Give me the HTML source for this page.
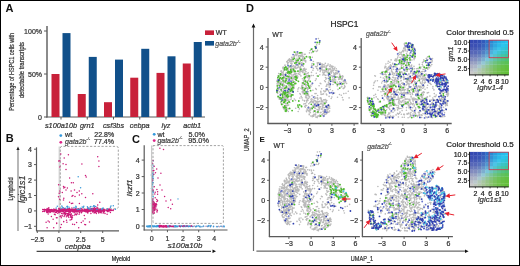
<!DOCTYPE html>
<html><head><meta charset="utf-8"><style>
html,body{margin:0;padding:0;background:#fff;}
#wrap{position:relative;width:520px;height:266px;overflow:hidden;background:#fff;}
svg{position:absolute;left:0;top:0;font-family:"Liberation Sans", sans-serif;will-change:transform;}
#border{position:absolute;left:0;top:0;width:518px;height:264px;border:1px solid #000;}
</style></head><body><div id="wrap">
<svg width="520" height="266" viewBox="0 0 520 266" xmlns="http://www.w3.org/2000/svg">
<text x="5.5" y="12" font-size="11" text-anchor="start" fill="#111" style="font-weight:bold;" >A</text>
<line x1="47" y1="26" x2="47" y2="117.5" stroke="#5a5a5a" stroke-width="1.4" />
<line x1="46.3" y1="117" x2="205" y2="117" stroke="#5a5a5a" stroke-width="1.2" />
<line x1="44" y1="31" x2="47" y2="31" stroke="#5a5a5a" stroke-width="1" />
<text x="42" y="33.5" font-size="7" text-anchor="end" fill="#333" style="stroke:#333;stroke-width:0.22px;" >100%</text>
<line x1="44" y1="74" x2="47" y2="74" stroke="#5a5a5a" stroke-width="1" />
<text x="42" y="76.5" font-size="7" text-anchor="end" fill="#333" style="stroke:#333;stroke-width:0.22px;" >50%</text>
<line x1="44" y1="117" x2="47" y2="117" stroke="#5a5a5a" stroke-width="1" />
<text x="42" y="119.5" font-size="7" text-anchor="end" fill="#333" style="stroke:#333;stroke-width:0.22px;" >0</text>
<rect x="51.5" y="74" width="8" height="43" fill="#c8213a" />
<rect x="62.5" y="33.1" width="8" height="83.9" fill="#11508a" />
<line x1="61.0" y1="117" x2="61.0" y2="119.5" stroke="#5a5a5a" stroke-width="1" />
<text x="61.0" y="128" font-size="7.3" text-anchor="middle" fill="#333" style="stroke:#333;stroke-width:0.22px;font-style:italic;" >s100a10b</text>
<rect x="77.75" y="94" width="8" height="23" fill="#c8213a" />
<rect x="88.75" y="56.9" width="8" height="60.1" fill="#11508a" />
<line x1="87.25" y1="117" x2="87.25" y2="119.5" stroke="#5a5a5a" stroke-width="1" />
<text x="87.25" y="128" font-size="7.3" text-anchor="middle" fill="#333" style="stroke:#333;stroke-width:0.22px;font-style:italic;" >grn1</text>
<rect x="104.0" y="102.2" width="8" height="14.799999999999997" fill="#c8213a" />
<rect x="115.0" y="59.6" width="8" height="57.4" fill="#11508a" />
<line x1="113.5" y1="117" x2="113.5" y2="119.5" stroke="#5a5a5a" stroke-width="1" />
<text x="113.5" y="128" font-size="7.3" text-anchor="middle" fill="#333" style="stroke:#333;stroke-width:0.22px;font-style:italic;" >csf3bs</text>
<rect x="130.25" y="77.7" width="8" height="39.3" fill="#c8213a" />
<rect x="141.25" y="48.8" width="8" height="68.2" fill="#11508a" />
<line x1="139.75" y1="117" x2="139.75" y2="119.5" stroke="#5a5a5a" stroke-width="1" />
<text x="139.75" y="128" font-size="7.3" text-anchor="middle" fill="#333" style="stroke:#333;stroke-width:0.22px;font-style:italic;" >cebpa</text>
<rect x="156.5" y="72.9" width="8" height="44.099999999999994" fill="#c8213a" />
<rect x="167.5" y="56.3" width="8" height="60.7" fill="#11508a" />
<line x1="166.0" y1="117" x2="166.0" y2="119.5" stroke="#5a5a5a" stroke-width="1" />
<text x="166.0" y="128" font-size="7.3" text-anchor="middle" fill="#333" style="stroke:#333;stroke-width:0.22px;font-style:italic;" >lyz</text>
<rect x="182.75" y="63.5" width="8" height="53.5" fill="#c8213a" />
<rect x="193.75" y="42" width="8" height="75" fill="#11508a" />
<line x1="192.25" y1="117" x2="192.25" y2="119.5" stroke="#5a5a5a" stroke-width="1" />
<text x="192.25" y="128" font-size="7.3" text-anchor="middle" fill="#333" style="stroke:#333;stroke-width:0.22px;font-style:italic;" >actb1</text>
<text x="0" y="0" font-size="6.6" text-anchor="middle" fill="#333" style="stroke:#333;stroke-width:0.22px;" transform="translate(13.6,71.8) rotate(-90) scale(0.834,1)" >Percentage of HSPC1 cells with</text>
<text x="0" y="0" font-size="6.6" text-anchor="middle" fill="#333" style="stroke:#333;stroke-width:0.22px;" transform="translate(24.3,70.1) rotate(-90) scale(0.9,1)" >detectable transcripts</text>
<rect x="205" y="30.4" width="9" height="4.6" fill="#c8213a" />
<rect x="205" y="41" width="9" height="4.6" fill="#11508a" />
<text x="215.8" y="35" font-size="7" text-anchor="start" fill="#333" style="stroke:#333;stroke-width:0.22px;" >WT</text>
<text x="215.3" y="46" font-size="7" text-anchor="start" fill="#555" style="stroke:#555;stroke-width:0.22px;font-style:italic;" >gata2b</text>
<text x="236.5" y="42.5" font-size="4" text-anchor="start" fill="#555" style="stroke:#555;stroke-width:0.22px;font-style:italic;" >-/-</text>
<text x="246" y="12" font-size="11" text-anchor="start" fill="#111" style="font-weight:bold;" >D</text>
<text x="330.4" y="27.2" font-size="8.4" text-anchor="start" fill="#222" style="stroke:#222;stroke-width:0.22px;" >HSPC1</text>
<line x1="253.5" y1="26" x2="253.5" y2="251" stroke="#6a6a6a" stroke-width="1.2" />
<path d="M251.6,27.5 L253.5,23.6 L255.4,27.5 Z" fill="#111"/>
<line x1="256.4" y1="251.2" x2="466" y2="251.2" stroke="#6a6a6a" stroke-width="1.2" />
<path d="M465,249.4 L468.6,251.2 L465,253 Z" fill="#111"/>
<text x="0" y="0" font-size="7" text-anchor="middle" fill="#333" style="stroke:#333;stroke-width:0.22px;" transform="translate(249.3,139.7) rotate(-90) scale(0.82,1)" >UMAP_2</text>
<text x="0" y="0" font-size="7" text-anchor="middle" fill="#333" style="stroke:#333;stroke-width:0.22px;" transform="translate(362,260.8) scale(0.8,1)" >UMAP_1</text>
<text x="259.6" y="141.9" font-size="8" text-anchor="start" fill="#111" style="font-weight:bold;" >E</text>
<line x1="268" y1="37.9" x2="268" y2="124.0" stroke="#5a5a5a" stroke-width="1.3" />
<line x1="267.5" y1="123.5" x2="358.5" y2="123.5" stroke="#5a5a5a" stroke-width="1.3" />
<line x1="265.7" y1="47.0" x2="268" y2="47.0" stroke="#5a5a5a" stroke-width="1" />
<text x="263.7" y="49.5" font-size="7" text-anchor="end" fill="#333" style="stroke:#333;stroke-width:0.22px;" >4</text>
<line x1="265.7" y1="67.2" x2="268" y2="67.2" stroke="#5a5a5a" stroke-width="1" />
<text x="263.7" y="69.7" font-size="7" text-anchor="end" fill="#333" style="stroke:#333;stroke-width:0.22px;" >2</text>
<line x1="265.7" y1="87.4" x2="268" y2="87.4" stroke="#5a5a5a" stroke-width="1" />
<text x="263.7" y="89.9" font-size="7" text-anchor="end" fill="#333" style="stroke:#333;stroke-width:0.22px;" >0</text>
<line x1="265.7" y1="107.6" x2="268" y2="107.6" stroke="#5a5a5a" stroke-width="1" />
<text x="263.7" y="110.1" font-size="7" text-anchor="end" fill="#333" style="stroke:#333;stroke-width:0.22px;" >−2</text>
<line x1="287.5" y1="123.5" x2="287.5" y2="125.8" stroke="#5a5a5a" stroke-width="1" />
<text x="287.5" y="133.1" font-size="7" text-anchor="middle" fill="#333" style="stroke:#333;stroke-width:0.22px;" >−3</text>
<line x1="309.7" y1="123.5" x2="309.7" y2="125.8" stroke="#5a5a5a" stroke-width="1" />
<text x="309.7" y="133.1" font-size="7" text-anchor="middle" fill="#333" style="stroke:#333;stroke-width:0.22px;" >0</text>
<line x1="331.9" y1="123.5" x2="331.9" y2="125.8" stroke="#5a5a5a" stroke-width="1" />
<text x="331.9" y="133.1" font-size="7" text-anchor="middle" fill="#333" style="stroke:#333;stroke-width:0.22px;" >3</text>
<line x1="354.1" y1="123.5" x2="354.1" y2="125.8" stroke="#5a5a5a" stroke-width="1" />
<text x="354.1" y="133.1" font-size="7" text-anchor="middle" fill="#333" style="stroke:#333;stroke-width:0.22px;" >6</text>
<text x="272.2" y="36.6" font-size="7" text-anchor="start" fill="#333" style="stroke:#333;stroke-width:0.22px;" >WT</text>
<line x1="361.2" y1="37.9" x2="361.2" y2="124.0" stroke="#5a5a5a" stroke-width="1.3" />
<line x1="360.7" y1="123.5" x2="451.7" y2="123.5" stroke="#5a5a5a" stroke-width="1.3" />
<line x1="358.9" y1="47.0" x2="361.2" y2="47.0" stroke="#5a5a5a" stroke-width="1" />
<text x="356.9" y="49.5" font-size="7" text-anchor="end" fill="#333" style="stroke:#333;stroke-width:0.22px;" >4</text>
<line x1="358.9" y1="67.2" x2="361.2" y2="67.2" stroke="#5a5a5a" stroke-width="1" />
<text x="356.9" y="69.7" font-size="7" text-anchor="end" fill="#333" style="stroke:#333;stroke-width:0.22px;" >2</text>
<line x1="358.9" y1="87.4" x2="361.2" y2="87.4" stroke="#5a5a5a" stroke-width="1" />
<text x="356.9" y="89.9" font-size="7" text-anchor="end" fill="#333" style="stroke:#333;stroke-width:0.22px;" >0</text>
<line x1="358.9" y1="107.6" x2="361.2" y2="107.6" stroke="#5a5a5a" stroke-width="1" />
<text x="356.9" y="110.1" font-size="7" text-anchor="end" fill="#333" style="stroke:#333;stroke-width:0.22px;" >−2</text>
<line x1="380.7" y1="123.5" x2="380.7" y2="125.8" stroke="#5a5a5a" stroke-width="1" />
<text x="380.7" y="133.1" font-size="7" text-anchor="middle" fill="#333" style="stroke:#333;stroke-width:0.22px;" >−3</text>
<line x1="402.9" y1="123.5" x2="402.9" y2="125.8" stroke="#5a5a5a" stroke-width="1" />
<text x="402.9" y="133.1" font-size="7" text-anchor="middle" fill="#333" style="stroke:#333;stroke-width:0.22px;" >0</text>
<line x1="425.09999999999997" y1="123.5" x2="425.09999999999997" y2="125.8" stroke="#5a5a5a" stroke-width="1" />
<text x="425.09999999999997" y="133.1" font-size="7" text-anchor="middle" fill="#333" style="stroke:#333;stroke-width:0.22px;" >3</text>
<line x1="447.29999999999995" y1="123.5" x2="447.29999999999995" y2="125.8" stroke="#5a5a5a" stroke-width="1" />
<text x="447.29999999999995" y="133.1" font-size="7" text-anchor="middle" fill="#333" style="stroke:#333;stroke-width:0.22px;" >6</text>
<text x="366.0" y="36.3" font-size="7" text-anchor="start" fill="#555" style="stroke:#555;stroke-width:0.22px;font-style:italic;" >gata2b</text>
<text x="386.7" y="33" font-size="4" text-anchor="start" fill="#555" style="stroke:#555;stroke-width:0.22px;font-style:italic;" >-/-</text>
<line x1="269.4" y1="151.0" x2="269.4" y2="237.1" stroke="#5a5a5a" stroke-width="1.3" />
<line x1="268.9" y1="236.6" x2="359.9" y2="236.6" stroke="#5a5a5a" stroke-width="1.3" />
<line x1="267.09999999999997" y1="160.1" x2="269.4" y2="160.1" stroke="#5a5a5a" stroke-width="1" />
<text x="265.09999999999997" y="162.6" font-size="7" text-anchor="end" fill="#333" style="stroke:#333;stroke-width:0.22px;" >4</text>
<line x1="267.09999999999997" y1="180.29999999999998" x2="269.4" y2="180.29999999999998" stroke="#5a5a5a" stroke-width="1" />
<text x="265.09999999999997" y="182.79999999999998" font-size="7" text-anchor="end" fill="#333" style="stroke:#333;stroke-width:0.22px;" >2</text>
<line x1="267.09999999999997" y1="200.5" x2="269.4" y2="200.5" stroke="#5a5a5a" stroke-width="1" />
<text x="265.09999999999997" y="203.0" font-size="7" text-anchor="end" fill="#333" style="stroke:#333;stroke-width:0.22px;" >0</text>
<line x1="267.09999999999997" y1="220.7" x2="269.4" y2="220.7" stroke="#5a5a5a" stroke-width="1" />
<text x="265.09999999999997" y="223.2" font-size="7" text-anchor="end" fill="#333" style="stroke:#333;stroke-width:0.22px;" >−2</text>
<line x1="288.9" y1="236.6" x2="288.9" y2="238.9" stroke="#5a5a5a" stroke-width="1" />
<text x="288.9" y="246.2" font-size="7" text-anchor="middle" fill="#333" style="stroke:#333;stroke-width:0.22px;" >−3</text>
<line x1="311.09999999999997" y1="236.6" x2="311.09999999999997" y2="238.9" stroke="#5a5a5a" stroke-width="1" />
<text x="311.09999999999997" y="246.2" font-size="7" text-anchor="middle" fill="#333" style="stroke:#333;stroke-width:0.22px;" >0</text>
<line x1="333.29999999999995" y1="236.6" x2="333.29999999999995" y2="238.9" stroke="#5a5a5a" stroke-width="1" />
<text x="333.29999999999995" y="246.2" font-size="7" text-anchor="middle" fill="#333" style="stroke:#333;stroke-width:0.22px;" >3</text>
<line x1="355.5" y1="236.6" x2="355.5" y2="238.9" stroke="#5a5a5a" stroke-width="1" />
<text x="355.5" y="246.2" font-size="7" text-anchor="middle" fill="#333" style="stroke:#333;stroke-width:0.22px;" >6</text>
<text x="273.59999999999997" y="147.5" font-size="7" text-anchor="start" fill="#333" style="stroke:#333;stroke-width:0.22px;" >WT</text>
<line x1="362.4" y1="151.0" x2="362.4" y2="237.1" stroke="#5a5a5a" stroke-width="1.3" />
<line x1="361.9" y1="236.6" x2="452.9" y2="236.6" stroke="#5a5a5a" stroke-width="1.3" />
<line x1="360.09999999999997" y1="160.1" x2="362.4" y2="160.1" stroke="#5a5a5a" stroke-width="1" />
<text x="358.09999999999997" y="162.6" font-size="7" text-anchor="end" fill="#333" style="stroke:#333;stroke-width:0.22px;" >4</text>
<line x1="360.09999999999997" y1="180.29999999999998" x2="362.4" y2="180.29999999999998" stroke="#5a5a5a" stroke-width="1" />
<text x="358.09999999999997" y="182.79999999999998" font-size="7" text-anchor="end" fill="#333" style="stroke:#333;stroke-width:0.22px;" >2</text>
<line x1="360.09999999999997" y1="200.5" x2="362.4" y2="200.5" stroke="#5a5a5a" stroke-width="1" />
<text x="358.09999999999997" y="203.0" font-size="7" text-anchor="end" fill="#333" style="stroke:#333;stroke-width:0.22px;" >0</text>
<line x1="360.09999999999997" y1="220.7" x2="362.4" y2="220.7" stroke="#5a5a5a" stroke-width="1" />
<text x="358.09999999999997" y="223.2" font-size="7" text-anchor="end" fill="#333" style="stroke:#333;stroke-width:0.22px;" >−2</text>
<line x1="381.9" y1="236.6" x2="381.9" y2="238.9" stroke="#5a5a5a" stroke-width="1" />
<text x="381.9" y="246.2" font-size="7" text-anchor="middle" fill="#333" style="stroke:#333;stroke-width:0.22px;" >−3</text>
<line x1="404.09999999999997" y1="236.6" x2="404.09999999999997" y2="238.9" stroke="#5a5a5a" stroke-width="1" />
<text x="404.09999999999997" y="246.2" font-size="7" text-anchor="middle" fill="#333" style="stroke:#333;stroke-width:0.22px;" >0</text>
<line x1="426.29999999999995" y1="236.6" x2="426.29999999999995" y2="238.9" stroke="#5a5a5a" stroke-width="1" />
<text x="426.29999999999995" y="246.2" font-size="7" text-anchor="middle" fill="#333" style="stroke:#333;stroke-width:0.22px;" >3</text>
<line x1="448.5" y1="236.6" x2="448.5" y2="238.9" stroke="#5a5a5a" stroke-width="1" />
<text x="448.5" y="246.2" font-size="7" text-anchor="middle" fill="#333" style="stroke:#333;stroke-width:0.22px;" >6</text>
<text x="367.2" y="148.70000000000002" font-size="7" text-anchor="start" fill="#555" style="stroke:#555;stroke-width:0.22px;font-style:italic;" >gata2b</text>
<text x="387.9" y="145.4" font-size="4" text-anchor="start" fill="#555" style="stroke:#555;stroke-width:0.22px;font-style:italic;" >-/-</text>
<path stroke="#bababa" stroke-width="1.64" stroke-linecap="round" fill="none" d="M317.5 50.3h0M310.2 50.5h0M318.4 38.6h0M314.9 51.1h0M319.3 44.2h0M316.6 44.9h0M311.6 49.3h0M319.4 43.1h0M316.8 51.4h0M311.7 52.7h0M309.5 52.9h0M312.2 48.9h0M312.5 50.8h0M299.8 72.2h0M294.6 67.2h0M300.7 70.9h0M300.7 66.6h0M302.0 71.2h0M291.4 66.2h0M304.6 70.2h0M293.0 68.5h0M298.0 59.7h0M284.9 65.2h0M300.5 59.9h0M300.6 64.0h0M294.5 56.4h0M299.8 62.2h0M297.7 71.3h0M287.8 60.8h0M302.3 71.2h0M304.1 59.8h0M297.0 58.3h0M303.1 69.7h0M300.1 71.9h0M293.8 57.4h0M288.1 60.4h0M298.0 62.1h0M300.0 63.8h0M293.9 52.0h0M302.9 56.6h0M298.1 61.1h0M298.1 65.6h0M302.4 72.1h0M299.4 55.8h0M294.4 55.3h0M300.1 55.4h0M289.5 58.9h0M299.7 62.7h0M297.7 67.8h0M292.4 68.5h0M292.0 63.7h0M304.1 68.6h0M305.7 61.5h0M298.6 55.9h0M300.3 69.1h0M298.4 66.9h0M295.9 68.5h0M303.5 59.0h0M296.2 68.0h0M302.4 52.9h0M302.2 55.2h0M291.0 68.4h0M295.4 67.1h0M303.2 66.3h0M305.7 62.1h0M288.3 62.8h0M290.0 67.2h0M298.3 62.7h0M303.2 63.5h0M290.5 59.7h0M303.3 70.9h0M296.8 55.8h0M295.9 62.3h0M297.5 52.1h0M292.6 68.7h0M296.5 62.1h0M295.9 60.4h0M289.5 61.7h0M302.6 70.9h0M287.6 64.8h0M305.2 54.3h0M291.5 64.8h0M295.7 60.9h0M292.0 60.4h0M295.7 54.9h0M287.9 65.1h0M298.3 62.9h0M303.4 64.7h0M303.6 56.5h0M300.8 68.9h0M304.3 54.4h0M288.7 67.1h0M303.0 60.6h0M302.0 54.2h0M292.7 66.2h0M299.4 71.1h0M295.1 67.8h0M295.1 66.2h0M296.6 54.7h0M303.2 72.8h0M294.1 67.9h0M290.8 61.5h0M295.4 60.7h0M299.8 69.7h0M287.4 61.3h0M300.7 60.2h0M304.4 68.7h0M299.9 70.0h0M297.4 62.3h0M300.9 68.2h0M302.6 60.2h0M304.5 70.4h0M299.7 68.0h0M300.3 53.0h0M291.2 61.6h0M298.3 64.9h0M299.0 58.8h0M298.8 63.7h0M295.8 59.9h0M299.8 67.9h0M297.8 67.4h0M289.2 60.1h0M296.2 62.4h0M302.4 53.1h0M297.3 67.8h0M286.8 61.6h0M287.1 62.2h0M297.7 52.8h0M305.7 60.5h0M295.6 64.4h0M291.8 57.6h0M298.7 63.6h0M289.8 66.9h0M293.3 61.8h0M300.3 61.6h0M297.5 54.0h0M298.0 61.3h0M295.7 54.2h0M293.6 65.9h0M293.9 57.1h0M301.7 62.9h0M300.6 56.6h0M291.6 57.3h0M297.2 65.1h0M301.1 55.6h0M305.0 70.4h0M289.5 60.6h0M298.0 53.7h0M296.0 53.1h0M285.1 66.0h0M296.2 65.1h0M292.0 61.8h0M302.4 64.9h0M301.5 56.1h0M293.2 57.0h0M302.4 59.4h0M290.8 63.3h0M300.9 71.3h0M296.5 61.9h0M299.4 57.9h0M301.6 53.1h0M300.4 66.4h0M291.6 67.1h0M300.0 63.7h0M304.9 60.9h0M302.3 58.1h0M290.6 60.1h0M289.0 59.3h0M291.8 59.3h0M292.5 59.8h0M287.7 63.6h0M302.1 63.1h0M303.1 63.6h0M304.1 57.6h0M296.1 63.7h0M302.3 52.9h0M296.1 68.4h0M300.7 70.8h0M285.0 65.1h0M298.6 56.8h0M295.5 67.9h0M292.5 58.8h0M300.3 66.7h0M305.0 60.3h0M302.8 65.8h0M303.5 68.8h0M303.0 70.6h0M295.6 66.8h0M302.3 60.6h0M291.4 91.7h0M283.5 107.6h0M292.4 71.6h0M281.4 91.1h0M284.7 96.7h0M286.7 92.1h0M285.3 95.4h0M288.0 91.9h0M290.4 85.8h0M288.3 89.0h0M287.0 68.4h0M282.8 80.0h0M287.0 76.8h0M297.8 76.2h0M284.4 80.9h0M282.0 79.5h0M285.9 87.6h0M293.3 74.8h0M279.3 99.2h0M284.8 107.2h0M280.1 97.9h0M284.6 98.5h0M281.7 74.3h0M282.7 96.4h0M292.1 76.5h0M284.5 108.4h0M294.2 78.7h0M293.5 70.1h0M290.5 90.3h0M277.7 93.5h0M284.0 77.5h0M284.1 100.6h0M283.0 78.8h0M291.0 74.5h0M277.4 87.1h0M281.3 91.5h0M293.6 82.5h0M290.2 89.2h0M281.1 101.7h0M280.9 93.9h0M282.7 86.2h0M297.5 76.8h0M289.5 76.1h0M291.9 88.9h0M277.4 93.3h0M299.6 74.2h0M289.6 85.9h0M288.2 78.0h0M282.8 72.7h0M284.7 67.9h0M290.4 78.1h0M292.1 70.1h0M298.2 73.9h0M283.3 73.3h0M287.4 82.7h0M280.3 86.9h0M282.9 106.8h0M284.4 85.4h0M283.2 91.3h0M282.9 87.1h0M287.2 95.8h0M288.8 84.0h0M297.2 75.9h0M285.7 74.4h0M291.1 73.5h0M281.9 75.8h0M288.9 80.1h0M288.3 111.5h0M281.9 83.5h0M278.4 97.7h0M283.5 84.0h0M283.6 82.5h0M286.0 101.1h0M277.0 80.8h0M278.0 84.0h0M282.8 67.9h0M280.5 93.3h0M277.3 80.3h0M280.1 98.4h0M283.4 99.2h0M294.2 72.7h0M286.7 105.7h0M282.5 79.4h0M285.6 75.9h0M284.4 96.7h0M300.9 75.9h0M278.9 85.6h0M286.9 68.8h0M286.7 81.0h0M289.7 78.8h0M280.7 84.4h0M289.1 73.6h0M294.1 77.0h0M279.0 81.7h0M291.2 98.1h0M277.1 83.9h0M286.2 68.9h0M287.2 68.5h0M289.6 92.8h0M283.2 67.1h0M285.7 106.8h0M294.2 74.5h0M288.9 94.2h0M287.5 78.6h0M286.6 107.7h0M289.9 80.1h0M282.8 88.6h0M293.0 91.7h0M298.3 73.3h0M293.0 88.5h0M284.1 100.3h0M290.7 76.9h0M281.2 89.5h0M295.2 71.2h0M288.5 101.4h0M289.2 73.4h0M289.9 102.5h0M286.9 98.8h0M283.2 98.8h0M285.2 81.3h0M287.6 98.4h0M286.5 96.7h0M282.6 74.5h0M287.0 108.7h0M277.6 79.1h0M279.7 81.1h0M277.2 90.8h0M289.3 83.1h0M284.7 102.7h0M286.9 94.3h0M286.8 97.8h0M283.2 88.4h0M279.7 80.8h0M280.3 94.6h0M283.8 76.4h0M283.4 68.3h0M281.3 88.1h0M287.0 68.6h0M293.0 78.7h0M281.0 71.4h0M278.5 82.4h0M287.2 98.3h0M283.1 107.7h0M277.1 92.4h0M282.5 83.8h0M285.0 70.3h0M291.0 97.2h0M281.2 70.8h0M280.3 82.0h0M289.8 84.5h0M287.3 98.3h0M281.2 78.5h0M285.0 74.4h0M293.2 89.1h0M291.5 71.2h0M282.6 93.5h0M291.7 89.6h0M288.3 93.2h0M280.5 87.5h0M284.8 99.7h0M282.7 104.5h0M295.4 77.5h0M281.7 78.8h0M289.5 77.1h0M280.5 82.8h0M285.7 105.6h0M281.3 83.8h0M295.8 75.0h0M294.2 85.7h0M276.9 81.6h0M284.9 94.8h0M283.9 93.6h0M294.9 74.3h0M292.7 82.4h0M287.3 72.7h0M293.2 85.5h0M291.9 79.0h0M288.6 108.8h0M286.8 100.0h0M292.4 86.5h0M278.2 85.2h0M284.0 86.2h0M283.0 84.8h0M283.2 85.3h0M285.6 103.6h0M291.0 70.6h0M286.1 83.2h0M285.6 107.1h0M284.9 96.7h0M287.0 104.0h0M288.7 84.4h0M293.9 76.0h0M286.3 72.5h0M287.0 100.0h0M278.7 73.6h0M285.8 90.5h0M291.5 71.9h0M278.8 89.5h0M283.0 85.0h0M277.9 76.0h0M288.5 91.6h0M288.7 105.0h0M290.4 84.6h0M295.4 73.2h0M287.5 69.6h0M283.4 71.1h0M289.5 96.0h0M284.4 99.9h0M283.3 82.8h0M287.9 87.8h0M286.0 85.7h0M288.4 68.3h0M279.1 83.0h0M287.3 110.3h0M292.3 82.9h0M284.5 93.9h0M292.1 80.4h0M279.0 77.5h0M287.8 105.4h0M287.2 79.1h0M285.2 80.5h0M288.2 100.4h0M279.6 80.2h0M300.9 75.7h0M287.5 90.6h0M286.5 96.9h0M296.2 73.6h0M292.0 75.3h0M285.7 73.5h0M290.3 83.8h0M286.0 92.7h0M285.2 97.9h0M283.3 68.9h0M288.6 88.3h0M282.6 100.5h0M282.3 75.1h0M290.7 93.9h0M283.2 79.4h0M283.2 72.0h0M289.3 78.5h0M284.1 78.7h0M290.9 99.6h0M290.7 96.2h0M283.4 68.5h0M297.4 76.7h0M289.9 91.9h0M285.7 76.6h0M279.2 91.9h0M278.5 90.1h0M281.4 90.1h0M285.9 88.9h0M287.6 88.3h0M278.6 88.3h0M284.5 81.4h0M289.5 93.1h0M278.8 89.8h0M287.3 81.4h0M285.4 96.9h0M299.9 74.0h0M285.3 76.9h0M293.8 77.9h0M290.4 77.7h0M299.7 74.5h0M282.7 79.8h0M285.2 99.3h0M296.7 77.2h0M280.3 75.4h0M281.6 72.2h0M281.4 81.9h0M277.8 80.1h0M281.3 71.6h0M288.8 74.7h0M296.0 75.7h0M293.8 87.3h0M283.4 94.3h0M286.3 87.7h0M293.0 80.5h0M285.9 106.5h0M290.8 87.1h0M280.8 89.3h0M282.7 92.7h0M284.0 70.4h0M294.7 81.9h0M291.3 88.8h0M289.7 78.3h0M288.7 70.1h0M289.7 88.1h0M283.9 86.3h0M282.7 104.0h0M297.6 77.7h0M282.2 104.2h0M281.2 103.3h0M284.5 77.2h0M290.1 81.7h0M284.7 74.5h0M279.8 99.3h0M289.5 83.6h0M280.8 102.4h0M282.6 95.9h0M290.2 80.5h0M283.7 74.6h0M284.2 109.6h0M283.9 89.9h0M289.0 100.1h0M283.1 75.1h0M291.9 77.1h0M285.2 69.2h0M277.9 82.3h0M293.4 85.0h0M287.3 76.8h0M291.2 95.4h0M283.2 90.8h0M291.1 78.5h0M288.6 85.8h0M283.6 97.8h0M288.1 71.9h0M305.8 94.1h0M305.0 88.5h0M303.3 93.8h0M303.4 83.8h0M310.9 86.6h0M302.1 89.3h0M303.7 81.3h0M308.4 94.1h0M305.9 88.2h0M302.9 91.6h0M303.2 89.8h0M306.9 87.9h0M305.9 93.0h0M309.6 77.5h0M302.6 86.7h0M302.1 83.0h0M302.7 85.4h0M309.3 76.6h0M308.4 95.0h0M306.8 84.7h0M306.0 73.8h0M302.7 85.6h0M308.0 98.7h0M305.8 82.1h0M309.1 78.3h0M302.3 88.0h0M305.5 85.4h0M308.8 80.0h0M304.3 77.4h0M306.1 69.3h0M305.7 85.5h0M304.7 69.7h0M301.9 87.1h0M306.0 95.6h0M301.9 85.4h0M306.0 75.1h0M307.4 75.8h0M308.4 95.7h0M306.7 97.3h0M306.7 75.7h0M303.1 90.2h0M308.7 76.3h0M308.4 80.7h0M303.1 93.1h0M306.2 86.8h0M305.0 77.4h0M307.3 91.1h0M307.3 94.8h0M307.7 77.6h0M305.4 77.3h0M307.6 76.9h0M304.8 93.8h0M309.1 87.9h0M309.5 78.0h0M307.6 73.4h0M304.5 68.2h0M309.1 96.3h0M307.6 95.3h0M306.0 71.7h0M304.3 79.3h0M304.1 89.7h0M301.8 86.6h0M302.2 91.9h0M305.8 85.3h0M302.4 78.8h0M307.0 95.5h0M307.6 81.0h0M308.9 87.7h0M305.4 82.4h0M308.3 88.4h0M304.4 79.8h0M305.9 84.1h0M304.2 91.4h0M304.0 91.1h0M307.1 87.6h0M305.4 82.6h0M303.4 80.6h0M303.9 87.9h0M303.4 83.0h0M305.1 70.2h0M303.2 90.7h0M303.5 68.9h0M303.1 72.7h0M306.0 69.2h0M304.8 73.0h0M307.7 89.4h0M308.9 79.7h0M305.8 80.8h0M305.0 80.4h0M308.0 89.1h0M305.5 97.0h0M304.5 77.4h0M304.5 69.5h0M305.1 70.8h0M308.4 91.8h0M304.5 91.1h0M308.5 75.2h0M305.8 76.9h0M304.0 92.5h0M310.2 85.4h0M303.4 92.3h0M305.7 93.5h0M304.2 74.8h0M300.4 94.3h0M298.8 87.7h0M301.2 96.4h0M299.9 93.6h0M295.5 100.3h0M294.3 99.0h0M295.5 100.5h0M299.3 108.9h0M302.0 97.9h0M299.9 98.1h0M294.1 88.2h0M302.6 100.0h0M298.0 89.1h0M298.2 111.5h0M297.7 106.7h0M295.7 108.3h0M297.8 91.2h0M301.0 88.2h0M308.2 57.0h0M310.3 60.4h0M312.3 57.2h0M327.3 89.5h0M328.2 84.4h0M324.6 80.8h0M316.2 78.9h0M312.9 70.3h0M329.1 87.1h0M321.1 94.4h0M313.4 68.4h0M311.6 65.3h0M316.3 73.2h0M325.9 79.2h0M320.8 91.5h0M311.9 84.7h0M326.1 86.2h0M312.2 65.6h0M313.4 61.5h0M308.3 72.8h0M311.2 75.6h0M320.9 83.7h0M315.7 88.5h0M319.1 85.7h0M328.8 85.0h0M317.8 70.1h0M322.8 75.0h0M328.5 90.6h0M323.5 93.9h0M325.4 81.8h0M321.6 88.8h0M313.6 65.2h0M326.9 84.5h0M325.5 77.6h0M327.9 90.1h0M326.0 89.0h0M311.5 72.4h0M317.6 95.5h0M313.2 75.5h0M326.8 94.9h0M324.3 91.8h0M322.4 94.3h0M317.3 62.9h0M316.3 89.4h0M323.8 90.7h0M317.2 75.9h0M319.8 74.7h0M309.8 76.5h0M320.8 91.2h0M312.9 90.2h0M320.2 83.3h0M311.1 75.5h0M326.3 94.0h0M316.1 93.5h0M311.3 67.4h0M325.5 91.4h0M320.9 92.8h0M326.9 84.4h0M312.1 63.6h0M315.0 93.6h0M326.0 90.0h0M328.5 82.4h0M315.4 80.5h0M312.2 83.1h0M326.8 85.9h0M335.3 76.8h0M336.3 77.1h0M337.5 73.6h0M326.5 66.5h0M335.4 74.4h0M320.2 71.6h0M330.1 76.9h0M340.4 78.2h0M334.2 69.3h0M330.6 69.8h0M334.2 69.3h0M334.8 74.8h0M332.5 71.0h0M329.0 72.8h0M333.5 76.1h0M332.5 77.1h0M345.4 82.1h0M315.9 66.8h0M315.6 66.5h0M325.1 75.3h0M342.3 78.0h0M344.1 80.2h0M322.7 72.1h0M330.3 65.0h0M322.7 67.1h0M333.8 82.3h0M331.3 66.8h0M318.3 62.9h0M321.3 69.1h0M339.5 74.1h0M329.2 76.5h0M339.6 75.3h0M327.8 65.4h0M337.0 70.6h0M331.8 71.6h0M331.4 66.0h0M327.9 68.7h0M334.1 73.6h0M336.9 73.5h0M323.1 70.0h0M322.1 65.4h0M334.3 76.2h0M320.9 63.8h0M334.1 74.4h0M335.7 73.1h0M341.9 76.4h0M343.2 88.6h0M341.5 82.8h0M337.1 76.9h0M322.9 64.8h0M336.2 68.7h0M334.6 76.8h0M334.4 73.6h0M322.7 70.2h0M337.3 85.9h0M325.2 70.5h0M329.3 73.6h0M339.6 83.8h0M335.8 70.5h0M332.8 76.0h0M343.9 88.3h0M341.4 84.5h0M319.5 68.9h0M333.8 81.3h0M338.1 77.3h0M332.6 68.9h0M330.1 74.6h0M319.8 68.8h0M318.8 62.7h0M334.5 79.8h0M327.3 72.2h0M325.7 71.8h0M343.1 81.0h0M341.9 86.7h0M326.7 70.9h0M341.9 79.1h0M329.4 69.3h0M326.1 68.6h0M332.1 80.1h0M316.6 66.8h0M324.7 66.9h0M324.2 65.1h0M317.5 65.8h0M330.7 70.0h0M340.1 75.7h0M331.7 72.1h0M332.3 66.2h0M334.2 74.9h0M330.3 69.7h0M340.0 76.1h0M324.3 72.6h0M343.1 76.7h0M328.7 76.2h0M316.8 68.5h0M334.5 81.8h0M327.4 72.7h0M330.0 69.3h0M332.8 81.8h0M342.6 75.7h0M334.7 75.2h0M331.4 73.1h0M320.7 67.3h0M340.4 75.9h0M341.6 79.6h0M329.7 66.5h0M323.5 67.0h0M320.4 63.1h0M335.7 80.0h0M328.5 74.3h0M344.7 79.5h0M338.9 78.2h0M334.9 79.2h0M342.3 79.0h0M322.4 64.2h0M341.8 84.7h0M320.5 70.6h0M338.7 79.5h0M341.6 82.5h0M329.8 74.0h0M335.4 83.3h0M332.9 81.6h0M336.3 73.8h0M321.9 69.4h0M332.7 70.7h0M339.1 84.6h0M324.0 74.5h0M331.7 70.2h0M322.1 66.2h0M330.5 71.9h0M333.7 80.2h0M338.6 83.6h0M346.6 83.4h0M320.7 64.6h0M335.8 72.5h0M344.5 83.8h0M332.0 71.2h0M325.3 63.4h0M339.8 74.2h0M317.5 64.1h0M345.1 86.7h0M339.9 75.7h0M340.0 79.1h0M333.1 66.6h0M319.6 64.2h0M328.8 69.8h0M333.7 72.8h0M326.2 65.8h0M337.3 72.0h0M334.9 67.3h0M332.2 67.7h0M333.7 70.4h0M320.5 69.9h0M328.1 64.0h0M321.0 66.8h0M332.5 79.3h0M319.6 67.9h0M334.3 68.5h0M334.7 78.9h0M332.7 68.3h0M322.6 64.3h0M326.6 70.3h0M317.1 68.6h0M330.4 68.3h0M344.6 85.9h0M340.9 78.2h0M344.1 81.6h0M337.2 82.0h0M334.0 79.8h0M332.6 76.4h0M330.0 65.0h0M334.6 78.5h0M331.2 75.7h0M336.4 83.7h0M321.8 68.3h0M341.2 87.0h0M343.5 81.5h0M334.7 82.3h0M324.4 70.3h0M344.0 83.4h0M335.0 82.0h0M345.6 81.6h0M324.0 64.7h0M320.5 69.0h0M333.3 70.7h0M336.9 84.0h0M339.8 81.9h0M326.0 75.3h0M340.2 77.2h0M328.3 71.0h0M320.4 64.0h0M334.2 78.6h0M344.3 87.8h0M324.0 74.2h0M332.4 79.7h0M326.2 67.6h0M338.6 71.9h0M321.8 67.2h0M323.2 73.1h0M329.5 68.8h0M324.3 71.1h0M323.4 66.9h0M322.4 106.1h0M320.4 104.0h0M310.9 101.8h0M309.7 110.9h0M305.9 97.8h0M317.2 117.6h0M324.7 110.3h0M323.6 99.9h0M306.6 97.9h0M312.9 105.9h0M309.4 97.0h0M307.2 99.8h0M307.5 109.9h0M326.4 102.4h0M323.4 116.4h0M324.2 113.0h0M322.5 104.8h0M319.0 116.2h0M315.6 114.9h0M322.7 106.1h0M328.8 112.3h0M309.6 111.1h0M328.9 105.0h0M312.2 102.1h0M309.4 110.1h0M325.7 107.0h0M321.9 114.5h0M325.6 99.5h0M308.0 98.7h0M321.3 109.3h0M309.3 114.0h0M322.5 107.6h0M314.7 100.5h0M326.4 102.4h0M314.7 96.7h0M326.2 106.4h0M307.9 100.4h0M304.1 103.7h0M314.0 114.3h0M326.8 100.6h0M323.6 103.3h0M324.3 110.1h0M305.4 105.8h0M315.0 105.6h0M318.5 110.8h0M314.4 106.9h0M325.9 110.6h0M308.7 98.3h0M314.0 115.1h0M329.6 111.0h0M313.5 112.0h0M317.1 116.7h0M317.1 109.6h0M322.1 109.4h0M308.3 108.0h0M315.1 110.6h0M324.5 99.9h0M313.5 101.0h0M329.6 106.3h0M315.7 117.0h0M324.7 114.6h0M317.1 98.1h0M314.3 105.4h0M316.5 117.3h0M317.9 98.9h0M308.3 110.6h0M317.5 104.5h0M316.9 104.5h0M321.9 108.6h0M304.8 106.4h0M310.3 108.4h0M316.0 112.4h0M320.2 106.7h0M306.6 111.7h0M308.8 103.8h0M319.3 101.2h0M316.1 102.5h0M319.1 109.8h0M319.5 116.4h0M315.4 103.6h0M323.8 107.7h0M310.8 116.0h0M309.6 96.9h0M318.1 115.8h0M326.7 113.6h0M320.0 106.8h0M311.4 98.9h0M315.5 114.0h0M325.2 107.5h0M319.5 104.6h0M321.9 103.3h0M323.7 104.7h0M322.3 106.6h0M327.6 106.1h0M314.0 111.4h0M317.3 101.5h0M321.1 99.0h0M311.6 100.9h0M311.1 108.0h0M326.9 109.7h0M321.0 112.4h0M314.1 104.9h0M321.2 99.9h0M307.0 109.1h0M312.9 99.3h0M320.0 107.3h0M318.0 106.8h0M320.2 112.8h0M323.0 111.2h0M325.9 105.8h0M320.8 97.7h0M305.7 105.4h0M322.0 100.5h0M316.8 105.8h0M310.3 109.5h0M313.3 103.0h0M315.5 108.3h0M306.4 111.0h0M305.3 107.2h0M312.3 116.7h0M315.4 114.2h0M304.3 100.5h0M304.5 101.1h0M313.8 102.1h0M308.5 106.9h0M319.1 108.2h0M323.6 105.4h0M306.7 102.1h0M309.2 114.7h0M311.7 107.6h0M320.0 98.1h0M315.2 98.2h0M318.2 111.7h0M306.6 105.6h0M321.6 103.7h0M329.1 106.4h0M314.0 110.9h0M326.8 112.4h0M317.5 97.7h0M317.0 102.0h0M317.2 103.9h0M324.1 110.1h0M311.0 99.7h0M309.9 102.6h0M315.0 106.6h0M310.6 101.9h0M319.6 108.5h0M312.0 95.6h0M306.4 100.6h0M323.5 111.9h0M313.1 115.2h0M307.9 100.4h0M319.0 107.2h0M324.9 102.2h0M327.9 109.5h0M322.2 108.2h0M309.2 107.9h0M312.5 102.2h0M310.4 112.6h0M321.1 98.2h0M322.6 115.1h0M319.8 115.1h0M318.4 106.6h0M314.5 108.0h0M328.2 108.7h0M323.7 105.7h0M327.4 112.6h0M317.3 102.0h0M317.6 104.9h0M319.7 101.6h0M328.0 106.1h0M326.0 101.1h0M327.6 107.5h0M329.0 107.9h0M318.0 103.4h0M315.9 101.3h0M315.6 101.2h0M305.6 103.5h0M312.1 101.3h0M318.4 101.8h0M323.1 102.1h0M322.2 101.2h0M320.9 103.3h0M317.3 101.4h0M318.1 109.9h0M326.4 101.0h0M318.9 108.0h0M327.2 106.1h0M314.6 104.4h0M329.8 108.3h0M317.9 112.8h0M319.9 106.9h0M321.3 101.1h0M323.0 113.8h0M312.2 116.0h0M309.2 111.7h0M317.9 99.5h0M326.8 107.3h0M303.9 104.1h0M327.5 111.4h0M310.7 109.9h0M324.2 107.8h0M306.6 100.8h0M313.7 116.3h0M314.6 98.6h0M321.1 103.1h0M326.0 113.9h0M315.6 98.0h0M343.1 99.9h0M326.9 78.3h0M329.1 80.7h0M337.5 97.2h0M330.3 89.5h0M348.3 91.3h0M338.0 89.4h0M341.3 95.2h0M349.1 97.9h0M342.4 97.6h0M329.2 83.4h0M339.5 94.5h0M331.9 97.0h0M329.7 87.2h0M328.7 91.7h0M330.2 85.7h0M330.2 79.9h0M343.8 93.6h0M333.0 84.5h0M332.6 90.8h0M332.7 94.0h0M334.5 93.1h0M331.2 98.5h0M326.1 90.2h0M329.1 96.4h0M346.0 93.2h0"/>
<path stroke="#4cbb2c" stroke-width="1.84" stroke-linecap="round" fill="none" d="M315.1 46.7h0M315.7 48.3h0M319.5 42.2h0M313.1 51.7h0M317.1 42.5h0M311.4 49.2h0M303.7 63.8h0M293.6 69.5h0M290.2 66.1h0M298.0 71.1h0M294.7 52.1h0M299.6 52.9h0M294.4 58.3h0M299.5 58.4h0M304.7 58.3h0M296.2 62.6h0M298.1 60.2h0M301.4 60.2h0M301.0 52.6h0M306.4 56.7h0M297.0 60.5h0M299.4 63.6h0M300.9 69.5h0M293.3 59.4h0M294.8 63.1h0M288.9 72.5h0M281.1 89.8h0M283.5 92.0h0M292.4 87.5h0M287.4 94.6h0M284.6 93.2h0M285.9 92.8h0M281.7 104.4h0M278.6 76.2h0M284.8 94.5h0M277.6 88.4h0M280.3 84.0h0M296.0 76.5h0M285.4 110.9h0M278.1 81.7h0M286.1 78.6h0M286.7 69.8h0M281.9 78.8h0M282.7 95.0h0M287.7 72.9h0M291.5 78.0h0M293.0 84.8h0M286.1 110.7h0M280.5 74.8h0M282.6 97.2h0M290.9 84.0h0M285.3 81.9h0M291.4 82.9h0M283.1 80.9h0M277.9 77.6h0M280.0 97.5h0M287.6 94.9h0M295.4 71.4h0M280.4 74.0h0M277.0 91.9h0M289.3 82.8h0M284.7 69.6h0M287.5 103.0h0M291.1 96.1h0M296.5 80.2h0M276.8 90.1h0M286.3 96.1h0M293.4 82.2h0M283.9 107.5h0M285.4 100.0h0M286.0 111.3h0M286.5 95.5h0M282.1 94.2h0M288.5 96.5h0M287.6 83.6h0M279.9 97.8h0M288.9 71.9h0M286.0 80.2h0M295.1 76.8h0M293.3 87.5h0M286.1 87.3h0M296.2 77.6h0M290.6 71.1h0M289.9 71.7h0M284.3 101.6h0M279.4 79.8h0M291.5 88.9h0M290.5 91.1h0M287.1 76.2h0M284.8 88.2h0M282.6 100.3h0M289.7 89.6h0M283.7 102.4h0M293.1 91.3h0M287.6 97.1h0M286.5 86.5h0M288.1 71.4h0M285.0 99.6h0M291.0 71.2h0M277.3 85.8h0M294.8 83.8h0M285.8 93.1h0M282.7 78.0h0M292.9 91.6h0M279.2 80.0h0M286.1 109.6h0M295.5 79.3h0M283.5 77.4h0M288.5 83.0h0M284.7 105.9h0M278.1 96.5h0M281.7 98.3h0M291.4 72.2h0M296.9 78.0h0M292.0 90.1h0M288.6 76.7h0M280.5 77.6h0M289.2 101.9h0M290.8 69.6h0M282.3 85.0h0M285.9 107.7h0M284.1 93.2h0M289.7 83.4h0M288.5 83.1h0M279.7 78.5h0M290.5 90.7h0M278.7 76.2h0M289.9 73.3h0M285.3 92.0h0M284.3 102.3h0M287.1 68.4h0M280.8 73.9h0M284.6 67.9h0M291.9 85.1h0M285.3 107.8h0M281.0 99.1h0M291.7 94.9h0M287.8 91.4h0M294.2 71.0h0M285.9 67.0h0M279.7 85.8h0M281.5 101.1h0M285.0 101.1h0M287.8 92.3h0M304.6 74.2h0M304.5 78.4h0M304.5 90.2h0M308.0 83.5h0M302.6 87.8h0M309.7 88.0h0M308.9 86.4h0M307.2 82.2h0M310.2 81.4h0M305.3 81.2h0M305.5 88.6h0M308.2 85.2h0M304.4 77.7h0M309.1 76.0h0M305.5 76.9h0M310.6 90.7h0M303.0 82.9h0M304.7 93.7h0M304.6 84.2h0M305.2 77.1h0M307.1 93.5h0M306.0 91.9h0M292.8 94.9h0M298.4 81.3h0M292.1 110.6h0M301.6 106.5h0M301.5 106.2h0M298.8 101.0h0M289.6 108.4h0M299.7 104.9h0M295.7 83.4h0M297.9 105.1h0M298.4 107.1h0M292.8 100.9h0M310.2 57.9h0M310.0 57.0h0M318.1 76.1h0M313.7 64.1h0M329.0 73.4h0M337.5 84.6h0M340.1 76.9h0M335.4 77.2h0M335.2 82.4h0M339.7 88.1h0M326.5 69.2h0M330.1 79.5h0M342.8 83.8h0M330.1 77.7h0M311.3 104.3h0M317.9 111.9h0M312.2 108.6h0M320.6 116.0h0M313.3 107.1h0M314.7 111.2h0M324.9 103.5h0"/>
<path stroke="#6874cc" stroke-width="1.84" stroke-linecap="round" fill="none" d="M316.1 38.9h0M315.2 42.3h0M297.0 64.6h0M290.8 65.8h0M297.4 51.8h0M301.8 64.9h0M288.1 65.7h0M293.1 54.6h0M287.7 90.9h0M288.9 80.9h0M282.1 100.0h0M291.1 81.3h0M289.3 79.3h0M279.3 87.7h0M306.9 91.8h0M310.9 59.6h0M311.7 67.2h0M311.3 60.2h0M312.5 83.3h0M345.0 80.2h0M328.5 75.1h0M329.0 78.5h0M334.3 76.6h0M338.7 71.5h0M325.1 109.9h0M326.6 112.3h0M313.6 97.1h0M326.9 107.5h0M323.9 116.0h0M314.8 104.5h0M318.3 105.0h0M308.3 107.6h0M331.5 92.6h0M327.0 89.1h0M329.7 92.9h0"/>
<path stroke="#3040b0" stroke-width="1.84" stroke-linecap="round" fill="none" d="M315.9 47.1h0M316.0 47.9h0M319.8 40.8h0M293.2 91.9h0M285.0 90.6h0M280.4 95.1h0M288.6 89.2h0M277.0 90.6h0M278.5 80.2h0M285.6 75.0h0M320.1 68.3h0M340.5 83.7h0M329.4 74.1h0M319.8 64.3h0M325.0 111.9h0M328.3 105.2h0M316.4 105.8h0M326.2 106.4h0M318.4 105.0h0M330.3 84.1h0M333.3 93.1h0M330.7 81.3h0"/>
<path stroke="#bababa" stroke-width="1.64" stroke-linecap="round" fill="none" d="M318.8 163.4h0M311.5 163.6h0M319.7 151.7h0M317.4 152.0h0M316.2 164.2h0M316.5 155.4h0M320.6 157.3h0M317.9 158.0h0M312.9 162.4h0M320.7 156.2h0M318.1 164.5h0M313.0 165.8h0M310.8 166.0h0M313.5 162.0h0M313.8 163.9h0M301.1 185.3h0M295.9 180.3h0M302.0 184.0h0M302.0 179.7h0M303.3 184.3h0M292.7 179.3h0M305.9 183.3h0M294.3 181.6h0M305.0 176.9h0M299.3 172.8h0M298.3 177.7h0M286.2 178.3h0M301.8 173.0h0M301.9 177.1h0M294.9 182.6h0M295.8 169.5h0M301.1 175.3h0M299.0 184.4h0M292.1 178.9h0M289.1 173.9h0M303.6 184.3h0M305.4 172.9h0M298.3 171.4h0M304.4 182.8h0M301.4 185.0h0M295.1 170.5h0M289.4 173.5h0M299.3 175.2h0M301.3 176.9h0M295.2 165.1h0M304.2 169.7h0M299.4 174.2h0M299.4 178.7h0M303.7 185.2h0M300.7 168.9h0M295.7 168.4h0M301.4 168.5h0M290.8 172.0h0M301.0 175.8h0M299.0 180.9h0M293.7 181.6h0M299.3 184.2h0M293.3 176.8h0M305.4 181.7h0M307.0 174.6h0M299.9 169.0h0M301.6 182.2h0M299.7 180.0h0M297.2 181.6h0M304.8 172.1h0M297.5 181.1h0M303.7 166.0h0M303.5 168.3h0M292.3 181.5h0M296.7 180.2h0M304.5 179.4h0M307.0 175.2h0M289.6 175.9h0M291.3 180.3h0M299.6 175.8h0M304.5 176.6h0M291.8 172.8h0M304.6 184.0h0M298.1 168.9h0M297.2 175.4h0M298.8 165.2h0M293.9 181.8h0M297.8 175.2h0M297.2 173.5h0M290.8 174.8h0M303.9 184.0h0M295.7 171.4h0M288.9 177.9h0M306.5 167.4h0M300.8 171.5h0M292.8 177.9h0M297.0 174.0h0M293.3 173.5h0M297.0 168.0h0M289.2 178.2h0M299.6 176.0h0M304.7 177.8h0M304.9 169.6h0M302.1 182.0h0M306.0 171.4h0M305.6 167.5h0M290.0 180.2h0M304.3 173.7h0M303.3 167.3h0M294.0 179.3h0M300.7 184.2h0M296.4 180.9h0M296.4 179.3h0M297.5 175.7h0M297.9 167.8h0M304.5 185.9h0M295.4 181.0h0M292.1 174.6h0M296.7 173.8h0M298.7 164.9h0M301.1 182.8h0M288.7 174.4h0M302.0 173.3h0M305.7 181.8h0M301.2 183.1h0M298.7 175.4h0M302.2 181.3h0M303.9 173.3h0M305.8 183.5h0M301.0 181.1h0M301.6 166.1h0M292.5 174.7h0M299.6 178.0h0M300.3 171.9h0M300.1 176.8h0M297.1 173.0h0M301.1 181.0h0M299.1 180.5h0M290.5 173.2h0M297.5 175.5h0M303.7 166.2h0M298.6 180.9h0M288.1 174.7h0M288.4 175.3h0M299.0 165.9h0M307.0 173.6h0M296.9 177.5h0M293.1 170.7h0M300.0 176.7h0M291.1 180.0h0M302.3 165.7h0M294.6 174.9h0M307.7 169.8h0M301.6 174.7h0M298.8 167.1h0M299.3 174.4h0M297.0 167.3h0M294.9 179.0h0M295.2 170.2h0M298.3 173.6h0M303.0 176.0h0M301.9 169.7h0M303.1 178.0h0M292.9 170.4h0M300.7 176.7h0M298.5 178.2h0M302.4 168.7h0M306.3 183.5h0M290.8 173.7h0M299.3 166.8h0M297.3 166.2h0M286.4 179.1h0M297.5 178.2h0M293.3 174.9h0M303.7 178.0h0M302.8 169.2h0M294.5 170.1h0M303.7 172.5h0M292.1 176.4h0M302.2 184.4h0M297.8 175.0h0M300.7 171.0h0M302.9 166.2h0M289.4 178.8h0M301.7 179.5h0M292.9 180.2h0M301.3 176.8h0M306.2 174.0h0M303.6 171.2h0M291.9 173.2h0M290.3 172.4h0M293.1 172.4h0M293.8 172.9h0M289.0 176.7h0M303.4 176.2h0M304.4 176.7h0M305.4 170.7h0M297.4 176.8h0M303.6 166.0h0M297.4 181.5h0M302.0 183.9h0M286.3 178.2h0M299.9 169.9h0M296.8 181.0h0M293.8 171.9h0M296.1 176.2h0M301.6 179.8h0M306.3 173.4h0M304.1 178.9h0M304.8 181.9h0M304.3 183.7h0M296.9 179.9h0M303.6 173.7h0M294.4 167.7h0M292.7 204.8h0M284.8 220.7h0M293.7 184.7h0M282.7 204.2h0M286.0 209.8h0M288.0 205.2h0M282.4 202.9h0M286.6 208.5h0M288.7 207.7h0M289.3 205.0h0M291.7 198.9h0M285.9 206.3h0M289.6 202.1h0M288.3 181.5h0M284.1 193.1h0M288.3 189.9h0M299.1 189.3h0M285.7 194.0h0M287.2 205.9h0M283.3 192.6h0M283.0 217.5h0M287.2 200.7h0M294.6 187.9h0M280.6 212.3h0M286.1 220.3h0M281.4 211.0h0M279.9 189.3h0M285.9 211.6h0M283.0 187.4h0M284.0 209.5h0M293.4 189.6h0M285.8 221.5h0M295.5 191.8h0M294.8 183.2h0M291.8 203.4h0M279.0 206.6h0M285.3 190.6h0M285.4 213.7h0M284.3 191.9h0M292.3 187.6h0M278.7 200.2h0M282.6 204.6h0M294.9 195.6h0M291.5 202.3h0M282.4 214.8h0M282.2 207.0h0M284.0 199.3h0M298.8 189.9h0M290.8 189.2h0M293.2 202.0h0M278.7 206.4h0M300.9 187.3h0M290.9 199.0h0M289.5 191.1h0M284.1 185.8h0M286.0 181.0h0M286.1 207.6h0M291.7 191.2h0M293.4 183.2h0M299.5 187.0h0M284.6 186.4h0M288.7 195.8h0M281.6 200.0h0M284.2 219.9h0M281.6 197.1h0M285.7 198.5h0M297.3 189.6h0M284.5 204.4h0M284.2 200.2h0M286.7 224.0h0M288.5 208.9h0M290.1 197.1h0M298.5 189.0h0M287.0 187.5h0M292.4 186.6h0M283.2 188.9h0M290.2 193.2h0M289.6 224.6h0M283.2 196.6h0M279.7 210.8h0M287.4 191.7h0M284.8 197.1h0M284.9 195.6h0M287.3 214.2h0M278.3 193.9h0M288.0 182.9h0M279.3 197.1h0M284.1 181.0h0M281.8 206.4h0M278.6 193.4h0M289.0 204.0h0M281.4 211.5h0M284.7 212.3h0M295.5 185.8h0M283.2 191.9h0M288.0 218.8h0M283.8 192.5h0M286.9 189.0h0M294.5 205.0h0M285.7 209.8h0M302.2 189.0h0M284.0 208.1h0M280.2 198.7h0M288.2 181.9h0M288.0 194.1h0M291.0 191.9h0M282.0 197.5h0M290.4 186.7h0M295.4 190.1h0M280.3 194.8h0M289.0 186.0h0M292.5 211.2h0M278.4 197.0h0M287.5 182.0h0M288.5 181.6h0M290.9 205.9h0M290.2 194.0h0M284.5 180.2h0M287.0 219.9h0M295.5 187.6h0M290.2 207.3h0M294.3 197.9h0M288.8 191.7h0M287.9 220.8h0M291.2 193.2h0M287.4 223.8h0M281.8 187.9h0M283.9 210.3h0M292.2 197.1h0M284.1 201.7h0M294.3 204.8h0M286.6 195.0h0M299.6 186.4h0M294.3 201.6h0M285.4 213.4h0M292.0 190.0h0M284.4 194.0h0M282.5 202.6h0M296.5 184.3h0M289.8 214.5h0M290.5 186.5h0M279.2 190.7h0M291.2 215.6h0M288.2 211.9h0M284.5 211.9h0M286.5 194.4h0M288.9 211.5h0M287.8 209.8h0M283.9 187.6h0M281.3 210.6h0M288.9 208.0h0M288.3 221.8h0M296.7 184.5h0M278.9 192.2h0M281.0 194.2h0M278.5 203.9h0M290.6 196.2h0M286.0 215.8h0M288.2 207.4h0M288.1 210.9h0M281.7 187.1h0M284.5 201.5h0M281.0 193.9h0M278.3 205.0h0M281.6 207.7h0M285.1 189.5h0M290.6 195.9h0M284.7 181.4h0M286.0 182.7h0M282.6 201.2h0M288.3 181.7h0M292.4 209.2h0M294.3 191.8h0M282.3 184.5h0M279.8 195.5h0M297.8 193.3h0M288.5 211.4h0M284.4 220.8h0M278.4 205.5h0M283.8 196.9h0M287.6 209.2h0M294.7 195.3h0M286.3 183.4h0M286.7 213.1h0M283.4 213.1h0M292.3 210.3h0M282.5 183.9h0M281.6 195.1h0M291.1 197.6h0M286.3 203.7h0M288.6 211.4h0M282.5 191.6h0M286.3 187.5h0M287.3 224.4h0M281.7 208.2h0M287.8 208.6h0M294.5 202.2h0M292.8 184.3h0M289.8 209.6h0M288.9 196.7h0M283.9 206.6h0M293.0 202.7h0M289.6 206.3h0M281.8 200.6h0M286.1 212.8h0M284.0 217.6h0M296.7 190.6h0M283.0 191.9h0M290.8 190.2h0M281.8 195.9h0M287.0 218.7h0M282.6 196.9h0M297.1 188.1h0M295.5 198.8h0M278.2 194.7h0M286.2 207.9h0M285.2 206.7h0M296.2 187.4h0M281.2 210.9h0M294.0 195.5h0M288.6 185.8h0M294.5 198.6h0M289.9 202.3h0M296.4 189.9h0M293.2 192.1h0M289.9 221.9h0M288.1 213.1h0M293.7 199.6h0M279.5 198.3h0M285.3 199.3h0M284.3 197.9h0M284.5 198.4h0M286.9 216.7h0M292.3 183.7h0M287.4 196.3h0M286.9 220.2h0M294.6 200.6h0M287.4 200.4h0M286.2 209.8h0M288.3 217.1h0M290.0 197.5h0M295.2 189.1h0M287.6 185.6h0M288.3 213.1h0M280.0 186.7h0M297.5 190.7h0M287.1 203.6h0M291.2 184.8h0M292.8 185.0h0M280.1 202.6h0M285.6 214.7h0M284.3 198.1h0M279.2 189.1h0M289.8 204.7h0M290.0 218.1h0M291.7 197.7h0M296.7 186.3h0M280.7 192.9h0M288.8 182.7h0M284.7 184.2h0M290.8 209.1h0M292.8 202.0h0M285.7 213.0h0M284.6 195.9h0M289.2 200.9h0M287.3 198.8h0M289.7 181.4h0M288.4 189.3h0M280.4 196.1h0M286.1 201.3h0M283.9 213.4h0M288.6 223.4h0M293.6 196.0h0M285.8 207.0h0M293.4 193.5h0M291.0 202.7h0M280.3 190.6h0M285.0 215.5h0M289.1 218.5h0M288.5 192.2h0M286.5 193.6h0M289.5 213.5h0M287.8 199.6h0M289.4 184.5h0M292.3 184.3h0M280.9 193.3h0M302.2 188.8h0M288.8 203.7h0M278.6 198.9h0M287.8 210.0h0M296.1 196.9h0M297.5 186.7h0M293.3 188.4h0M287.0 186.6h0M291.6 196.9h0M287.3 205.8h0M286.5 211.0h0M284.0 191.1h0M284.6 182.0h0M294.2 204.7h0M289.9 201.4h0M283.9 213.6h0M280.5 193.1h0M292.4 194.4h0M283.6 188.2h0M292.0 207.0h0M287.4 222.7h0M296.8 192.4h0M284.8 190.5h0M278.3 203.7h0M284.5 192.5h0M284.5 185.1h0M290.6 191.6h0M285.4 191.8h0M292.2 212.7h0M292.0 209.3h0M284.7 181.6h0M298.7 189.8h0M291.2 205.0h0M287.0 189.7h0M280.5 205.0h0M279.8 203.2h0M282.7 203.2h0M287.2 202.0h0M283.0 211.4h0M288.9 201.4h0M279.9 201.4h0M292.7 185.3h0M285.8 194.5h0M290.8 206.2h0M280.1 202.9h0M288.6 194.5h0M298.2 191.1h0M293.3 203.2h0M286.7 210.0h0M289.9 189.8h0M301.2 187.1h0M290.5 215.0h0M286.6 190.0h0M295.1 191.0h0M291.7 190.8h0M301.0 187.6h0M284.0 192.9h0M286.5 212.4h0M298.0 190.3h0M283.6 198.1h0M287.2 220.8h0M281.6 188.5h0M282.9 185.3h0M289.8 196.2h0M282.7 195.0h0M279.1 193.2h0M282.6 184.7h0M280.0 189.3h0M279.8 193.3h0M291.2 186.4h0M286.6 205.1h0M285.6 215.4h0M290.1 187.8h0M288.4 181.5h0M282.1 187.0h0M297.3 188.8h0M295.1 200.4h0M285.9 181.0h0M284.7 207.4h0M287.6 200.8h0M294.3 193.6h0M287.2 219.6h0M292.1 200.2h0M286.6 220.9h0M282.1 202.4h0M284.0 205.8h0M285.3 183.5h0M296.0 195.0h0M292.6 201.9h0M291.0 191.4h0M293.0 208.0h0M290.0 183.2h0M291.0 201.2h0M285.2 199.4h0M284.0 217.1h0M298.9 190.8h0M290.6 192.4h0M286.9 188.1h0M283.5 217.3h0M282.5 216.4h0M285.8 190.3h0M291.4 194.8h0M295.5 184.1h0M286.0 187.6h0M281.1 212.4h0M290.8 196.7h0M287.2 180.1h0M282.1 215.5h0M283.9 209.0h0M291.5 193.6h0M285.0 187.7h0M285.5 222.7h0M285.2 203.0h0M290.3 213.2h0M284.4 188.2h0M293.2 190.2h0M286.5 182.3h0M279.2 195.4h0M294.7 198.1h0M288.6 189.9h0M281.0 198.9h0M292.5 208.5h0M284.5 203.9h0M282.8 214.2h0M292.4 191.6h0M286.3 214.2h0M289.9 198.9h0M280.6 200.8h0M284.9 210.9h0M289.4 185.0h0M289.1 205.4h0M307.1 207.2h0M306.3 201.6h0M304.6 206.9h0M304.7 196.9h0M305.9 187.3h0M312.2 199.7h0M303.4 202.4h0M305.0 194.4h0M309.7 207.2h0M305.8 191.5h0M305.8 203.3h0M307.2 201.3h0M304.2 204.7h0M304.5 202.9h0M308.2 201.0h0M307.2 206.1h0M310.9 190.6h0M303.9 199.8h0M303.4 196.1h0M304.0 198.5h0M310.6 189.7h0M303.9 200.9h0M309.7 208.1h0M308.1 197.8h0M311.0 201.1h0M307.3 186.9h0M304.0 198.7h0M309.3 211.8h0M307.1 195.2h0M310.4 191.4h0M306.6 194.3h0M303.6 201.1h0M306.8 198.5h0M310.1 193.1h0M305.6 190.5h0M307.4 182.4h0M307.0 198.6h0M306.0 182.8h0M303.2 200.2h0M307.3 208.7h0M303.2 198.5h0M307.3 188.2h0M308.7 188.9h0M309.7 208.8h0M308.0 210.4h0M308.0 188.8h0M304.4 203.3h0M310.0 189.4h0M306.8 201.7h0M309.7 193.8h0M304.4 206.2h0M307.5 199.9h0M306.3 190.5h0M308.6 204.2h0M308.6 207.9h0M309.0 190.7h0M306.7 190.4h0M308.9 190.0h0M306.1 206.9h0M310.4 201.0h0M310.8 191.1h0M308.9 186.5h0M305.8 181.3h0M310.4 209.4h0M308.9 208.4h0M307.3 184.8h0M305.6 192.4h0M305.4 202.8h0M303.1 199.7h0M310.4 189.1h0M303.5 205.0h0M307.1 198.4h0M306.8 190.0h0M303.7 191.9h0M308.3 208.6h0M308.9 194.1h0M310.2 200.8h0M304.3 196.0h0M306.7 195.5h0M309.6 201.5h0M308.2 204.9h0M305.7 192.9h0M307.2 197.2h0M305.5 204.5h0M306.0 206.8h0M305.3 204.2h0M308.4 200.7h0M306.7 195.7h0M304.7 193.7h0M305.2 201.0h0M304.7 196.1h0M306.4 183.3h0M304.5 203.8h0M304.8 182.0h0M304.4 185.8h0M307.3 182.3h0M306.1 186.1h0M309.0 202.5h0M310.2 192.8h0M307.1 193.9h0M306.3 193.5h0M309.3 202.2h0M306.5 190.2h0M306.8 210.1h0M305.8 190.5h0M305.8 182.6h0M306.4 183.9h0M309.7 204.9h0M305.8 204.2h0M309.8 188.3h0M307.1 190.0h0M307.3 205.0h0M305.3 205.6h0M311.5 198.5h0M304.7 205.4h0M307.0 206.6h0M305.5 187.9h0M301.7 207.4h0M294.1 208.0h0M300.1 200.8h0M299.7 194.4h0M302.9 219.6h0M302.5 209.5h0M302.8 219.3h0M301.2 206.7h0M296.8 213.4h0M300.1 214.1h0M295.6 212.1h0M290.9 221.5h0M301.0 218.0h0M297.0 196.5h0M296.8 213.6h0M300.6 222.0h0M303.3 211.0h0M301.2 211.2h0M295.4 201.3h0M303.9 213.1h0M299.2 218.2h0M299.7 220.2h0M299.3 202.2h0M299.5 224.6h0M299.0 219.8h0M297.0 221.4h0M294.1 214.0h0M299.1 204.3h0M302.3 201.3h0M311.5 171.0h0M309.5 170.1h0M312.2 172.7h0M311.6 173.5h0M313.6 170.3h0M311.3 170.1h0M328.6 202.6h0M329.5 197.5h0M325.9 193.9h0M317.5 192.0h0M314.2 183.4h0M330.4 200.2h0M322.4 207.5h0M314.7 181.5h0M312.9 178.4h0M317.6 186.3h0M327.2 192.3h0M322.1 204.6h0M313.2 197.8h0M327.4 199.3h0M313.5 178.7h0M314.7 174.6h0M309.6 185.9h0M312.5 188.7h0M322.2 196.8h0M317.0 201.6h0M320.4 198.8h0M330.1 198.1h0M313.0 180.3h0M319.1 183.2h0M324.1 188.1h0M329.8 203.7h0M324.8 207.0h0M312.6 173.3h0M326.7 194.9h0M322.9 201.9h0M314.9 178.3h0M328.2 197.6h0M326.8 190.7h0M329.2 203.2h0M327.3 202.1h0M312.8 185.5h0M318.9 208.6h0M314.5 188.6h0M328.1 208.0h0M325.6 204.9h0M323.7 207.4h0M318.6 176.0h0M317.6 202.5h0M325.1 203.8h0M318.5 189.0h0M321.1 187.8h0M311.1 189.6h0M322.1 204.3h0M314.2 203.3h0M321.5 196.4h0M312.4 188.6h0M327.6 207.1h0M317.4 206.6h0M312.6 180.5h0M326.8 204.5h0M322.2 205.9h0M328.2 197.5h0M313.8 196.4h0M313.4 176.7h0M316.3 206.7h0M327.3 203.1h0M329.8 195.5h0M316.7 193.6h0M313.5 196.2h0M328.1 199.0h0M336.6 189.9h0M337.6 190.2h0M338.8 186.7h0M327.8 179.6h0M321.5 184.7h0M331.4 190.0h0M341.7 191.3h0M335.5 182.4h0M331.9 182.9h0M335.5 182.4h0M334.8 189.2h0M317.2 179.9h0M316.9 179.6h0M326.4 188.4h0M324.0 185.2h0M331.6 178.1h0M324.0 180.2h0M335.1 195.4h0M332.6 179.9h0M319.6 176.0h0M322.6 182.2h0M340.8 187.2h0M340.9 188.4h0M329.1 178.5h0M338.3 183.7h0M333.1 184.7h0M332.7 179.1h0M329.2 181.8h0M335.4 186.7h0M338.2 186.6h0M324.4 183.1h0M323.4 178.5h0M335.6 189.3h0M322.2 176.9h0M335.4 187.5h0M337.0 186.2h0M344.5 201.7h0M342.8 195.9h0M338.4 190.0h0M324.2 177.9h0M337.5 181.8h0M335.9 189.9h0M324.0 183.3h0M326.5 183.6h0M337.1 183.6h0M334.1 189.1h0M320.8 182.0h0M333.9 182.0h0M331.4 187.7h0M321.1 181.9h0M320.1 175.8h0M335.8 192.9h0M328.6 185.3h0M327.0 184.9h0M344.4 194.1h0M328.0 184.0h0M329.8 188.2h0M343.2 192.2h0M330.7 182.4h0M327.4 181.7h0M333.4 193.2h0M317.9 179.9h0M326.0 180.0h0M325.5 178.2h0M318.8 178.9h0M332.0 183.1h0M341.4 188.8h0M333.0 185.2h0M333.6 179.3h0M331.6 182.8h0M341.3 189.2h0M325.6 185.7h0M344.4 189.8h0M330.3 191.6h0M330.0 189.3h0M318.1 181.6h0M328.7 185.8h0M331.3 182.4h0M334.1 194.9h0M332.7 186.2h0M322.0 180.4h0M341.7 189.0h0M342.9 192.7h0M331.0 179.6h0M324.8 180.1h0M321.7 176.2h0M337.0 193.1h0M329.8 187.4h0M336.2 192.3h0M343.6 192.1h0M323.7 177.3h0M343.1 197.8h0M321.8 183.7h0M340.0 192.6h0M342.9 195.6h0M331.1 187.1h0M337.6 186.9h0M323.2 182.5h0M334.0 183.8h0M325.3 187.6h0M333.0 183.3h0M323.4 179.3h0M331.8 185.0h0M335.0 193.3h0M322.0 177.7h0M337.1 185.6h0M345.8 196.9h0M333.3 184.3h0M326.6 176.5h0M341.1 187.3h0M318.8 177.2h0M346.4 199.8h0M334.4 179.7h0M320.9 177.3h0M330.1 182.9h0M327.5 178.9h0M338.6 185.1h0M336.2 180.4h0M333.5 180.8h0M335.0 183.5h0M321.8 183.0h0M329.4 177.1h0M322.3 179.9h0M333.8 192.4h0M320.9 181.0h0M335.6 181.6h0M336.0 192.0h0M334.0 181.4h0M323.9 177.4h0M327.9 183.4h0M318.4 181.7h0M331.7 181.4h0M342.2 191.3h0M345.4 194.7h0M338.5 195.1h0M335.3 192.9h0M333.9 189.5h0M331.3 178.1h0M337.7 196.8h0M323.1 181.4h0M342.5 200.1h0M344.8 194.6h0M325.7 183.4h0M346.9 194.7h0M325.3 177.8h0M321.8 182.1h0M334.6 183.8h0M327.3 188.4h0M341.5 190.3h0M329.6 184.1h0M321.7 177.1h0M325.3 187.3h0M327.5 180.7h0M339.9 185.0h0M323.1 180.3h0M324.5 186.2h0M330.8 181.9h0M325.6 184.2h0M324.7 180.0h0M323.7 219.2h0M321.7 217.1h0M312.2 214.9h0M307.2 210.9h0M318.5 230.7h0M326.0 223.4h0M324.9 213.0h0M307.9 211.0h0M314.2 219.0h0M310.7 210.1h0M308.5 212.9h0M308.8 223.0h0M327.7 215.5h0M324.7 229.5h0M325.5 226.1h0M323.8 217.9h0M320.3 229.3h0M316.9 228.0h0M324.0 219.2h0M330.1 225.4h0M310.9 224.2h0M330.2 218.1h0M313.5 215.2h0M310.7 223.2h0M326.4 223.0h0M326.3 225.0h0M327.0 220.1h0M323.2 227.6h0M326.9 212.6h0M309.3 211.8h0M322.6 222.4h0M310.6 227.1h0M323.8 220.7h0M329.6 218.3h0M316.0 213.6h0M327.7 215.5h0M316.0 209.8h0M327.5 219.5h0M309.2 213.5h0M305.4 216.8h0M315.3 227.4h0M328.1 213.7h0M324.9 216.4h0M325.6 223.2h0M306.7 218.9h0M316.3 218.7h0M319.8 223.9h0M315.7 220.0h0M327.2 223.7h0M310.0 211.4h0M315.3 228.2h0M330.9 224.1h0M314.8 225.1h0M318.4 229.8h0M318.4 222.7h0M323.4 222.5h0M309.6 221.1h0M316.4 223.7h0M325.8 213.0h0M314.8 214.1h0M330.9 219.4h0M317.0 230.1h0M326.0 227.7h0M318.4 211.2h0M315.6 218.5h0M317.8 230.4h0M319.2 212.0h0M309.6 223.7h0M318.8 217.6h0M318.2 217.6h0M323.2 221.7h0M306.1 219.5h0M311.6 221.5h0M317.3 225.5h0M321.5 219.8h0M307.9 224.8h0M310.1 216.9h0M320.6 214.3h0M317.4 215.6h0M320.4 222.9h0M320.8 229.5h0M316.7 216.7h0M325.1 220.8h0M312.1 229.1h0M310.9 210.0h0M319.4 228.9h0M328.0 226.7h0M321.3 219.9h0M312.7 212.0h0M316.8 227.1h0M326.5 220.6h0M320.8 217.7h0M323.2 216.4h0M325.0 217.8h0M323.6 219.7h0M328.9 219.2h0M315.3 224.5h0M318.6 214.6h0M322.4 212.1h0M312.9 214.0h0M328.2 222.8h0M322.3 225.5h0M315.4 218.0h0M322.5 213.0h0M308.3 222.2h0M314.2 212.4h0M321.3 220.4h0M319.3 219.9h0M321.5 225.9h0M324.3 224.3h0M327.2 218.9h0M322.1 210.8h0M307.0 218.5h0M323.3 213.6h0M318.1 218.9h0M311.6 222.6h0M314.6 216.1h0M316.8 221.4h0M307.7 224.1h0M306.6 220.3h0M313.6 229.8h0M316.7 227.3h0M305.6 213.6h0M305.8 214.2h0M315.1 215.2h0M317.7 218.9h0M309.8 220.0h0M320.4 221.3h0M324.9 218.5h0M308.0 215.2h0M310.5 227.8h0M313.0 220.7h0M321.3 211.2h0M316.5 211.3h0M319.5 224.8h0M307.9 218.7h0M322.9 216.8h0M330.4 219.5h0M315.3 224.0h0M327.5 219.5h0M328.1 225.5h0M318.8 210.8h0M318.3 215.1h0M318.5 217.0h0M319.7 218.1h0M325.4 223.2h0M312.3 212.8h0M311.2 215.7h0M316.3 219.7h0M311.9 215.0h0M320.9 221.6h0M313.3 208.7h0M307.7 213.7h0M324.8 225.0h0M314.4 228.3h0M309.2 213.5h0M320.3 220.3h0M326.2 215.3h0M329.2 222.6h0M323.5 221.3h0M310.5 221.0h0M313.8 215.3h0M311.7 225.7h0M322.4 211.3h0M323.9 228.2h0M321.1 228.2h0M319.7 219.7h0M315.8 221.1h0M329.5 221.8h0M325.0 218.8h0M328.7 225.7h0M318.6 215.1h0M318.9 218.0h0M321.0 214.7h0M329.3 219.2h0M327.3 214.2h0M328.9 220.6h0M319.6 218.1h0M330.3 221.0h0M319.3 216.5h0M317.2 214.4h0M316.9 214.3h0M306.9 216.6h0M313.4 214.4h0M319.7 214.9h0M324.4 215.2h0M323.5 214.3h0M322.2 216.4h0M318.6 214.5h0M327.7 214.1h0M320.2 221.1h0M328.5 219.2h0M315.9 217.5h0M331.1 221.4h0M319.2 225.9h0M321.2 220.0h0M322.6 214.2h0M324.3 226.9h0M313.5 229.1h0M310.5 224.8h0M319.2 212.6h0M328.1 220.4h0M305.2 217.2h0M328.8 224.5h0M312.0 223.0h0M325.5 220.9h0M315.0 229.4h0M315.9 211.7h0M322.4 216.2h0M327.3 227.0h0M316.9 211.1h0M344.4 213.0h0M328.2 191.4h0M338.8 210.3h0M331.6 202.6h0M349.6 204.4h0M343.7 210.7h0M330.5 196.5h0M333.2 210.1h0M331.0 200.3h0M330.0 204.8h0M331.5 198.8h0M331.5 193.0h0M345.1 206.7h0M334.3 197.6h0M333.9 203.9h0M334.0 207.1h0M335.8 206.2h0M332.5 211.6h0M327.4 203.3h0M330.4 209.5h0M347.3 206.3h0"/>
<path stroke="#4cbb2c" stroke-width="1.84" stroke-linecap="round" fill="none" d="M316.4 159.8h0M317.0 161.4h0M320.8 155.3h0M312.7 162.3h0M284.8 205.1h0M279.4 194.8h0M294.4 204.4h0M289.8 196.1h0M292.1 182.7h0M309.5 198.3h0M311.9 203.8h0M308.4 206.6h0M336.7 187.5h0M330.3 186.5h0M341.8 196.8h0M333.8 184.1h0M330.3 185.9h0M333.8 190.2h0M346.7 195.2h0M345.4 193.3h0M330.5 189.6h0M338.8 197.7h0M341.4 190.0h0M336.7 190.3h0M343.2 189.5h0M335.7 186.7h0M338.6 199.0h0M330.6 186.7h0M336.5 195.5h0M330.7 187.2h0M346.3 193.3h0M342.7 197.6h0M335.1 194.4h0M339.4 190.4h0M343.2 199.8h0M335.5 188.0h0M335.8 194.9h0M341.0 201.2h0M343.9 188.8h0M340.2 191.3h0M336.7 196.4h0M340.4 197.7h0M335.6 189.7h0M347.9 196.5h0M327.8 182.3h0M331.4 192.6h0M341.2 188.8h0M341.3 192.2h0M335.0 185.9h0M344.1 196.9h0M345.9 199.0h0M340.0 184.6h0M335.9 191.6h0M332.5 188.8h0M336.0 195.4h0M345.3 196.5h0M336.3 195.1h0M338.2 197.1h0M341.1 195.0h0M335.5 191.7h0M345.6 200.9h0M333.7 192.8h0M331.4 190.8h0M311.0 224.0h0M327.9 225.4h0M314.9 210.2h0M312.4 221.1h0M325.2 229.1h0M316.1 217.6h0M319.4 223.0h0M307.9 213.9h0M309.6 220.7h0M330.4 193.8h0M339.3 202.5h0"/>
<path stroke="#6874cc" stroke-width="1.84" stroke-linecap="round" fill="none" d="M291.5 179.2h0M290.2 185.6h0M288.8 216.1h0M278.1 203.2h0M287.3 193.3h0M288.9 210.2h0M287.1 206.2h0M286.0 219.0h0M281.8 190.7h0M285.4 206.3h0M281.0 191.6h0M291.8 203.8h0M293.2 198.2h0M289.1 204.5h0"/>
<path stroke="#48c4e4" stroke-width="1.84" stroke-linecap="round" fill="none" d="M336.1 187.9h0M343.6 191.1h0M340.9 196.9h0M336.0 188.3h0M346.0 192.6h0M334.2 194.7h0M339.9 196.7h0"/>
<path stroke="#3040b0" stroke-width="1.84" stroke-linecap="round" fill="none" d="M317.2 160.2h0M317.3 161.0h0M321.1 153.9h0M314.4 164.8h0M318.4 155.6h0M296.0 165.2h0M300.9 166.0h0M299.4 173.3h0M302.7 173.3h0M302.2 182.6h0M294.6 172.5h0M293.7 200.6h0M278.9 201.5h0M292.8 191.1h0M292.7 196.0h0M285.2 220.6h0M283.4 207.3h0M290.2 185.0h0M291.9 184.2h0M291.8 204.2h0M286.3 212.7h0M279.4 209.6h0M291.0 196.5h0M282.3 212.2h0M309.3 196.6h0M310.2 199.5h0M308.5 195.3h0M311.5 194.5h0M305.7 190.8h0M305.9 197.3h0M293.4 223.7h0M319.4 189.2h0M315.0 177.2h0M321.4 181.4h0M345.2 201.4h0M321.1 177.4h0M312.6 217.4h0M319.2 225.0h0M313.5 221.7h0M328.2 220.6h0M321.9 229.1h0M314.6 220.2h0M316.0 224.3h0M326.2 216.6h0M331.6 197.2h0M332.8 205.7h0M328.3 202.2h0M334.6 206.2h0M342.6 208.3h0M350.4 211.0h0M332.0 194.4h0M340.8 207.6h0M331.0 206.0h0"/>
<path stroke="#bababa" stroke-width="1.64" stroke-linecap="round" fill="none" d="M413.9 47.5h0M415.2 49.4h0M408.3 62.5h0M410.0 62.4h0M413.7 55.2h0M415.3 54.7h0M401.8 63.1h0M406.5 53.6h0M404.7 56.7h0M402.5 55.3h0M407.2 51.8h0M409.7 53.9h0M403.6 51.8h0M404.5 62.5h0M404.5 44.6h0M407.3 50.0h0M403.1 50.2h0M410.1 43.6h0M413.1 53.2h0M406.9 55.1h0M405.9 58.1h0M411.9 60.1h0M400.1 57.4h0M405.1 48.3h0M413.4 46.4h0M405.8 47.0h0M400.7 53.0h0M409.6 45.9h0M413.9 56.4h0M413.1 47.5h0M407.1 45.5h0M403.4 61.1h0M404.1 56.3h0M400.2 59.8h0M413.9 54.4h0M403.8 60.7h0M406.6 46.5h0M412.9 53.5h0M410.2 60.1h0M404.1 47.6h0M406.7 63.3h0M399.7 54.5h0M413.4 55.4h0M406.9 59.0h0M406.5 62.7h0M408.8 58.4h0M403.2 63.4h0M414.9 58.1h0M414.1 59.7h0M409.3 49.4h0M405.3 49.6h0M400.2 52.8h0M404.8 50.1h0M407.2 61.4h0M406.7 47.2h0M406.0 59.7h0M406.5 44.0h0M403.3 50.7h0M414.4 55.0h0M405.6 56.1h0M397.7 57.3h0M403.7 48.6h0M399.8 52.2h0M411.7 47.2h0M405.9 56.2h0M414.5 55.1h0M403.3 51.1h0M407.5 46.3h0M404.6 62.2h0M407.5 60.2h0M401.4 54.4h0M404.8 45.3h0M410.9 43.5h0M408.4 49.1h0M404.0 56.5h0M406.6 46.0h0M405.9 46.3h0M398.4 53.3h0M401.7 52.1h0M405.5 57.5h0M407.9 47.4h0M400.3 61.0h0M398.1 60.3h0M407.2 62.4h0M408.8 49.7h0M401.2 59.8h0M404.6 43.4h0M403.4 54.5h0M414.6 53.5h0M414.2 57.3h0M405.5 50.8h0M398.2 55.8h0M402.3 55.7h0M402.2 56.3h0M402.9 60.4h0M401.8 58.8h0M402.7 56.8h0M410.9 50.4h0M404.3 44.1h0M414.0 48.5h0M414.0 58.4h0M412.3 53.8h0M402.8 60.9h0M404.8 45.7h0M405.0 59.0h0M401.3 58.3h0M403.6 57.7h0M402.7 50.9h0M404.8 59.0h0M392.0 79.5h0M396.1 81.7h0M410.7 71.8h0M411.2 65.6h0M386.6 79.5h0M403.7 66.7h0M395.4 59.9h0M399.0 74.6h0M407.6 65.5h0M408.9 74.7h0M388.5 69.2h0M384.8 67.9h0M403.2 68.0h0M387.2 69.8h0M389.0 69.5h0M406.7 64.8h0M397.1 72.9h0M400.1 77.1h0M386.9 69.3h0M385.3 74.6h0M395.3 78.3h0M398.4 77.0h0M395.9 77.9h0M396.7 67.3h0M411.0 78.0h0M391.4 70.1h0M398.2 79.7h0M403.8 76.9h0M390.4 78.8h0M393.6 69.2h0M402.3 64.4h0M395.9 69.8h0M387.4 69.8h0M408.1 79.5h0M400.1 72.9h0M404.2 73.8h0M406.8 66.9h0M391.1 59.9h0M400.0 69.6h0M388.4 80.2h0M390.5 66.6h0M394.1 66.5h0M385.2 72.9h0M407.9 78.5h0M395.5 59.1h0M404.1 78.5h0M413.8 76.7h0M386.6 78.4h0M408.0 77.5h0M405.4 69.7h0M406.1 64.6h0M392.7 63.4h0M397.1 58.7h0M411.7 65.1h0M386.9 78.5h0M392.7 77.2h0M388.2 76.9h0M409.0 77.2h0M390.3 74.8h0M397.2 81.0h0M408.5 65.5h0M404.4 77.0h0M407.3 75.1h0M401.2 72.1h0M392.8 72.6h0M400.2 77.8h0M399.2 69.5h0M391.7 69.1h0M389.9 62.3h0M409.8 66.6h0M385.1 76.8h0M406.2 71.2h0M393.3 77.4h0M399.7 75.6h0M394.3 80.4h0M385.1 67.6h0M392.0 71.2h0M388.8 66.9h0M397.2 80.1h0M386.3 75.0h0M409.2 79.1h0M397.7 72.0h0M413.8 72.8h0M400.2 68.4h0M401.2 80.6h0M403.5 77.6h0M396.5 59.5h0M404.2 73.6h0M400.5 76.7h0M389.5 66.3h0M404.9 73.8h0M397.8 73.8h0M409.1 65.1h0M383.2 71.7h0M387.9 70.1h0M412.6 73.2h0M386.2 70.9h0M410.7 72.9h0M394.8 60.4h0M405.9 69.2h0M392.9 64.3h0M391.5 71.8h0M394.1 73.6h0M389.8 73.0h0M386.7 68.2h0M393.8 77.6h0M404.4 70.7h0M385.9 64.0h0M415.4 72.0h0M385.1 66.2h0M394.7 64.6h0M414.4 68.8h0M395.4 66.8h0M390.6 65.4h0M388.0 68.0h0M414.0 66.4h0M412.7 69.7h0M395.1 79.2h0M392.0 67.1h0M401.4 66.7h0M390.6 64.9h0M386.1 70.6h0M400.1 73.0h0M412.4 67.9h0M396.1 80.2h0M405.7 67.9h0M412.4 75.3h0M388.0 63.3h0M398.5 69.8h0M405.5 78.7h0M396.5 61.0h0M387.1 72.5h0M393.9 66.5h0M403.3 73.6h0M392.4 74.5h0M385.8 66.6h0M395.7 71.9h0M402.6 73.3h0M400.3 74.5h0M409.8 78.1h0M408.4 68.8h0M382.8 74.6h0M402.9 74.0h0M401.5 65.4h0M389.4 72.5h0M387.2 71.2h0M396.7 81.2h0M410.3 77.1h0M411.2 78.7h0M407.3 71.2h0M411.3 77.7h0M410.4 79.0h0M392.8 80.2h0M401.5 68.1h0M397.0 69.6h0M395.9 75.2h0M407.3 71.1h0M394.5 73.6h0M394.9 64.4h0M408.9 73.8h0M395.7 60.8h0M396.6 73.6h0M401.8 71.9h0M392.4 74.1h0M403.3 64.6h0M388.3 61.2h0M396.6 80.8h0M388.5 77.5h0M400.8 64.0h0M403.8 79.6h0M391.4 66.1h0M404.4 79.3h0M400.9 80.9h0M393.9 75.3h0M411.9 70.8h0M413.2 72.1h0M409.2 69.5h0M382.2 73.2h0M406.8 80.0h0M404.5 73.4h0M405.6 74.0h0M411.5 66.2h0M400.7 78.5h0M414.1 74.8h0M432.2 60.9h0M414.0 73.1h0M423.8 59.9h0M419.3 64.4h0M427.8 69.2h0M415.5 74.6h0M425.0 69.5h0M422.7 71.5h0M422.2 74.1h0M416.3 75.6h0M421.3 75.2h0M418.6 75.3h0M419.2 70.8h0M417.1 76.9h0M427.3 62.8h0M418.7 71.1h0M427.6 56.9h0M432.0 60.5h0M426.4 58.3h0M431.8 62.1h0M421.8 73.8h0M421.7 71.7h0M419.4 64.7h0M430.5 59.8h0M417.7 76.7h0M418.5 72.6h0M420.5 74.3h0M413.1 74.0h0M427.9 62.8h0M429.5 67.7h0M417.5 77.7h0M428.9 65.5h0M426.3 58.5h0M416.9 71.4h0M425.8 68.2h0M421.0 74.8h0M417.5 68.5h0M420.6 76.4h0M430.7 66.0h0M432.5 58.5h0M431.8 64.6h0M418.8 68.8h0M427.9 59.6h0M415.9 75.2h0M427.3 67.5h0M417.6 75.0h0M421.9 74.8h0M430.2 65.8h0M419.3 71.3h0M423.5 61.6h0M427.1 59.8h0M424.4 71.6h0M422.5 62.6h0M416.6 68.8h0M428.2 67.8h0M423.2 69.4h0M417.5 77.5h0M432.0 59.3h0M430.9 62.5h0M430.6 62.4h0M427.6 68.5h0M420.9 67.1h0M428.5 67.0h0M429.4 64.4h0M423.0 66.1h0M418.6 73.2h0M420.6 72.2h0M428.9 67.3h0M420.5 68.4h0M422.3 64.5h0M425.0 68.4h0M429.6 57.7h0M419.5 75.5h0M445.1 81.2h0M445.8 89.5h0M445.9 78.9h0M430.1 80.7h0M433.0 75.1h0M441.3 87.9h0M446.7 80.4h0M442.5 83.3h0M438.2 80.4h0M435.1 81.5h0M428.9 79.1h0M442.8 80.6h0M439.9 85.2h0M435.7 76.4h0M438.5 75.2h0M435.4 73.4h0M441.7 79.3h0M437.0 78.6h0M448.2 89.1h0M436.2 78.7h0M434.4 80.8h0M442.5 81.0h0M431.6 78.7h0M427.8 75.2h0M437.0 80.8h0M429.8 80.7h0M438.5 83.2h0M427.8 79.6h0M442.5 76.8h0M445.5 84.2h0M437.0 82.6h0M448.3 83.0h0M441.0 79.6h0M444.2 87.2h0M445.4 85.5h0M436.8 74.6h0M428.6 79.6h0M440.1 85.3h0M445.0 81.7h0M439.7 89.5h0M433.3 77.9h0M443.9 78.0h0M445.6 89.7h0M440.5 84.6h0M443.6 80.7h0M444.7 80.4h0M442.6 85.5h0M429.8 74.7h0M442.0 83.5h0M443.6 75.6h0M446.1 78.1h0M443.6 77.4h0M427.7 75.6h0M432.2 80.0h0M441.3 82.1h0M438.0 75.0h0M445.7 78.4h0M430.3 80.3h0M440.7 82.5h0M439.6 83.5h0M440.6 82.6h0M433.9 79.2h0M445.8 80.9h0M448.3 88.2h0M434.6 74.0h0M441.0 77.9h0M448.2 80.9h0M439.6 86.0h0M438.8 79.7h0M436.5 82.4h0M429.2 77.7h0M433.6 78.0h0M441.1 90.9h0M440.2 86.2h0M440.7 91.2h0M448.5 93.9h0M444.2 97.1h0M441.2 92.5h0M441.8 101.3h0M447.6 96.2h0M439.6 102.7h0M445.8 103.8h0M444.0 98.5h0M443.7 104.3h0M440.7 93.1h0M440.8 101.4h0M441.3 94.7h0M442.0 92.3h0M443.5 93.5h0M446.4 100.6h0M439.6 98.6h0M445.8 101.8h0M447.0 102.8h0M447.8 94.3h0M443.0 99.4h0M440.5 95.9h0M446.5 94.6h0M444.5 98.7h0M446.9 92.9h0M441.3 96.1h0M441.5 97.1h0M444.6 101.4h0M446.8 101.6h0M439.8 99.3h0M446.7 102.8h0M443.7 99.2h0M441.6 98.4h0M438.9 99.7h0M447.9 92.6h0M444.6 96.1h0M445.6 105.8h0M447.9 95.4h0M441.7 99.7h0M445.9 92.0h0M442.9 99.8h0M446.4 104.5h0M444.9 101.1h0M442.9 102.9h0M445.4 104.1h0M444.7 92.3h0M447.9 91.8h0M446.5 91.6h0M444.2 97.2h0M441.9 96.5h0M447.2 105.2h0M445.8 101.8h0M446.7 92.1h0M440.5 94.1h0M443.4 91.5h0M440.5 106.4h0M447.3 105.4h0M447.2 103.8h0M440.1 106.9h0M426.1 105.5h0M432.5 110.9h0M434.7 110.8h0M435.0 104.9h0M434.6 113.6h0M428.6 110.7h0M436.5 100.2h0M435.7 111.0h0M422.8 100.6h0M443.6 107.2h0M435.0 107.0h0M425.3 100.0h0M425.5 108.0h0M434.7 107.6h0M424.6 101.4h0M437.0 105.1h0M427.6 107.5h0M431.4 110.9h0M434.6 110.1h0M439.5 107.2h0M429.9 111.8h0M435.8 113.8h0M429.8 111.2h0M423.2 107.5h0M427.2 103.4h0M440.3 110.4h0M437.3 108.7h0M424.8 105.3h0M439.2 105.9h0M434.8 108.9h0M426.2 108.3h0M437.4 111.6h0M425.9 103.8h0M432.6 102.4h0M433.4 105.5h0M422.9 102.3h0M431.8 100.1h0M433.7 104.5h0M432.0 102.9h0M424.6 110.3h0M425.5 109.6h0M429.7 109.4h0M435.7 103.7h0M438.4 113.4h0M439.1 108.6h0M435.8 113.1h0M437.4 102.2h0M437.6 110.2h0M425.9 106.6h0M443.9 110.7h0M434.9 112.2h0M426.3 97.6h0M445.6 108.8h0M425.5 106.4h0M426.9 108.2h0M434.8 108.6h0M426.5 100.0h0M431.9 110.4h0M431.2 104.4h0M439.7 114.1h0M434.3 113.7h0M424.1 103.8h0M424.0 109.8h0M430.0 100.1h0M429.0 106.3h0M426.1 105.3h0M437.2 111.3h0M425.3 104.5h0M436.6 112.5h0M429.7 109.9h0M423.2 100.8h0M446.1 109.8h0M424.7 102.9h0M434.3 105.0h0M433.8 100.6h0M425.7 105.3h0M428.0 104.1h0M436.3 100.5h0M437.8 113.2h0M425.9 109.6h0M422.9 98.2h0M444.6 112.7h0M423.8 103.4h0M443.9 110.5h0M430.4 112.4h0M428.7 110.4h0M436.1 102.4h0M431.9 104.4h0M426.7 98.1h0M431.8 103.8h0M439.5 107.2h0M436.7 111.9h0M440.7 113.1h0M441.5 114.2h0M434.2 109.3h0M434.8 100.1h0M425.2 98.3h0M425.1 106.3h0M440.2 107.9h0M425.1 100.3h0M432.1 100.1h0M427.2 87.7h0M427.4 96.9h0M432.9 86.6h0M431.0 84.4h0M436.0 85.9h0M430.2 83.4h0M434.4 96.5h0M427.4 97.1h0M436.2 95.1h0M435.6 96.6h0M432.8 98.0h0M433.4 99.3h0M425.0 89.3h0M433.9 89.9h0M428.5 92.5h0M432.9 88.2h0M425.4 82.5h0M429.1 83.0h0M427.6 85.3h0M429.6 83.3h0M429.9 96.1h0M434.3 93.6h0M427.3 92.9h0M388.3 97.2h0M396.1 91.8h0M414.8 77.1h0M425.6 77.9h0M403.4 105.0h0M409.6 105.0h0M419.7 76.0h0M408.5 88.5h0M412.6 94.5h0M408.0 93.3h0M385.7 85.2h0M389.0 86.8h0M418.5 86.0h0M424.0 86.7h0M407.5 89.7h0M393.0 82.3h0M424.2 82.8h0M402.9 93.1h0M404.0 100.0h0M419.6 98.3h0M411.2 89.4h0M398.1 105.4h0M423.9 75.0h0M391.3 84.3h0M399.7 88.4h0M394.2 85.0h0M414.2 80.7h0M421.2 87.3h0M392.3 89.0h0M424.6 76.9h0M392.9 101.5h0M422.1 83.3h0M416.0 102.2h0M389.8 96.9h0M416.7 99.8h0M423.2 99.4h0M417.4 81.2h0M422.3 85.7h0M405.6 99.4h0M389.3 91.9h0M422.4 81.9h0M424.4 83.3h0M408.6 84.1h0M395.0 97.6h0M404.1 89.2h0M405.4 101.8h0M399.7 94.0h0M411.7 80.7h0M396.8 83.1h0M404.0 92.5h0M422.9 92.2h0M388.6 99.5h0M420.4 83.1h0M421.0 78.1h0M398.2 96.1h0M424.6 76.6h0M399.3 100.7h0M384.4 84.7h0M398.2 97.8h0M418.0 77.7h0M399.8 87.2h0M417.3 93.0h0M389.5 102.2h0M415.6 90.1h0M415.7 84.5h0M408.7 103.5h0M394.4 99.9h0M422.2 97.0h0M404.2 103.1h0M388.5 99.7h0M385.7 92.7h0M388.0 84.9h0M391.0 98.3h0M386.5 82.6h0M419.4 86.3h0M415.8 101.4h0M416.4 95.9h0M387.8 91.8h0M422.9 76.5h0M414.7 82.7h0M396.3 95.2h0M389.9 103.6h0M410.4 92.5h0M398.7 92.5h0M424.2 92.5h0M406.7 99.1h0M389.3 102.3h0M384.4 86.4h0M417.6 90.2h0M402.8 84.2h0M400.6 89.6h0M412.3 104.2h0M422.8 95.8h0M421.3 87.3h0M421.2 75.2h0M408.8 93.7h0M412.3 98.7h0M398.8 101.5h0M420.7 99.8h0M413.2 101.2h0M392.4 103.4h0M403.4 87.8h0M420.4 82.2h0M419.5 75.5h0M397.5 99.3h0M399.5 84.3h0M422.8 80.5h0M401.6 83.2h0M410.7 81.0h0M406.2 92.7h0M404.1 97.3h0M397.6 89.7h0M417.2 87.8h0M390.3 83.9h0M423.4 94.4h0M418.0 99.9h0M410.4 94.4h0M414.0 90.7h0M395.0 96.7h0M416.1 91.3h0M416.6 83.3h0M417.7 94.2h0M388.5 101.1h0M426.0 74.0h0M385.9 86.4h0M410.1 101.0h0M392.8 83.4h0M391.5 96.6h0M404.8 89.7h0M395.8 86.7h0M421.7 97.2h0M407.0 94.0h0M420.8 87.9h0M410.0 99.3h0M414.8 99.7h0M400.9 101.4h0M423.1 75.9h0M419.9 79.6h0M419.1 103.2h0M406.9 102.8h0M398.8 82.1h0M401.2 92.9h0M412.2 93.2h0M419.2 95.5h0M406.3 82.2h0M384.2 87.7h0M412.8 100.8h0M412.3 98.2h0M422.4 86.0h0M415.1 81.9h0M402.6 100.8h0M400.8 85.9h0M393.5 88.4h0M387.3 99.0h0M421.4 99.4h0M399.2 102.9h0M393.6 85.2h0M387.8 99.4h0M394.5 89.9h0M420.3 86.3h0M404.8 87.1h0M399.5 100.0h0M418.9 76.4h0M408.3 90.4h0M401.0 96.2h0M418.5 75.9h0M398.5 83.0h0M405.2 89.6h0M384.6 82.3h0M391.1 85.7h0M409.3 100.8h0M409.2 99.6h0M419.4 87.8h0M422.9 102.8h0M408.9 86.8h0M393.7 102.8h0M387.0 98.6h0M421.2 96.3h0M404.7 97.1h0M415.3 78.3h0M401.2 98.3h0M394.5 81.9h0M408.2 90.0h0M421.6 84.0h0M423.8 91.9h0M394.1 101.6h0M416.8 99.2h0M391.7 100.5h0M408.4 105.7h0M410.7 102.6h0M396.5 99.5h0M415.5 98.9h0M410.5 104.1h0M393.6 97.7h0M400.6 90.7h0M407.7 103.2h0M419.8 95.9h0M387.5 87.8h0M421.8 79.0h0M393.3 97.4h0M412.0 82.8h0M386.8 93.1h0M392.5 104.3h0M403.0 93.6h0M402.9 101.7h0M422.2 73.8h0M390.1 87.9h0M412.5 104.5h0M394.9 83.7h0M421.6 94.6h0M422.3 92.5h0M392.4 104.4h0M421.0 87.1h0M402.5 93.8h0M425.0 81.0h0M391.1 92.6h0M393.5 97.7h0M396.3 87.0h0M418.0 90.1h0M407.8 80.5h0M402.6 94.8h0M413.0 92.2h0M391.5 81.8h0M423.8 101.7h0M403.0 82.7h0M392.7 97.5h0M391.4 98.2h0M407.1 84.0h0M422.1 95.5h0M392.2 89.0h0M391.3 90.4h0M384.6 93.4h0M385.9 87.4h0M398.5 84.3h0M416.2 94.0h0M417.0 102.0h0M424.4 78.7h0M422.7 78.3h0M423.1 78.7h0M407.9 99.0h0M387.2 91.5h0M389.8 103.0h0M394.6 103.4h0M419.3 80.4h0M418.9 91.0h0M393.8 101.7h0M417.1 103.1h0M423.0 99.4h0M384.1 88.0h0M409.3 84.1h0M390.1 87.1h0M402.8 107.4h0M422.8 92.8h0M417.9 90.9h0M385.6 90.1h0M412.5 88.6h0M395.0 92.7h0M405.7 92.7h0M419.1 89.5h0M384.1 94.1h0M392.3 84.4h0M420.8 101.1h0M391.1 83.9h0M405.0 101.6h0M409.2 87.3h0M393.3 102.1h0M418.3 86.4h0M394.1 104.4h0M419.9 99.2h0M414.3 105.1h0M400.8 89.3h0M403.6 97.3h0M413.3 88.8h0M398.0 92.3h0M411.6 82.1h0M401.9 88.1h0M405.2 98.7h0M385.4 81.7h0M423.6 98.8h0M389.3 101.3h0M412.3 99.3h0M415.4 86.6h0M422.6 88.3h0M411.2 103.4h0M419.8 104.8h0M425.2 79.2h0M411.8 89.6h0M392.8 94.0h0M417.1 101.7h0M413.1 99.4h0M407.8 83.1h0M416.1 93.6h0M413.2 81.3h0M387.9 98.7h0M402.6 93.2h0M413.5 103.2h0M404.7 96.5h0M416.6 82.8h0M384.7 95.9h0M396.0 92.6h0M391.2 89.4h0M389.2 91.0h0M417.0 103.1h0M386.4 89.9h0M411.1 96.9h0M402.6 97.7h0M412.6 88.7h0M389.7 86.0h0M418.4 93.0h0M413.6 85.5h0M414.4 86.9h0M409.9 81.7h0M393.9 96.7h0M414.3 99.1h0M407.9 80.9h0M409.0 92.4h0M395.1 91.5h0M395.6 104.5h0M412.7 104.8h0M418.3 95.0h0M388.7 98.8h0M416.7 87.1h0M400.2 98.1h0M402.8 90.3h0M390.7 96.2h0M409.7 100.1h0M391.2 85.4h0M408.4 83.3h0M394.6 85.1h0M409.4 86.5h0M396.9 90.4h0M406.5 84.9h0M390.9 102.9h0M405.3 92.7h0M407.5 90.9h0M421.5 104.1h0M421.3 96.5h0M412.7 91.7h0M406.8 103.9h0M406.3 102.2h0M421.7 95.4h0M421.7 93.4h0M414.1 99.8h0M422.7 101.0h0M398.9 87.5h0M399.0 99.1h0M401.4 86.0h0M390.2 102.7h0M395.8 86.0h0M407.2 81.4h0M401.5 90.8h0M402.8 100.5h0M389.1 101.6h0M404.7 84.7h0M405.3 103.8h0M423.0 76.9h0M419.2 78.4h0M391.4 94.5h0M409.3 80.6h0M411.7 90.1h0M389.3 91.3h0M426.5 74.6h0M391.1 83.4h0M401.4 102.4h0M400.2 84.6h0M415.4 83.8h0M422.7 73.6h0M400.7 93.4h0M402.9 89.9h0M413.7 84.5h0M391.2 89.6h0M393.7 88.5h0M416.7 87.6h0M421.1 89.9h0M406.3 81.8h0M404.6 94.1h0M420.5 101.2h0M423.3 79.5h0M418.5 91.4h0M415.9 103.8h0M404.5 104.3h0M411.0 83.5h0M423.8 85.3h0M387.5 88.1h0M406.0 81.7h0M383.7 89.5h0M424.6 80.0h0M393.6 90.6h0M409.0 85.7h0M413.9 98.0h0M402.0 88.7h0M415.4 99.0h0M389.5 87.4h0M423.9 76.8h0M405.4 93.6h0M400.9 101.9h0M411.1 96.4h0M384.2 91.5h0M407.3 88.7h0M401.8 104.8h0M406.8 82.3h0M423.2 85.5h0M389.5 91.4h0M383.8 88.3h0M393.2 98.0h0M424.5 74.8h0M387.9 86.0h0M411.2 86.8h0M413.6 91.6h0M414.0 92.2h0M412.5 104.0h0M394.3 94.4h0M400.0 84.8h0M400.1 87.5h0M394.7 99.7h0M423.2 88.0h0M403.5 95.6h0M408.4 93.1h0M417.3 88.7h0M417.8 104.5h0M398.8 100.0h0M404.3 90.7h0M404.1 85.2h0M400.1 104.4h0M398.4 103.0h0M408.1 104.3h0M404.8 85.1h0M386.4 97.1h0M401.9 87.3h0M412.3 93.3h0M391.7 89.8h0M385.9 86.8h0M394.0 95.6h0M388.6 116.9h0M393.2 107.8h0M410.7 114.7h0M399.9 112.0h0M404.0 114.1h0M382.0 114.7h0M397.6 109.9h0M404.3 117.2h0M413.8 117.1h0M399.2 113.5h0M398.5 107.1h0M412.8 115.5h0M392.6 109.0h0M406.4 110.3h0M401.3 114.2h0M410.9 112.6h0M392.9 117.8h0M394.7 105.3h0M410.3 107.5h0M404.0 114.4h0M410.5 109.5h0M389.0 112.7h0M392.9 116.4h0M412.7 107.8h0M396.3 105.5h0M390.4 116.1h0M388.0 114.7h0M412.0 115.8h0M384.9 111.8h0M385.5 116.1h0M388.8 113.6h0M409.2 107.6h0M387.3 116.4h0M410.2 114.1h0M391.0 112.0h0M397.5 113.3h0M382.3 114.4h0M393.8 116.2h0M402.1 110.6h0M392.6 109.6h0M394.9 110.1h0M408.0 113.9h0M412.3 111.0h0M384.2 113.0h0M406.5 107.6h0M409.1 107.9h0M383.9 114.5h0M409.9 117.0h0M384.3 115.1h0M408.8 113.1h0M409.1 107.7h0M391.2 111.8h0M407.1 113.6h0M404.4 114.8h0M398.5 108.4h0M397.2 107.8h0M396.1 114.9h0M413.0 111.3h0M398.4 117.0h0M390.2 116.8h0M402.3 117.2h0M408.1 117.8h0M387.0 117.7h0M410.5 115.9h0M391.3 116.9h0M393.0 112.2h0M413.0 114.1h0M389.7 113.7h0M394.2 108.6h0M398.3 114.3h0M394.6 110.8h0M409.4 106.9h0M385.4 115.0h0M390.6 116.0h0M407.1 114.3h0M399.7 108.5h0M403.7 114.5h0M401.1 108.5h0M400.1 112.3h0M389.8 109.4h0M402.7 107.8h0M411.8 110.2h0M421.4 114.9h0M439.4 114.9h0M442.9 116.8h0M442.0 116.5h0M422.4 108.0h0M422.4 109.0h0M440.6 116.1h0M418.5 107.7h0M415.6 109.2h0M419.2 114.5h0M425.1 114.7h0M437.5 116.5h0M415.8 109.0h0M425.9 111.3h0M437.7 115.9h0M419.6 114.9h0M426.2 110.9h0M439.7 115.6h0M425.3 109.2h0M418.9 107.8h0M427.2 113.9h0M414.3 112.5h0M418.8 108.3h0M426.0 116.9h0M415.4 113.4h0M423.1 108.1h0M418.0 115.7h0M417.4 116.7h0M415.6 109.4h0M425.1 111.8h0M419.5 112.7h0M429.1 117.1h0M440.9 117.1h0M416.7 115.4h0M419.4 115.6h0M415.0 114.5h0M420.2 111.3h0M420.1 107.7h0M437.6 115.3h0M430.3 115.8h0M419.0 112.9h0M421.6 117.5h0M425.2 107.7h0M414.2 106.2h0M432.6 117.7h0M441.3 116.5h0M423.1 113.7h0M426.1 108.1h0M417.8 106.7h0M431.2 117.4h0M422.0 115.4h0M421.1 115.0h0M427.2 117.8h0M434.8 115.5h0M415.5 107.7h0M418.4 112.4h0M420.6 111.2h0M426.2 114.2h0M422.8 110.3h0M444.8 116.4h0M423.8 110.5h0M415.0 112.5h0M434.0 115.0h0M425.8 109.3h0M367.7 102.4h0M368.2 99.2h0M374.2 108.0h0M369.8 110.7h0M376.1 113.2h0M374.2 111.0h0M368.4 103.2h0M371.5 98.3h0M370.3 101.0h0M372.6 106.3h0M374.4 111.6h0M372.8 112.6h0M371.7 113.5h0M370.9 115.3h0M374.5 111.5h0M372.6 103.6h0M372.4 112.4h0M370.7 105.2h0M371.6 114.4h0M374.4 115.2h0M374.0 108.6h0M371.6 113.7h0M369.0 103.6h0M370.3 112.2h0M371.5 99.3h0M373.3 107.7h0M371.7 109.3h0M370.3 101.0h0M367.3 97.7h0M370.2 103.7h0M372.4 103.4h0M369.0 99.9h0M368.4 104.3h0M367.7 97.4h0M369.1 108.6h0M368.9 102.4h0M372.8 112.6h0M373.0 102.0h0M371.0 112.3h0M372.5 111.7h0M368.9 108.4h0M376.1 115.3h0M371.9 100.0h0M370.8 108.5h0M370.8 103.8h0M373.8 104.4h0M392.1 103.0h0M386.6 109.7h0M389.1 108.1h0M382.1 113.2h0M381.7 110.4h0M374.1 116.5h0M383.2 111.4h0M390.4 104.1h0M374.6 114.5h0M384.1 108.0h0M375.9 112.3h0M387.5 107.4h0M383.3 108.4h0M379.5 110.4h0M381.9 109.8h0M390.9 105.8h0M373.9 112.5h0M391.6 105.6h0M384.3 109.4h0M388.0 104.6h0M378.6 115.4h0M379.6 109.1h0M386.0 105.1h0M382.8 112.9h0M377.2 110.3h0M388.5 107.6h0M393.6 103.6h0M390.4 104.0h0M386.6 105.9h0M390.2 105.6h0M385.3 106.4h0M384.1 111.0h0M387.1 107.2h0M391.9 105.2h0M389.7 106.3h0M374.1 115.8h0M388.7 85.0h0M382.1 95.6h0M388.4 97.3h0M392.6 86.2h0M377.7 98.8h0M382.9 91.2h0M391.5 98.4h0M388.0 91.1h0M379.7 86.8h0M393.5 91.2h0M384.0 99.9h0M391.6 99.2h0M390.1 96.6h0M379.1 102.1h0M380.5 87.0h0M393.9 94.0h0M378.2 99.5h0M380.2 102.3h0M378.7 86.9h0M390.4 100.1h0M374.4 82.2h0M374.0 83.0h0M380.6 77.3h0M383.3 78.0h0M383.7 74.4h0M378.0 90.2h0M373.6 85.2h0M381.7 83.0h0M373.2 88.6h0M376.2 96.9h0M382.7 90.6h0M384.6 79.1h0M375.4 76.1h0M374.0 97.8h0M377.4 80.8h0M383.0 87.2h0M373.9 95.5h0M374.8 75.7h0M384.4 85.9h0M382.4 81.3h0M375.3 81.0h0M375.5 94.4h0M381.0 91.8h0M380.4 73.6h0"/>
<path stroke="#4cbb2c" stroke-width="1.84" stroke-linecap="round" fill="none" d="M413.1 55.0h0M415.1 56.5h0M399.5 60.2h0M409.6 46.5h0M404.0 55.0h0M407.1 59.6h0M404.7 60.3h0M414.5 52.4h0M408.5 62.8h0M404.1 58.6h0M406.1 43.1h0M410.0 59.8h0M412.4 49.1h0M401.8 61.2h0M407.0 57.2h0M407.8 55.4h0M404.0 63.6h0M411.7 45.2h0M409.9 57.9h0M405.3 59.9h0M399.8 62.7h0M405.1 58.2h0M399.6 62.0h0M413.2 50.9h0M412.0 56.1h0M413.8 52.8h0M412.7 45.0h0M409.4 47.7h0M413.9 52.9h0M401.7 63.1h0M399.8 72.1h0M404.9 73.3h0M382.1 72.5h0M405.8 65.4h0M416.5 72.7h0M386.6 76.9h0M408.9 64.6h0M412.3 68.8h0M398.4 74.0h0M395.2 64.7h0M386.3 71.5h0M389.1 74.8h0M389.3 79.0h0M401.9 68.0h0M407.5 79.1h0M399.8 74.9h0M407.1 69.4h0M398.3 81.8h0M396.9 64.6h0M401.2 76.4h0M417.2 71.2h0M419.6 67.5h0M415.2 72.8h0M429.2 56.5h0M429.1 65.2h0M424.2 67.2h0M426.7 65.3h0M426.5 67.9h0M425.3 60.9h0M439.9 82.1h0M436.5 85.4h0M439.3 88.6h0M446.4 82.3h0M443.3 93.8h0M443.3 95.6h0M433.0 106.1h0M424.9 98.7h0M440.2 110.8h0M435.0 105.2h0M423.5 105.1h0M408.0 102.1h0M417.0 104.5h0M390.0 100.4h0M387.5 95.1h0M391.1 81.8h0M413.2 89.4h0M387.6 81.3h0M392.1 88.1h0M395.7 86.3h0M424.6 75.2h0M423.3 104.7h0M413.4 91.1h0M419.2 80.5h0M401.8 96.7h0M419.6 90.0h0M403.4 104.8h0M409.4 90.8h0M419.0 98.4h0M415.8 84.1h0M392.9 100.4h0M403.2 87.5h0M421.1 94.7h0M405.9 103.4h0M390.2 86.5h0M401.9 105.4h0M417.9 95.6h0M400.4 87.2h0M418.4 97.7h0M399.5 89.5h0M390.0 92.4h0M385.4 112.8h0M411.8 117.6h0M418.6 106.6h0M419.6 107.3h0M426.2 111.5h0M433.4 115.4h0M415.5 115.8h0M435.5 116.9h0M367.9 101.6h0M369.4 110.0h0M370.6 102.4h0M371.6 104.0h0M375.9 115.1h0M371.7 115.8h0M373.0 111.1h0M372.1 112.6h0M374.1 112.3h0M375.8 114.7h0M372.2 105.8h0M375.7 110.2h0M369.9 109.7h0M375.6 114.4h0M373.4 108.1h0M370.8 105.3h0M371.9 99.0h0M374.1 109.1h0M371.2 101.6h0M367.6 100.5h0M374.0 106.3h0M375.2 113.1h0M373.9 104.9h0M374.9 113.1h0M373.3 106.2h0M371.6 104.4h0M373.5 108.1h0M368.0 98.3h0M371.0 107.8h0M369.2 104.2h0M375.3 109.2h0M386.8 104.9h0M385.5 110.8h0M381.3 107.8h0M378.9 112.3h0M386.5 105.5h0M378.1 114.7h0M386.7 106.4h0M381.0 113.8h0M389.2 103.4h0M382.9 112.8h0M378.2 109.3h0M380.4 107.9h0M381.0 112.1h0M379.4 112.4h0M373.3 112.8h0M382.6 112.4h0M377.6 116.8h0M393.7 105.2h0M382.6 106.6h0M392.9 104.1h0M393.7 104.7h0M377.0 114.2h0M377.2 115.7h0M381.3 109.4h0M392.5 102.4h0M376.4 117.3h0M390.3 102.8h0M383.3 109.1h0M386.3 105.9h0M384.0 109.8h0M393.4 104.2h0M384.5 105.7h0M373.4 115.3h0M375.9 116.5h0M376.5 111.6h0M376.0 114.0h0M374.6 114.5h0M393.1 85.8h0M385.7 89.0h0M391.3 86.3h0M393.2 99.9h0M393.9 85.2h0M380.2 101.4h0M385.3 93.9h0M385.2 71.9h0M382.3 89.1h0"/>
<path stroke="#6874cc" stroke-width="1.84" stroke-linecap="round" fill="none" d="M410.4 43.5h0M410.2 55.7h0M397.7 53.9h0M409.2 46.8h0M403.4 58.3h0M410.6 52.5h0M404.6 61.3h0M411.4 50.8h0M414.3 51.4h0M415.2 50.6h0M410.0 62.6h0M405.5 46.1h0M396.8 71.2h0M411.9 68.4h0M404.2 69.9h0M397.8 78.1h0M396.5 69.4h0M398.7 63.9h0M396.9 75.2h0M410.4 68.3h0M408.2 78.7h0M403.9 69.3h0M411.1 71.1h0M393.5 66.6h0M382.3 73.9h0M416.8 76.9h0M425.5 70.8h0M425.9 62.3h0M429.9 58.3h0M428.3 63.1h0M413.8 73.7h0M429.9 58.3h0M431.5 74.8h0M441.1 80.7h0M438.9 75.1h0M437.7 73.6h0M437.0 84.9h0M447.2 89.3h0M446.0 77.2h0M435.6 79.7h0M428.1 76.9h0M445.2 85.8h0M440.1 90.4h0M438.5 78.0h0M438.3 82.5h0M443.5 84.5h0M448.0 90.4h0M437.5 82.7h0M428.5 75.9h0M426.4 79.4h0M434.9 82.4h0M441.7 82.7h0M444.7 76.9h0M441.4 77.5h0M441.3 75.5h0M444.2 80.8h0M437.5 80.7h0M438.4 77.3h0M428.2 75.3h0M436.4 83.7h0M439.6 73.9h0M426.5 79.6h0M443.0 97.2h0M443.9 100.7h0M441.4 104.2h0M427.7 104.2h0M437.7 113.3h0M433.4 112.1h0M426.9 101.4h0M430.3 104.7h0M425.4 102.8h0M442.0 113.2h0M442.1 113.7h0M432.2 109.5h0M432.7 106.9h0M432.4 113.8h0M426.8 111.8h0M423.1 100.3h0M430.5 113.5h0M435.0 105.5h0M436.0 106.3h0M430.8 107.1h0M441.4 107.8h0M435.7 102.9h0M426.7 102.2h0M431.9 114.1h0M427.1 109.9h0M442.5 110.5h0M434.1 106.8h0M422.9 106.4h0M390.0 100.4h0M407.4 92.6h0M415.7 75.5h0M410.1 87.0h0M387.9 96.7h0M415.2 76.7h0M395.4 93.8h0M386.6 81.0h0M384.1 86.4h0M415.9 94.9h0M416.3 85.8h0M401.8 94.6h0M418.3 90.8h0M385.8 117.8h0M413.8 115.6h0M391.4 110.8h0M423.8 109.4h0M428.3 117.1h0M422.9 108.2h0M442.8 114.9h0M424.6 117.9h0M444.2 114.7h0"/>
<path stroke="#48c4e4" stroke-width="1.84" stroke-linecap="round" fill="none" d="M440.7 86.7h0M435.9 79.5h0M440.7 80.1h0M432.0 79.9h0M447.4 80.6h0M440.2 79.0h0M435.8 74.8h0"/>
<path stroke="#3040b0" stroke-width="1.84" stroke-linecap="round" fill="none" d="M409.3 49.9h0M402.8 59.3h0M414.4 49.1h0M415.1 53.5h0M409.2 50.1h0M409.0 49.8h0M408.4 43.4h0M409.4 46.7h0M412.6 44.6h0M412.5 44.9h0M412.3 56.9h0M408.9 42.9h0M411.8 47.3h0M403.6 59.7h0M407.9 47.4h0M407.1 45.9h0M412.0 46.1h0M408.0 44.9h0M401.4 76.7h0M389.8 74.1h0M399.9 74.1h0M398.6 76.2h0M389.4 77.4h0M410.2 76.5h0M406.7 67.7h0M406.0 78.7h0M403.5 74.6h0M390.2 68.1h0M397.3 68.7h0M394.8 64.1h0M406.0 74.2h0M419.0 71.5h0M414.6 71.6h0M427.0 60.3h0M430.0 62.6h0M430.9 59.1h0M428.2 65.2h0M421.7 73.8h0M428.5 64.4h0M430.2 76.1h0M440.6 77.5h0M428.9 75.0h0M445.6 84.4h0M444.8 84.2h0M437.3 74.6h0M438.6 75.1h0M438.5 81.1h0M445.8 85.9h0M437.6 75.8h0M435.5 73.8h0M432.9 81.0h0M433.2 79.7h0M429.8 75.0h0M442.4 90.7h0M446.8 79.5h0M444.9 89.4h0M439.2 86.4h0M443.3 89.3h0M444.7 84.4h0M442.6 83.5h0M431.3 76.1h0M445.8 83.9h0M429.0 76.6h0M443.0 90.3h0M445.7 90.2h0M437.9 74.0h0M435.9 74.8h0M443.1 78.2h0M445.6 82.8h0M444.3 86.7h0M446.1 78.7h0M438.2 79.5h0M437.2 74.6h0M437.6 86.6h0M438.6 80.5h0M427.2 80.1h0M440.9 74.6h0M446.9 88.9h0M436.5 78.4h0M446.5 89.9h0M429.5 77.7h0M434.9 74.8h0M447.6 88.9h0M442.6 83.6h0M433.9 75.8h0M439.0 89.1h0M432.8 76.8h0M436.9 81.5h0M429.1 77.4h0M442.2 78.0h0M441.1 84.7h0M446.3 84.0h0M439.2 84.0h0M434.6 73.5h0M444.5 83.6h0M429.8 74.9h0M430.5 80.0h0M439.9 89.3h0M437.1 79.5h0M435.8 81.1h0M438.1 79.3h0M442.3 75.6h0M445.7 90.0h0M441.1 90.6h0M444.8 77.4h0M443.3 80.2h0M447.6 82.6h0M437.1 83.8h0M436.6 74.2h0M442.3 84.6h0M436.6 78.1h0M439.8 75.4h0M435.9 79.8h0M441.2 90.9h0M440.1 78.8h0M441.7 84.3h0M428.0 80.5h0M436.9 82.3h0M448.1 86.2h0M444.7 89.5h0M444.3 76.4h0M443.6 78.7h0M440.2 75.9h0M441.9 90.6h0M446.8 87.8h0M444.9 99.2h0M445.1 102.9h0M439.0 96.7h0M440.4 100.3h0M440.0 93.1h0M440.2 103.8h0M443.0 103.6h0M441.7 105.5h0M447.8 100.9h0M446.5 91.8h0M443.5 101.7h0M441.1 95.9h0M445.3 96.8h0M438.2 100.9h0M432.5 109.6h0M432.2 113.1h0M423.5 106.4h0M430.5 114.6h0M426.6 99.8h0M440.0 112.5h0M422.3 100.6h0M435.9 105.0h0M424.3 102.3h0M437.2 99.7h0M433.8 100.3h0M428.6 109.8h0M434.2 109.4h0M436.0 102.5h0M427.7 104.0h0M434.7 111.4h0M422.3 103.8h0M438.2 102.0h0M438.7 112.4h0M429.9 101.2h0M426.3 99.4h0M440.8 111.1h0M439.2 109.0h0M435.6 111.3h0M424.7 106.8h0M441.9 110.1h0M421.3 101.8h0M438.4 114.1h0M434.8 107.0h0M433.3 104.0h0M446.2 109.3h0M427.2 104.0h0M430.4 107.6h0M428.4 81.8h0M428.5 81.1h0M404.1 83.9h0M416.1 102.0h0M402.3 106.2h0M414.8 88.3h0M390.7 89.3h0M416.2 83.3h0M423.1 85.1h0M421.3 104.4h0M404.0 95.2h0M417.7 94.5h0M395.6 94.3h0M392.1 98.8h0M398.8 86.2h0M394.1 92.0h0M397.0 94.7h0M393.5 108.6h0M389.5 117.5h0M392.7 117.7h0M410.6 107.5h0M431.6 114.9h0M429.7 113.5h0M414.7 110.7h0M435.0 115.1h0M427.8 113.5h0M427.0 111.8h0M425.3 113.2h0M420.0 110.6h0M419.9 117.4h0M439.8 116.1h0M440.6 116.2h0M422.7 108.8h0M431.4 116.7h0M436.0 116.2h0M372.7 104.3h0M370.2 101.0h0M372.9 113.4h0M373.4 103.6h0M372.6 101.5h0M369.5 106.8h0M369.5 98.2h0M381.4 109.6h0M378.0 110.8h0M383.5 106.8h0M374.3 116.9h0M382.6 98.1h0M384.3 80.6h0"/>
<path stroke="#bababa" stroke-width="1.64" stroke-linecap="round" fill="none" d="M409.1 169.2h0M413.8 161.6h0M410.6 174.8h0M407.8 176.4h0M416.2 169.3h0M407.6 156.7h0M409.8 171.4h0M406.3 173.8h0M415.9 167.5h0M403.9 164.1h0M412.4 167.6h0M410.7 165.4h0M407.2 163.3h0M408.4 172.5h0M407.3 163.8h0M413.1 158.0h0M408.5 165.1h0M404.2 174.7h0M411.6 159.1h0M409.7 171.3h0M407.0 164.7h0M407.8 161.2h0M405.7 172.9h0M401.7 170.9h0M410.0 161.8h0M410.1 172.0h0M406.4 173.0h0M412.5 168.2h0M407.9 173.9h0M410.1 171.1h0M409.1 159.9h0M401.7 176.0h0M413.7 158.6h0M413.1 172.6h0M405.1 172.8h0M412.3 174.2h0M410.0 162.6h0M404.6 166.3h0M406.7 159.9h0M406.1 158.4h0M413.5 167.3h0M406.9 169.3h0M405.5 161.7h0M412.0 160.4h0M413.3 163.9h0M410.1 159.7h0M401.9 174.6h0M406.4 173.1h0M415.5 169.1h0M402.6 170.0h0M406.6 164.2h0M400.0 172.1h0M405.5 165.8h0M400.7 166.8h0M409.0 157.6h0M415.4 167.0h0M407.6 166.5h0M404.1 167.2h0M408.5 161.7h0M406.9 175.3h0M403.9 174.1h0M413.5 159.8h0M406.7 173.3h0M402.8 168.5h0M408.6 161.6h0M413.9 169.6h0M410.0 173.4h0M404.4 169.6h0M404.8 161.8h0M400.3 172.6h0M411.9 156.9h0M406.1 162.4h0M415.4 164.9h0M407.9 163.3h0M408.7 171.5h0M406.4 162.8h0M411.8 158.4h0M401.5 173.0h0M405.3 162.1h0M409.4 162.3h0M409.5 157.0h0M408.4 168.2h0M404.2 174.3h0M415.9 169.7h0M406.0 159.2h0M410.1 161.8h0M401.3 167.0h0M401.9 169.3h0M410.2 159.7h0M404.6 171.1h0M410.9 157.4h0M408.9 171.6h0M408.7 164.2h0M409.8 171.0h0M410.0 174.4h0M412.3 163.8h0M413.5 163.5h0M411.4 166.3h0M403.6 169.3h0M415.2 163.3h0M402.1 171.9h0M408.7 173.5h0M402.9 172.6h0M408.6 171.9h0M407.6 170.4h0M413.1 171.0h0M409.9 157.7h0M406.3 164.0h0M403.0 163.4h0M415.1 160.4h0M415.6 167.4h0M405.7 172.4h0M407.6 157.3h0M413.0 171.1h0M411.6 173.2h0M414.9 162.9h0M405.2 160.0h0M401.7 169.6h0M402.4 170.3h0M401.3 169.4h0M408.8 173.3h0M410.8 171.8h0M414.5 173.2h0M410.5 176.1h0M413.6 164.3h0M401.7 164.8h0M406.7 175.2h0M415.0 173.6h0M404.2 176.3h0M415.2 161.5h0M408.9 176.6h0M413.0 171.7h0M413.1 158.4h0M407.3 156.2h0M413.2 168.2h0M412.4 157.3h0M407.3 173.0h0M412.1 159.3h0M399.0 181.2h0M383.5 188.5h0M415.7 188.2h0M407.6 188.8h0M393.2 189.5h0M393.6 177.0h0M394.2 178.1h0M412.0 178.7h0M408.0 191.9h0M383.4 184.6h0M401.6 183.7h0M413.8 183.4h0M393.2 176.9h0M412.1 180.6h0M391.1 186.0h0M416.2 185.9h0M395.3 190.4h0M399.0 185.0h0M398.7 193.9h0M405.5 180.4h0M388.4 182.7h0M390.2 183.9h0M405.8 182.8h0M406.2 184.6h0M415.6 186.5h0M388.4 180.7h0M405.7 192.6h0M388.5 177.8h0M400.9 187.3h0M399.0 187.9h0M396.8 190.0h0M394.4 176.6h0M406.3 190.9h0M411.0 183.7h0M386.9 187.7h0M395.8 183.9h0M398.4 183.1h0M411.1 187.0h0M411.5 184.4h0M401.7 191.1h0M413.5 175.2h0M392.2 190.8h0M398.7 174.2h0M414.6 185.2h0M394.7 177.4h0M403.0 182.2h0M413.0 178.7h0M393.2 178.7h0M399.2 184.7h0M389.5 184.4h0M416.1 188.9h0M402.4 183.2h0M405.2 180.2h0M394.8 182.1h0M384.4 185.5h0M390.8 177.0h0M387.8 189.0h0M400.7 184.9h0M395.3 176.9h0M409.9 188.3h0M395.0 190.0h0M393.5 176.1h0M397.8 182.8h0M404.9 178.4h0M415.6 175.8h0M390.4 178.9h0M394.0 179.0h0M386.3 185.9h0M388.9 183.2h0M391.6 175.3h0M401.8 194.0h0M391.3 179.2h0M398.2 192.0h0M400.9 187.2h0M386.8 191.7h0M406.7 179.5h0M394.3 172.7h0M403.4 187.7h0M404.0 190.1h0M392.2 186.9h0M389.9 187.9h0M409.4 182.0h0M408.6 187.2h0M389.9 187.5h0M412.2 176.2h0M397.8 191.4h0M392.5 191.6h0M415.7 187.6h0M406.0 179.6h0M391.1 182.6h0M417.3 187.8h0M416.4 187.7h0M398.0 193.5h0M411.0 190.1h0M404.7 179.6h0M392.8 181.7h0M394.2 183.1h0M394.1 180.1h0M404.2 191.8h0M389.4 187.9h0M405.3 189.6h0M405.5 183.7h0M411.2 188.2h0M403.5 184.6h0M406.2 177.7h0M417.8 185.2h0M397.4 174.7h0M406.9 180.6h0M411.5 178.3h0M406.4 190.1h0M392.8 181.8h0M396.1 180.4h0M392.0 181.2h0M397.8 181.8h0M416.4 186.1h0M400.2 184.9h0M394.6 173.7h0M396.3 190.4h0M405.2 189.4h0M405.0 194.0h0M393.3 174.6h0M396.7 171.1h0M413.1 181.4h0M406.1 182.9h0M401.3 179.8h0M410.5 191.9h0M399.1 184.5h0M416.8 178.7h0M394.7 185.9h0M409.5 190.8h0M407.6 192.0h0M387.2 180.7h0M397.1 177.6h0M397.6 193.4h0M407.3 186.5h0M391.3 179.0h0M387.0 181.6h0M408.9 179.1h0M393.5 176.5h0M398.2 176.2h0M413.6 184.8h0M415.8 177.6h0M407.1 179.6h0M391.7 180.3h0M389.7 185.9h0M388.1 188.0h0M405.6 185.7h0M409.4 181.2h0M396.0 186.7h0M397.6 174.5h0M402.6 179.2h0M390.0 174.0h0M397.2 180.8h0M416.3 182.1h0M396.3 182.8h0M393.1 182.8h0M396.4 175.5h0M395.7 189.6h0M385.4 185.4h0M415.7 185.0h0M398.7 191.9h0M408.4 178.8h0M398.4 178.4h0M408.7 185.3h0M404.5 178.7h0M396.0 177.6h0M397.0 177.2h0M384.6 182.5h0M388.2 175.9h0M387.5 178.5h0M405.0 190.9h0M397.8 186.7h0M412.3 179.3h0M410.6 178.3h0M386.5 179.9h0M399.6 176.9h0M413.0 184.3h0M411.4 183.4h0M416.1 186.1h0M413.1 185.8h0M414.0 187.0h0M394.3 182.8h0M391.2 188.3h0M389.1 193.1h0M387.8 175.0h0M386.6 189.9h0M414.0 187.5h0M391.0 191.1h0M414.8 189.2h0M392.0 183.6h0M398.6 185.3h0M415.3 177.6h0M387.3 177.0h0M416.0 178.4h0M396.0 192.4h0M390.4 189.6h0M394.1 183.6h0M396.7 181.6h0M395.2 188.8h0M396.0 179.4h0M414.3 184.6h0M403.9 191.4h0M398.7 173.6h0M399.1 194.1h0M390.7 189.2h0M417.8 188.2h0M433.0 169.5h0M432.5 175.6h0M427.7 180.7h0M426.1 179.0h0M426.9 178.5h0M419.5 183.6h0M427.5 172.7h0M415.9 188.0h0M427.3 178.3h0M421.7 182.0h0M421.8 185.0h0M427.5 175.0h0M425.9 178.7h0M420.8 178.1h0M431.7 179.1h0M416.7 184.5h0M424.1 181.0h0M422.2 188.7h0M426.4 185.0h0M430.2 171.3h0M425.3 175.4h0M423.4 176.6h0M431.3 176.0h0M428.1 174.7h0M415.1 187.8h0M421.3 183.6h0M422.1 176.1h0M420.9 180.6h0M431.6 170.6h0M419.9 184.4h0M422.3 175.1h0M417.3 187.7h0M417.5 190.0h0M414.7 187.4h0M418.4 188.6h0M431.2 174.7h0M426.1 183.8h0M427.2 177.7h0M419.2 185.3h0M433.1 177.9h0M422.6 176.5h0M425.1 178.3h0M428.1 178.0h0M424.3 176.1h0M425.2 171.7h0M431.0 180.1h0M429.2 175.3h0M432.2 172.9h0M429.3 179.6h0M432.0 175.6h0M423.8 178.1h0M427.9 175.1h0M434.9 172.2h0M422.6 184.2h0M425.5 179.4h0M427.4 178.5h0M424.4 174.9h0M420.4 180.4h0M422.2 188.5h0M423.0 182.3h0M421.0 184.3h0M434.4 174.3h0M426.1 178.4h0M422.9 177.4h0M416.9 186.9h0M429.1 182.2h0M434.1 171.5h0M418.3 186.4h0M433.7 202.6h0M443.3 198.8h0M430.9 188.5h0M438.0 203.5h0M437.8 186.1h0M428.2 191.4h0M429.1 187.4h0M443.9 214.4h0M444.0 198.7h0M429.3 195.4h0M443.9 217.2h0M437.8 188.6h0M442.0 190.5h0M435.9 186.5h0M435.6 202.0h0M435.7 208.7h0M438.3 208.1h0M442.0 200.1h0M437.4 187.1h0M437.8 213.3h0M440.4 213.5h0M439.2 192.8h0M438.8 192.9h0M440.5 203.2h0M425.1 194.6h0M424.9 191.9h0M434.1 212.6h0M441.9 192.1h0M445.0 198.6h0M434.8 212.0h0M439.9 210.2h0M435.7 187.1h0M439.9 200.0h0M444.5 196.1h0M440.2 203.0h0M442.0 188.5h0M440.4 192.5h0M433.0 187.5h0M430.9 191.2h0M428.3 187.5h0M442.9 213.0h0M442.9 191.3h0M426.3 190.0h0M437.0 190.1h0M429.9 197.1h0M439.9 205.9h0M433.8 211.7h0M444.8 197.4h0M431.1 200.0h0M438.8 204.3h0M444.0 214.0h0M440.9 216.9h0M445.2 208.6h0M444.1 202.2h0M444.3 210.8h0M424.7 191.1h0M438.4 186.4h0M439.5 212.4h0M439.2 204.9h0M440.9 196.4h0M440.8 195.0h0M439.3 198.4h0M439.3 198.6h0M434.9 213.8h0M430.6 199.2h0M429.6 194.3h0M434.2 210.5h0M439.2 201.5h0M437.3 212.7h0M438.3 218.2h0M438.2 213.4h0M437.2 209.1h0M436.0 186.9h0M440.5 213.2h0M439.8 210.2h0M431.1 189.2h0M436.4 188.5h0M439.9 214.1h0M440.7 197.4h0M438.3 190.0h0M429.7 195.0h0M425.1 194.6h0M438.1 215.3h0M432.5 194.6h0M438.4 201.0h0M443.0 189.9h0M440.4 200.4h0M443.8 191.5h0M442.1 220.0h0M434.4 217.0h0M429.1 215.3h0M426.3 214.1h0M433.7 227.4h0M418.6 223.5h0M424.7 213.8h0M437.2 224.7h0M420.9 227.3h0M422.0 222.9h0M440.6 219.7h0M436.3 218.3h0M435.2 218.1h0M432.4 228.6h0M429.3 216.6h0M435.9 221.4h0M431.6 225.0h0M431.2 219.1h0M434.4 226.9h0M431.5 228.6h0M436.7 218.2h0M427.3 226.9h0M430.0 229.4h0M428.5 218.1h0M438.0 227.0h0M440.5 228.9h0M436.4 220.1h0M433.1 219.4h0M421.2 222.8h0M421.4 215.6h0M419.4 220.5h0M426.4 228.1h0M430.3 226.7h0M432.1 218.0h0M434.3 218.0h0M427.2 226.0h0M428.9 227.9h0M430.1 219.0h0M433.1 212.3h0M436.5 217.5h0M420.4 215.0h0M419.1 217.1h0M440.1 223.7h0M422.8 220.4h0M433.8 229.6h0M428.2 221.6h0M430.9 221.5h0M424.4 214.1h0M421.5 220.3h0M430.9 224.6h0M425.5 224.9h0M436.4 218.6h0M431.8 228.9h0M418.9 225.3h0M435.7 217.8h0M433.2 223.6h0M428.4 229.0h0M420.8 226.1h0M420.9 218.2h0M438.6 225.9h0M435.4 224.9h0M423.9 217.4h0M436.8 219.2h0M426.6 213.6h0M440.1 223.9h0M442.7 224.2h0M428.7 217.6h0M421.1 225.3h0M420.2 217.9h0M436.0 218.1h0M431.7 230.2h0M439.7 229.2h0M420.8 216.7h0M434.9 219.8h0M438.1 221.6h0M424.8 222.8h0M433.9 219.6h0M429.1 214.3h0M440.4 222.9h0M422.7 212.6h0M440.3 221.0h0M436.3 218.0h0M429.5 215.6h0M428.7 212.3h0M425.0 226.5h0M419.5 221.8h0M436.3 225.7h0M432.5 228.6h0M426.7 228.0h0M418.8 217.0h0M419.5 217.5h0M432.9 225.7h0M432.9 221.4h0M432.0 227.7h0M419.0 226.3h0M422.4 216.4h0M420.7 222.3h0M424.0 212.9h0M432.4 229.1h0M420.7 227.5h0M441.5 228.2h0M427.8 216.4h0M420.7 196.9h0M423.7 206.1h0M422.5 209.2h0M422.0 208.5h0M424.6 207.0h0M428.2 205.7h0M430.9 202.5h0M431.3 209.7h0M429.9 202.5h0M430.7 204.1h0M424.4 195.9h0M427.8 197.5h0M431.8 209.3h0M428.7 211.3h0M420.5 208.4h0M428.0 203.2h0M389.5 199.3h0M394.6 199.6h0M394.9 217.0h0M390.4 195.9h0M407.0 195.3h0M401.5 205.0h0M409.5 194.1h0M396.4 197.4h0M416.3 194.2h0M393.5 214.9h0M398.7 196.8h0M385.9 197.5h0M397.0 208.3h0M414.1 209.5h0M413.2 194.9h0M410.5 203.4h0M398.6 203.2h0M409.7 205.6h0M402.3 201.1h0M396.3 204.4h0M418.1 210.1h0M389.5 199.0h0M404.0 198.6h0M414.8 190.7h0M390.8 212.7h0M404.0 197.2h0M398.5 206.8h0M422.9 189.2h0M412.3 202.5h0M419.0 213.5h0M391.6 212.5h0M405.2 219.7h0M399.7 203.8h0M385.1 200.5h0M421.6 192.6h0M407.3 205.0h0M419.9 204.7h0M407.7 210.4h0M398.8 200.3h0M402.6 203.0h0M406.6 214.8h0M407.5 213.3h0M390.4 204.5h0M410.0 196.5h0M400.5 211.6h0M389.3 203.2h0M394.7 214.5h0M410.4 211.6h0M386.7 201.1h0M403.7 220.4h0M395.8 208.8h0M398.5 203.3h0M393.8 208.1h0M394.0 199.7h0M403.3 197.2h0M398.1 204.6h0M402.8 195.1h0M387.7 201.7h0M404.7 197.6h0M409.6 206.5h0M415.4 215.2h0M407.6 204.2h0M406.2 212.6h0M387.6 201.3h0M417.3 188.9h0M417.1 207.2h0M411.4 202.2h0M414.6 207.5h0M388.8 200.8h0M412.0 207.9h0M390.4 199.1h0M388.7 203.2h0M405.4 206.6h0M385.7 195.8h0M389.5 213.0h0M399.3 208.2h0M403.4 214.4h0M401.6 208.6h0M413.8 197.4h0M407.1 200.7h0M388.3 203.9h0M416.4 194.7h0M420.0 191.9h0M403.5 205.6h0M417.4 193.1h0M406.4 197.0h0M409.3 210.7h0M407.2 195.8h0M389.7 198.0h0M387.6 198.0h0M407.2 199.3h0M409.6 215.9h0M404.0 208.2h0M388.3 209.9h0M392.0 195.7h0M410.0 198.7h0M411.1 194.8h0M412.8 192.6h0M402.3 215.8h0M412.6 217.3h0M391.1 200.4h0M395.4 197.8h0M411.9 198.1h0M414.1 191.0h0M415.2 206.8h0M395.9 201.1h0M414.9 192.3h0M418.0 207.1h0M405.0 195.9h0M399.6 218.3h0M398.5 205.0h0M419.3 187.0h0M414.1 217.3h0M419.0 204.7h0M404.4 217.3h0M394.4 194.9h0M387.2 206.4h0M404.0 214.0h0M410.9 195.4h0M420.1 193.3h0M412.6 207.0h0M416.6 199.7h0M393.4 195.6h0M392.9 199.1h0M397.3 208.9h0M389.0 209.6h0M410.9 200.1h0M418.9 207.6h0M416.7 217.7h0M414.6 195.0h0M411.9 211.2h0M387.7 201.5h0M402.7 202.5h0M423.5 189.7h0M410.4 208.6h0M399.5 211.7h0M399.5 207.0h0M399.0 217.2h0M388.4 193.8h0M408.3 197.8h0M403.1 206.7h0M392.1 196.4h0M405.6 198.5h0M407.3 195.5h0M414.9 211.6h0M387.9 193.8h0M385.6 197.9h0M403.9 211.9h0M422.3 188.6h0M418.1 211.8h0M410.0 214.9h0M400.7 212.1h0M391.1 216.6h0M416.4 217.8h0M413.9 217.7h0M398.2 203.4h0M384.7 201.4h0M398.3 196.4h0M391.5 215.7h0M403.5 218.2h0M418.8 192.0h0M388.1 199.8h0M423.6 189.9h0M411.1 214.5h0M417.8 212.4h0M405.6 203.5h0M398.8 207.8h0M406.6 207.3h0M413.5 201.6h0M414.2 213.3h0M414.2 209.7h0M389.9 203.4h0M411.3 205.2h0M405.5 207.1h0M414.1 207.1h0M398.3 209.2h0M396.3 213.6h0M396.8 204.7h0M412.0 192.7h0M413.4 203.2h0M402.7 209.6h0M400.7 215.6h0M394.3 207.6h0M407.1 201.0h0M415.2 206.6h0M416.9 198.4h0M407.4 195.6h0M387.0 195.0h0M391.0 216.7h0M407.3 205.0h0M403.3 202.2h0M386.2 205.9h0M393.9 210.0h0M392.0 198.3h0M403.2 195.6h0M410.0 207.8h0M396.5 201.3h0M405.4 202.5h0M412.9 193.6h0M407.2 198.1h0M418.6 194.2h0M419.4 196.7h0M420.9 187.5h0M421.0 187.1h0M416.2 189.7h0M395.3 205.0h0M417.8 203.4h0M401.4 201.9h0M398.5 218.3h0M397.8 219.7h0M412.8 204.4h0M399.5 218.3h0M414.1 215.0h0M398.5 201.4h0M399.4 218.4h0M385.8 201.2h0M388.8 203.1h0M417.7 195.8h0M403.9 201.5h0M419.7 209.7h0M403.2 204.4h0M419.1 198.0h0M397.9 216.2h0M399.4 204.5h0M419.2 194.3h0M405.5 216.7h0M391.4 197.8h0M423.3 186.9h0M401.6 215.9h0M405.3 202.8h0M395.6 213.1h0M395.4 217.1h0M415.7 217.3h0M410.0 215.1h0M402.4 195.9h0M398.7 200.4h0M388.0 194.5h0M396.7 196.1h0M386.3 208.0h0M400.6 220.0h0M414.7 199.9h0M389.0 208.5h0M400.0 213.0h0M404.9 207.8h0M411.6 193.8h0M416.5 202.8h0M415.8 213.7h0M407.0 212.3h0M410.9 209.1h0M411.4 207.5h0M409.8 197.5h0M406.5 196.0h0M410.0 195.6h0M393.2 202.5h0M403.9 210.7h0M398.8 197.7h0M417.6 216.2h0M393.6 196.6h0M398.4 214.5h0M405.2 194.6h0M416.3 189.1h0M406.5 217.6h0M416.3 205.1h0M410.4 199.2h0M405.8 216.2h0M405.9 218.3h0M397.9 219.1h0M395.4 195.7h0M408.0 202.5h0M395.3 208.9h0M411.0 208.6h0M414.0 198.2h0M386.0 201.8h0M393.2 205.3h0M422.0 187.1h0M414.3 203.4h0M404.4 206.7h0M391.5 216.3h0M414.8 196.8h0M393.2 217.0h0M417.0 196.2h0M412.5 193.3h0M412.7 214.3h0M400.5 206.2h0M407.5 194.9h0M398.7 209.7h0M397.8 206.4h0M397.6 204.1h0M417.1 208.2h0M401.7 195.4h0M403.9 209.6h0M398.2 217.0h0M422.0 189.0h0M396.9 198.9h0M416.4 201.7h0M406.5 204.8h0M419.3 187.8h0M405.6 216.0h0M393.5 207.9h0M401.8 217.3h0M405.7 215.6h0M389.4 210.4h0M411.4 210.0h0M405.8 206.8h0M386.5 203.6h0M418.4 202.6h0M398.2 205.1h0M413.3 214.1h0M414.6 199.1h0M396.8 205.3h0M420.9 189.4h0M396.9 201.1h0M400.5 196.0h0M386.0 208.7h0M417.6 213.3h0M396.5 214.4h0M396.0 218.3h0M414.7 213.5h0M423.9 188.9h0M396.5 209.4h0M402.4 218.1h0M403.8 205.3h0M407.7 216.5h0M402.9 199.9h0M399.8 220.2h0M385.2 200.4h0M414.9 203.1h0M386.3 200.9h0M416.2 204.3h0M415.4 205.5h0M410.8 196.0h0M408.7 194.2h0M395.0 210.0h0M394.9 213.2h0M399.9 206.3h0M419.5 192.0h0M392.0 207.2h0M391.8 197.2h0M410.0 205.2h0M409.5 214.5h0M416.3 192.1h0M417.6 203.2h0M415.4 218.8h0M409.0 218.8h0M407.3 210.7h0M396.2 213.6h0M419.0 204.9h0M410.4 198.2h0M389.7 203.9h0M416.4 197.1h0M411.0 218.1h0M398.2 216.1h0M405.5 196.4h0M413.7 215.8h0M414.1 201.4h0M419.3 202.5h0M404.9 213.4h0M390.9 203.5h0M413.9 201.9h0M406.4 213.5h0M401.7 210.9h0M415.2 197.6h0M418.9 213.3h0M401.5 194.8h0M419.9 199.1h0M418.3 188.0h0M389.3 202.4h0M400.5 198.4h0M406.8 223.9h0M395.7 224.2h0M386.6 230.8h0M399.1 222.6h0M410.4 223.0h0M413.1 222.8h0M394.3 227.3h0M405.3 228.2h0M405.9 230.8h0M384.9 228.3h0M395.6 229.7h0M414.8 229.2h0M384.7 227.4h0M400.6 226.9h0M400.2 221.9h0M394.9 229.2h0M400.9 230.5h0M413.4 221.4h0M394.3 230.3h0M405.2 220.7h0M411.5 223.7h0M415.0 228.7h0M386.1 229.0h0M407.2 230.9h0M387.0 228.1h0M415.2 221.2h0M393.0 223.8h0M393.4 221.6h0M413.7 226.3h0M408.7 225.2h0M397.7 222.6h0M390.1 224.5h0M400.8 224.9h0M407.2 224.1h0M386.2 228.7h0M403.0 221.2h0M394.4 220.9h0M400.4 226.1h0M409.8 225.0h0M412.8 229.7h0M411.2 222.1h0M387.8 229.0h0M409.2 225.1h0M395.8 229.5h0M409.6 229.4h0M402.4 228.3h0M409.2 226.5h0M401.2 224.0h0M412.2 220.5h0M397.8 219.9h0M413.6 222.2h0M390.0 227.2h0M404.5 227.6h0M384.4 229.0h0M411.3 220.7h0M404.8 228.8h0M392.8 221.1h0M386.6 226.2h0M398.9 223.6h0M405.7 221.4h0M400.1 231.1h0M392.6 229.3h0M407.3 228.2h0M387.7 225.3h0M382.7 228.7h0M410.2 224.6h0M411.2 226.8h0M386.7 230.5h0M391.8 227.8h0M404.6 230.7h0M398.3 229.0h0M402.0 224.9h0M411.3 225.9h0M407.1 227.4h0M399.2 224.5h0M389.9 222.0h0M413.4 226.9h0M416.5 226.5h0M413.1 220.1h0M412.2 222.0h0M416.6 224.9h0M412.0 225.8h0M418.7 229.8h0M413.1 224.4h0M416.8 221.2h0M416.8 224.5h0M415.9 226.5h0M413.5 228.2h0M411.7 219.2h0M413.8 219.4h0M417.3 220.7h0M414.7 228.3h0M376.6 225.0h0M374.0 215.5h0M373.7 228.2h0M374.2 228.3h0M377.0 227.2h0M368.5 210.5h0M369.7 215.6h0M370.3 212.8h0M372.3 217.6h0M372.1 215.4h0M372.8 218.0h0M373.7 219.9h0M369.5 216.6h0M375.3 222.5h0M371.2 221.1h0M372.7 224.4h0M371.9 227.3h0M370.4 210.8h0M371.5 212.4h0M376.4 225.8h0M376.7 226.6h0M374.3 218.4h0M370.5 221.6h0M373.2 226.8h0M372.2 216.2h0M370.5 215.3h0M368.3 210.3h0M369.7 214.5h0M368.5 210.8h0M369.2 211.2h0M375.3 223.5h0M370.7 220.5h0M377.4 226.9h0M369.2 218.4h0M375.1 222.5h0M372.8 215.4h0M369.5 212.8h0M373.4 223.6h0M373.4 226.1h0M373.6 213.5h0M371.7 226.9h0M369.4 215.1h0M374.3 226.1h0M391.6 215.9h0M388.3 222.1h0M382.0 222.8h0M390.8 218.3h0M388.4 218.4h0M391.3 219.9h0M374.4 227.1h0M375.5 227.3h0M378.2 226.7h0M385.8 224.0h0M388.5 222.2h0M392.8 218.1h0M376.7 226.5h0M380.9 226.7h0M393.3 218.8h0M381.5 223.0h0M392.9 216.2h0M378.6 223.6h0M389.7 216.9h0M384.2 222.1h0M393.3 217.1h0M392.6 217.7h0M388.6 219.3h0M377.6 225.3h0M384.0 221.9h0M389.9 220.2h0M385.4 223.3h0M382.7 224.0h0M391.3 217.6h0M383.2 224.5h0M377.3 229.5h0M389.8 220.8h0M380.5 223.6h0M383.2 223.6h0M381.6 224.5h0M376.8 228.8h0M385.1 218.8h0M376.8 230.0h0M377.2 226.0h0M385.3 223.2h0M377.2 226.1h0M377.3 224.1h0M393.1 217.1h0M390.0 216.7h0M377.5 226.8h0M392.0 204.0h0M381.0 212.9h0M377.7 204.5h0M382.4 211.1h0M390.8 197.6h0M384.7 202.0h0M379.2 201.1h0M387.0 197.8h0M390.3 205.0h0M380.7 206.7h0M379.3 207.9h0M386.4 205.5h0M389.7 212.8h0M393.7 200.5h0M391.1 204.6h0M388.0 213.3h0M388.1 208.5h0M391.1 203.7h0M385.3 213.9h0M379.9 201.1h0M380.7 206.9h0M385.4 204.9h0M379.0 209.1h0M376.0 206.7h0M374.7 206.2h0M375.7 194.4h0M375.8 205.1h0M381.3 189.9h0M385.6 195.5h0M378.0 212.4h0M384.2 201.4h0M382.8 190.1h0M380.8 207.3h0M377.9 186.5h0M379.0 203.4h0M376.3 194.8h0M375.1 194.4h0M377.2 200.8h0M382.8 208.2h0M382.3 210.2h0M374.0 206.4h0M380.2 198.5h0"/>
<path stroke="#4cbb2c" stroke-width="1.84" stroke-linecap="round" fill="none" d="M410.6 168.9h0M415.3 171.7h0M407.6 168.8h0M403.3 168.1h0M412.9 167.9h0M406.0 175.3h0M405.0 161.0h0M404.0 173.5h0M404.5 173.0h0M413.4 166.7h0M405.4 168.2h0M403.9 173.4h0M405.0 163.7h0M410.7 159.8h0M410.6 164.4h0M401.4 166.0h0M405.8 173.0h0M405.4 168.9h0M413.0 165.1h0M415.0 170.7h0M406.0 177.0h0M414.2 187.3h0M405.0 178.7h0M395.9 186.5h0M404.9 194.4h0M406.0 219.5h0M398.5 205.4h0M407.0 197.0h0M409.8 203.7h0M409.4 200.6h0M384.7 200.8h0M396.4 213.7h0M415.6 194.8h0M419.0 194.1h0M392.5 213.8h0M393.2 205.6h0M413.4 204.6h0M390.8 205.4h0M389.6 203.9h0M392.6 216.0h0M385.9 198.0h0M412.0 222.2h0M418.8 229.1h0M415.0 225.3h0M376.0 228.8h0M369.9 212.8h0M374.0 222.9h0M371.2 223.5h0M373.3 215.0h0M370.8 215.3h0M388.7 221.3h0M386.4 224.1h0M389.8 220.4h0"/>
<path stroke="#6874cc" stroke-width="1.84" stroke-linecap="round" fill="none" d="M412.6 163.1h0M410.2 169.5h0M404.4 165.4h0M387.7 191.5h0M413.1 189.0h0M404.8 193.6h0M414.8 175.2h0M412.6 186.6h0M399.5 185.4h0M388.9 177.2h0M400.0 189.7h0M398.6 192.0h0M386.4 179.8h0M400.3 182.5h0M421.3 180.7h0M419.3 181.0h0M422.1 176.2h0M430.6 178.2h0M424.0 184.6h0M421.2 180.6h0M418.2 181.7h0M424.1 173.7h0M425.1 173.9h0M427.7 181.9h0M429.8 181.2h0M418.3 184.7h0M431.0 195.8h0M441.9 194.1h0M442.6 188.8h0M444.4 193.1h0M437.3 214.0h0M443.7 198.5h0M431.6 187.4h0M441.8 207.1h0M443.5 206.2h0M439.4 206.0h0M444.0 204.1h0M436.8 199.5h0M440.2 195.2h0M435.2 209.0h0M444.4 210.0h0M429.0 191.2h0M435.7 202.7h0M426.8 193.5h0M429.5 190.4h0M436.4 215.8h0M443.9 216.8h0M429.6 197.3h0M423.5 193.0h0M437.1 198.6h0M433.8 209.7h0M440.5 212.8h0M440.9 191.2h0M437.5 203.9h0M430.3 193.2h0M430.8 191.4h0M435.2 192.3h0M434.5 196.4h0M430.1 195.3h0M439.1 188.6h0M444.3 192.1h0M441.7 194.2h0M438.5 190.3h0M425.4 187.7h0M443.3 199.7h0M429.5 192.5h0M432.3 198.3h0M436.2 213.3h0M436.3 216.1h0M436.6 208.3h0M444.1 198.0h0M427.0 195.4h0M434.0 206.5h0M441.4 199.1h0M426.2 190.6h0M435.6 193.1h0M424.8 217.8h0M435.9 219.1h0M426.4 229.5h0M425.6 213.2h0M433.7 225.0h0M435.5 227.0h0M422.2 213.7h0M437.0 220.1h0M425.5 222.4h0M428.7 226.1h0M430.2 219.9h0M442.2 222.7h0M432.0 222.2h0M418.6 224.4h0M428.6 228.9h0M421.4 219.6h0M436.7 224.0h0M430.4 218.8h0M426.9 227.3h0M427.8 229.7h0M428.8 217.1h0M430.6 225.1h0M429.5 220.1h0M429.5 220.1h0M434.9 218.3h0M435.3 227.2h0M424.1 226.4h0M439.5 223.3h0M423.6 223.6h0M435.9 217.1h0M429.8 199.7h0M428.1 208.1h0M425.6 204.7h0M422.2 201.5h0M424.0 207.4h0M402.3 213.6h0M387.3 210.1h0M413.6 191.1h0M399.6 210.3h0M396.0 218.4h0M391.4 212.2h0M401.6 218.3h0M414.8 210.8h0M418.4 195.9h0M399.9 205.9h0M390.0 207.0h0M398.4 212.6h0M398.9 203.6h0M393.0 203.7h0M414.7 210.8h0M396.1 212.9h0M414.5 212.7h0M388.8 228.0h0M402.9 222.5h0M397.2 224.1h0M408.1 222.0h0M398.2 230.3h0M420.3 229.0h0M418.2 227.6h0M416.4 224.8h0M413.8 227.2h0M415.0 225.0h0M392.5 217.3h0M381.2 225.9h0M388.9 212.4h0M391.0 200.6h0M380.8 211.1h0M384.3 202.8h0M383.7 206.8h0"/>
<path stroke="#48c4e4" stroke-width="1.84" stroke-linecap="round" fill="none" d="M411.2 158.1h0M403.6 171.3h0M413.8 167.6h0M414.9 168.1h0M426.9 170.9h0M431.8 174.0h0M432.4 173.8h0M429.1 174.0h0M423.9 184.2h0M424.4 176.9h0M433.3 173.1h0M438.4 197.8h0M434.2 199.9h0M435.2 192.9h0M437.3 201.0h0M443.8 205.6h0M431.1 193.7h0M430.8 191.9h0M432.2 195.5h0M438.8 197.2h0M425.3 193.6h0M437.2 201.9h0M431.9 200.1h0M436.3 199.2h0M444.8 195.2h0M441.6 201.0h0M439.4 205.5h0M443.6 200.4h0M434.1 196.5h0M441.4 193.7h0M436.5 198.4h0M431.1 190.3h0M443.9 196.2h0M432.5 187.4h0M442.1 187.9h0M435.7 208.4h0M443.7 198.5h0M440.2 203.3h0M434.0 196.4h0M436.4 192.9h0M439.7 201.6h0M431.3 198.1h0M429.8 197.9h0M442.2 199.5h0M440.1 210.8h0M433.3 188.9h0M436.6 191.2h0M437.8 217.5h0M425.7 187.2h0M441.2 201.9h0M437.7 196.4h0M436.5 208.9h0M440.7 219.1h0M430.5 191.6h0M438.9 199.0h0M427.7 192.1h0M441.5 188.6h0M442.0 192.9h0M438.8 200.0h0M436.8 185.7h0M443.5 196.3h0M444.2 196.4h0M423.8 192.9h0M442.3 212.2h0M436.3 204.7h0M435.9 188.5h0M438.3 213.4h0M436.2 193.6h0M429.3 198.7h0M436.3 185.6h0M440.8 218.3h0M443.3 192.5h0M426.9 187.1h0M444.7 193.6h0M443.9 195.2h0M440.8 189.9h0M432.0 188.6h0M431.9 191.9h0M428.1 195.7h0M429.1 188.2h0M436.0 194.1h0M431.8 188.6h0M437.7 197.8h0M444.3 193.3h0M445.2 213.8h0M434.7 188.4h0M434.0 192.6h0M425.1 221.5h0M429.8 221.9h0M429.1 219.7h0M421.4 213.0h0M425.7 215.0h0M434.4 214.9h0M423.7 224.4h0M417.4 219.7h0M429.0 217.4h0M433.8 217.2h0M441.9 223.0h0M427.7 212.9h0M425.9 223.3h0M440.7 227.7h0M432.2 216.1h0M376.8 227.2h0M375.0 225.7h0M371.6 211.9h0M369.7 212.2h0M373.0 217.2h0M379.3 226.9h0M384.7 223.9h0M376.4 229.6h0M391.6 217.3h0M393.3 218.7h0M380.2 224.5h0M384.8 221.5h0M378.5 224.1h0"/>
<path stroke="#3040b0" stroke-width="1.84" stroke-linecap="round" fill="none" d="M408.2 165.2h0M412.7 157.7h0M411.0 161.2h0M415.6 172.1h0M392.3 175.8h0M404.4 176.8h0M403.1 183.0h0M398.7 184.8h0M396.5 180.6h0M386.7 182.6h0M387.8 192.1h0M387.9 189.1h0M410.2 188.4h0M432.9 176.5h0M421.6 188.8h0M419.8 180.6h0M432.4 175.8h0M428.7 176.9h0M419.1 184.5h0M424.4 183.0h0M432.6 172.1h0M430.4 172.8h0M421.5 180.5h0M425.3 187.9h0M438.9 203.4h0M442.0 211.4h0M444.7 194.9h0M444.3 206.4h0M441.6 206.5h0M435.8 207.8h0M427.2 192.3h0M439.3 199.4h0M439.2 200.0h0M437.5 211.4h0M426.6 189.4h0M442.1 188.2h0M435.1 204.5h0M432.2 187.7h0M443.2 202.2h0M435.5 199.2h0M439.8 204.4h0M439.5 204.2h0M435.7 211.7h0M443.8 198.1h0M435.1 196.9h0M443.3 216.6h0M439.2 188.3h0M435.7 205.0h0M430.1 190.0h0M433.6 204.1h0M444.2 194.1h0M436.3 212.0h0M440.0 203.4h0M434.6 202.9h0M441.9 203.7h0M442.5 208.5h0M440.2 204.0h0M428.6 196.8h0M435.8 216.3h0M443.3 212.2h0M441.0 213.1h0M437.7 212.8h0M442.3 189.8h0M443.6 206.5h0M431.2 195.6h0M444.4 206.3h0M443.2 196.8h0M436.9 186.3h0M434.5 192.1h0M443.5 217.3h0M436.9 217.6h0M432.4 195.3h0M433.7 193.6h0M430.3 191.9h0M430.3 196.5h0M437.0 186.6h0M434.6 196.2h0M428.2 195.8h0M439.3 218.0h0M442.0 198.8h0M437.9 215.1h0M434.4 203.7h0M442.2 214.4h0M437.4 197.3h0M443.2 211.8h0M440.9 190.3h0M432.5 188.8h0M430.3 197.9h0M436.8 194.8h0M432.3 190.9h0M437.5 198.3h0M428.7 197.6h0M438.7 195.8h0M436.6 209.9h0M438.7 187.2h0M439.1 209.8h0M444.7 196.4h0M440.2 216.2h0M437.5 208.5h0M438.8 189.5h0M429.8 187.6h0M442.9 214.9h0M437.4 213.5h0M443.0 205.7h0M428.9 196.4h0M444.1 193.8h0M442.8 215.1h0M444.3 200.4h0M443.9 196.9h0M440.8 213.7h0M434.5 200.9h0M443.2 215.9h0M440.0 210.0h0M445.3 210.2h0M422.8 214.2h0M432.3 228.7h0M435.9 222.1h0M425.3 217.4h0M425.7 212.5h0M429.5 222.6h0M421.5 215.2h0M427.1 224.0h0M438.9 220.1h0M433.0 229.6h0M435.0 221.7h0M426.7 225.2h0M419.7 222.7h0M444.0 221.3h0M434.7 220.1h0M432.4 221.9h0M434.0 221.7h0M430.4 217.2h0M429.8 223.7h0M423.0 219.9h0M441.2 223.2h0M436.2 230.0h0M433.8 229.8h0M440.0 229.2h0M429.1 225.5h0M422.5 218.6h0M430.6 228.0h0M442.6 226.9h0M433.9 228.6h0M418.4 217.2h0M421.6 226.4h0M421.3 220.0h0M428.3 221.5h0M418.1 218.5h0M441.7 227.9h0M434.5 225.2h0M432.3 218.1h0M437.4 229.6h0M432.6 223.7h0M438.3 229.2h0M420.9 219.2h0M434.7 218.2h0M422.6 221.3h0M442.7 225.1h0M434.1 217.2h0M442.6 221.8h0M420.3 222.8h0M433.5 227.2h0M422.3 226.8h0M437.5 220.1h0M430.3 220.6h0M432.3 230.2h0M430.9 227.6h0M439.2 228.1h0M424.3 222.7h0M418.9 222.2h0M437.2 228.5h0M420.5 219.0h0M431.4 220.8h0M419.9 219.1h0M418.1 222.2h0M424.0 228.5h0M439.2 221.2h0M435.3 215.6h0M421.1 229.6h0M430.4 210.9h0M425.4 211.2h0M433.1 209.3h0M421.7 199.1h0M428.0 206.5h0M392.2 212.3h0M415.7 212.7h0M417.0 195.7h0M406.4 199.0h0M396.0 216.6h0M398.9 230.2h0M406.1 225.1h0M409.2 220.2h0M412.0 224.3h0M391.3 223.4h0M394.9 221.6h0M391.9 227.8h0M412.2 231.0h0M409.0 228.1h0M385.2 228.1h0M414.3 230.7h0M412.0 224.2h0M414.3 223.3h0M415.0 224.0h0M415.6 221.7h0M412.2 226.6h0M416.7 219.2h0M372.2 211.2h0M375.9 227.3h0M371.5 212.4h0M370.8 210.8h0M372.5 212.1h0M373.0 215.6h0M369.9 219.7h0M369.7 217.3h0M373.9 221.3h0M373.3 219.7h0M377.2 227.8h0M372.1 228.2h0M369.9 215.0h0M368.4 212.2h0M374.2 225.8h0M375.3 220.6h0M373.6 228.0h0M373.5 223.8h0M370.1 221.4h0M375.9 228.0h0M373.0 212.0h0M371.4 218.8h0M374.8 222.4h0M370.9 223.9h0M373.6 227.5h0M376.0 224.7h0M369.0 212.9h0M376.6 224.1h0M370.2 218.8h0M373.5 217.5h0M379.9 227.3h0M385.0 223.1h0M378.3 229.0h0M376.4 225.2h0M379.0 227.5h0M389.7 220.2h0M390.9 220.4h0M388.6 219.5h0M376.5 226.1h0M383.7 219.7h0M393.8 218.2h0M384.8 219.4h0M382.7 222.8h0M378.3 223.4h0M383.3 223.1h0M379.7 225.8h0M381.1 226.4h0M381.2 222.2h0M392.5 218.2h0M392.4 197.7h0M379.5 216.4h0M377.7 207.7h0M377.8 209.5h0M382.3 204.0h0M381.0 210.3h0M375.6 201.4h0M381.2 193.7h0"/>
<line x1="391.7" y1="42.7" x2="395.3" y2="47.9" stroke="#e8202c" stroke-width="1"/>
<path d="M397.6,51.3 L393.1,48.8 L396.9,46.2 Z" fill="#e8202c"/>
<line x1="411.6" y1="82.9" x2="414.1" y2="78.6" stroke="#e8202c" stroke-width="1"/>
<path d="M416.1,75.0 L415.8,80.1 L411.8,77.9 Z" fill="#e8202c"/>
<line x1="445.5" y1="73.9" x2="439.4" y2="74.8" stroke="#e8202c" stroke-width="1"/>
<path d="M435.3,75.4 L439.5,72.5 L440.2,77.0 Z" fill="#e8202c"/>
<line x1="386.8" y1="95.3" x2="390.0" y2="90.7" stroke="#e8202c" stroke-width="1"/>
<path d="M392.4,87.4 L391.6,92.5 L387.9,89.8 Z" fill="#e8202c"/>
<line x1="421.8" y1="153.2" x2="417.0" y2="156.2" stroke="#e8202c" stroke-width="1"/>
<path d="M413.5,158.3 L416.2,153.9 L418.6,157.9 Z" fill="#e8202c"/>
<line x1="443.4" y1="165.5" x2="438.9" y2="168.4" stroke="#e8202c" stroke-width="1"/>
<path d="M435.4,170.6 L438.0,166.2 L440.5,170.1 Z" fill="#e8202c"/>
<line x1="455.3" y1="194.9" x2="449.3" y2="195.7" stroke="#e8202c" stroke-width="1"/>
<path d="M445.2,196.2 L449.5,193.3 L450.1,197.9 Z" fill="#e8202c"/>
<line x1="454.2" y1="215.0" x2="448.4" y2="213.8" stroke="#e8202c" stroke-width="1"/>
<path d="M444.4,213.0 L449.4,211.7 L448.4,216.2 Z" fill="#e8202c"/>
<line x1="364.0" y1="227.9" x2="367.7" y2="223.1" stroke="#e8202c" stroke-width="1"/>
<path d="M370.2,219.8 L369.2,224.9 L365.6,222.1 Z" fill="#e8202c"/>
<line x1="350.5" y1="199.0" x2="345.1" y2="199.0" stroke="#e8202c" stroke-width="1"/>
<path d="M341.0,199.0 L345.6,196.7 L345.6,201.3 Z" fill="#e8202c"/>
<text x="446.2" y="35.1" font-size="8.0" text-anchor="start" fill="#222" style="stroke:#222;stroke-width:0.22px;" >Color threshold 0.5</text>
<rect x="469.5" y="71.4" width="4.22" height="3.8" fill="#c8c8c8" />
<rect x="473.42" y="71.4" width="4.22" height="3.8" fill="#c0c7bd" />
<rect x="477.34" y="71.4" width="4.22" height="3.8" fill="#b5c7ae" />
<rect x="481.26" y="71.4" width="4.22" height="3.8" fill="#a8c59a" />
<rect x="485.18" y="71.4" width="4.22" height="3.8" fill="#99c485" />
<rect x="489.1" y="71.4" width="4.22" height="3.8" fill="#89c36f" />
<rect x="493.02" y="71.4" width="4.22" height="3.8" fill="#7cc25c" />
<rect x="496.94" y="71.4" width="4.22" height="3.8" fill="#71c14d" />
<rect x="500.86" y="71.4" width="4.22" height="3.8" fill="#69c042" />
<rect x="504.78" y="71.4" width="4.22" height="3.8" fill="#64c03a" />
<rect x="469.5" y="67.9" width="4.22" height="3.8" fill="#bcbec6" />
<rect x="473.42" y="67.9" width="4.22" height="3.8" fill="#bbc8cb" />
<rect x="477.34" y="67.9" width="4.22" height="3.8" fill="#b2c7b6" />
<rect x="481.26" y="67.9" width="4.22" height="3.8" fill="#a6c69f" />
<rect x="485.18" y="67.9" width="4.22" height="3.8" fill="#98c488" />
<rect x="489.1" y="67.9" width="4.22" height="3.8" fill="#89c372" />
<rect x="493.02" y="67.9" width="4.22" height="3.8" fill="#7bc25e" />
<rect x="496.94" y="67.9" width="4.22" height="3.8" fill="#71c14e" />
<rect x="500.86" y="67.9" width="4.22" height="3.8" fill="#69c043" />
<rect x="504.78" y="67.9" width="4.22" height="3.8" fill="#64c03b" />
<rect x="469.5" y="64.4" width="4.22" height="3.8" fill="#acb0c4" />
<rect x="473.42" y="64.4" width="4.22" height="3.8" fill="#acb6c7" />
<rect x="477.34" y="64.4" width="4.22" height="3.8" fill="#a9c7cf" />
<rect x="481.26" y="64.4" width="4.22" height="3.8" fill="#9ec6b5" />
<rect x="485.18" y="64.4" width="4.22" height="3.8" fill="#92c598" />
<rect x="489.1" y="64.4" width="4.22" height="3.8" fill="#84c37e" />
<rect x="493.02" y="64.4" width="4.22" height="3.8" fill="#78c268" />
<rect x="496.94" y="64.4" width="4.22" height="3.8" fill="#6ec157" />
<rect x="500.86" y="64.4" width="4.22" height="3.8" fill="#66c14b" />
<rect x="504.78" y="64.4" width="4.22" height="3.8" fill="#61c043" />
<rect x="469.5" y="60.9" width="4.22" height="3.8" fill="#999fc1" />
<rect x="473.42" y="60.9" width="4.22" height="3.8" fill="#98a2c3" />
<rect x="477.34" y="60.9" width="4.22" height="3.8" fill="#96b1ca" />
<rect x="481.26" y="60.9" width="4.22" height="3.8" fill="#93c7d5" />
<rect x="485.18" y="60.9" width="4.22" height="3.8" fill="#87c5b8" />
<rect x="489.1" y="60.9" width="4.22" height="3.8" fill="#7ac49a" />
<rect x="493.02" y="60.9" width="4.22" height="3.8" fill="#6fc380" />
<rect x="496.94" y="60.9" width="4.22" height="3.8" fill="#66c26d" />
<rect x="500.86" y="60.9" width="4.22" height="3.8" fill="#5fc15f" />
<rect x="504.78" y="60.9" width="4.22" height="3.8" fill="#5ac156" />
<rect x="469.5" y="57.4" width="4.22" height="3.8" fill="#828bbe" />
<rect x="473.42" y="57.4" width="4.22" height="3.8" fill="#828ebf" />
<rect x="477.34" y="57.4" width="4.22" height="3.8" fill="#8099c4" />
<rect x="481.26" y="57.4" width="4.22" height="3.8" fill="#7daecf" />
<rect x="485.18" y="57.4" width="4.22" height="3.8" fill="#7ac6db" />
<rect x="489.1" y="57.4" width="4.22" height="3.8" fill="#6dc5bf" />
<rect x="493.02" y="57.4" width="4.22" height="3.8" fill="#63c4a4" />
<rect x="496.94" y="57.4" width="4.22" height="3.8" fill="#5ac38f" />
<rect x="500.86" y="57.4" width="4.22" height="3.8" fill="#54c27f" />
<rect x="504.78" y="57.4" width="4.22" height="3.8" fill="#4fc175" />
<rect x="469.5" y="53.9" width="4.22" height="3.8" fill="#6b78ba" />
<rect x="473.42" y="53.9" width="4.22" height="3.8" fill="#6b7abb" />
<rect x="477.34" y="53.9" width="4.22" height="3.8" fill="#6a82bf" />
<rect x="481.26" y="53.9" width="4.22" height="3.8" fill="#6895c9" />
<rect x="485.18" y="53.9" width="4.22" height="3.8" fill="#64aed5" />
<rect x="489.1" y="53.9" width="4.22" height="3.8" fill="#61c5e1" />
<rect x="493.02" y="53.9" width="4.22" height="3.8" fill="#56c4c9" />
<rect x="496.94" y="53.9" width="4.22" height="3.8" fill="#4dc3b4" />
<rect x="500.86" y="53.9" width="4.22" height="3.8" fill="#47c3a4" />
<rect x="504.78" y="53.9" width="4.22" height="3.8" fill="#42c29a" />
<rect x="469.5" y="50.4" width="4.22" height="3.8" fill="#5867b7" />
<rect x="473.42" y="50.4" width="4.22" height="3.8" fill="#5768b8" />
<rect x="477.34" y="50.4" width="4.22" height="3.8" fill="#566fbb" />
<rect x="481.26" y="50.4" width="4.22" height="3.8" fill="#547fc4" />
<rect x="485.18" y="50.4" width="4.22" height="3.8" fill="#5198d0" />
<rect x="489.1" y="50.4" width="4.22" height="3.8" fill="#4eb1dc" />
<rect x="493.02" y="50.4" width="4.22" height="3.8" fill="#4bc5e6" />
<rect x="496.94" y="50.4" width="4.22" height="3.8" fill="#42c4d4" />
<rect x="500.86" y="50.4" width="4.22" height="3.8" fill="#3bc3c5" />
<rect x="504.78" y="50.4" width="4.22" height="3.8" fill="#37c3bb" />
<rect x="469.5" y="46.9" width="4.22" height="3.8" fill="#4859b5" />
<rect x="473.42" y="46.9" width="4.22" height="3.8" fill="#475ab5" />
<rect x="477.34" y="46.9" width="4.22" height="3.8" fill="#4760b8" />
<rect x="481.26" y="46.9" width="4.22" height="3.8" fill="#456fc0" />
<rect x="485.18" y="46.9" width="4.22" height="3.8" fill="#4286cb" />
<rect x="489.1" y="46.9" width="4.22" height="3.8" fill="#3f9fd8" />
<rect x="493.02" y="46.9" width="4.22" height="3.8" fill="#3cb5e3" />
<rect x="496.94" y="46.9" width="4.22" height="3.8" fill="#3ac5eb" />
<rect x="500.86" y="46.9" width="4.22" height="3.8" fill="#33c4dd" />
<rect x="504.78" y="46.9" width="4.22" height="3.8" fill="#2ec3d4" />
<rect x="469.5" y="43.4" width="4.22" height="3.8" fill="#3c4fb3" />
<rect x="473.42" y="43.4" width="4.22" height="3.8" fill="#3c50b4" />
<rect x="477.34" y="43.4" width="4.22" height="3.8" fill="#3b55b6" />
<rect x="481.26" y="43.4" width="4.22" height="3.8" fill="#3963bd" />
<rect x="485.18" y="43.4" width="4.22" height="3.8" fill="#3779c8" />
<rect x="489.1" y="43.4" width="4.22" height="3.8" fill="#3392d5" />
<rect x="493.02" y="43.4" width="4.22" height="3.8" fill="#30a8e0" />
<rect x="496.94" y="43.4" width="4.22" height="3.8" fill="#2eb9e8" />
<rect x="500.86" y="43.4" width="4.22" height="3.8" fill="#2dc4ee" />
<rect x="504.78" y="43.4" width="4.22" height="3.8" fill="#28c4e5" />
<rect x="469.5" y="39.9" width="4.22" height="3.8" fill="#3448b2" />
<rect x="473.42" y="39.9" width="4.22" height="3.8" fill="#3449b2" />
<rect x="477.34" y="39.9" width="4.22" height="3.8" fill="#334eb5" />
<rect x="481.26" y="39.9" width="4.22" height="3.8" fill="#325bbb" />
<rect x="485.18" y="39.9" width="4.22" height="3.8" fill="#2f70c6" />
<rect x="489.1" y="39.9" width="4.22" height="3.8" fill="#2c89d3" />
<rect x="493.02" y="39.9" width="4.22" height="3.8" fill="#29a0de" />
<rect x="496.94" y="39.9" width="4.22" height="3.8" fill="#26b1e6" />
<rect x="500.86" y="39.9" width="4.22" height="3.8" fill="#25bcec" />
<rect x="504.78" y="39.9" width="4.22" height="3.8" fill="#24c4f0" />
<rect x="489.1" y="40.199999999999996" width="19.3" height="17.5" fill="none" stroke="#d03040" stroke-width="0.8"/>
<line x1="469.5" y1="39.9" x2="469.5" y2="75.4" stroke="#222" stroke-width="1" />
<line x1="469.0" y1="74.9" x2="508.7" y2="74.9" stroke="#222" stroke-width="1" />
<line x1="468.0" y1="42.3" x2="469.5" y2="42.3" stroke="#222" stroke-width="0.8" />
<text x="467.3" y="44.699999999999996" font-size="7" text-anchor="end" fill="#222" style="stroke:#222;stroke-width:0.22px;" >10.0</text>
<line x1="468.0" y1="51.0" x2="469.5" y2="51.0" stroke="#222" stroke-width="0.8" />
<text x="467.3" y="53.4" font-size="7" text-anchor="end" fill="#222" style="stroke:#222;stroke-width:0.22px;" >7.5</text>
<line x1="468.0" y1="59.3" x2="469.5" y2="59.3" stroke="#222" stroke-width="0.8" />
<text x="467.3" y="61.699999999999996" font-size="7" text-anchor="end" fill="#222" style="stroke:#222;stroke-width:0.22px;" >5.0</text>
<line x1="468.0" y1="68.6" x2="469.5" y2="68.6" stroke="#222" stroke-width="0.8" />
<text x="467.3" y="71.0" font-size="7" text-anchor="end" fill="#222" style="stroke:#222;stroke-width:0.22px;" >2.5</text>
<line x1="475.4" y1="74.9" x2="475.4" y2="76.4" stroke="#222" stroke-width="0.8" />
<text x="475.4" y="83.5" font-size="7" text-anchor="middle" fill="#222" style="stroke:#222;stroke-width:0.22px;" >2</text>
<line x1="482.75" y1="74.9" x2="482.75" y2="76.4" stroke="#222" stroke-width="0.8" />
<text x="482.75" y="83.5" font-size="7" text-anchor="middle" fill="#222" style="stroke:#222;stroke-width:0.22px;" >4</text>
<line x1="490.09999999999997" y1="74.9" x2="490.09999999999997" y2="76.4" stroke="#222" stroke-width="0.8" />
<text x="490.09999999999997" y="83.5" font-size="7" text-anchor="middle" fill="#222" style="stroke:#222;stroke-width:0.22px;" >6</text>
<line x1="497.45" y1="74.9" x2="497.45" y2="76.4" stroke="#222" stroke-width="0.8" />
<text x="497.45" y="83.5" font-size="7" text-anchor="middle" fill="#222" style="stroke:#222;stroke-width:0.22px;" >8</text>
<line x1="504.79999999999995" y1="74.9" x2="504.79999999999995" y2="76.4" stroke="#222" stroke-width="0.8" />
<text x="504.79999999999995" y="83.5" font-size="7" text-anchor="middle" fill="#222" style="stroke:#222;stroke-width:0.22px;" >10</text>
<text x="490" y="90.10000000000001" font-size="7.8" text-anchor="middle" fill="#333" style="stroke:#333;stroke-width:0.22px;font-style:italic;" >Ighv1-4</text>
<text x="0" y="0" font-size="7.8" text-anchor="middle" fill="#333" style="stroke:#333;stroke-width:0.22px;font-style:italic;" transform="translate(452.5,53.9) rotate(-90)" >gm1</text>
<text x="446.2" y="147.1" font-size="8.0" text-anchor="start" fill="#222" style="stroke:#222;stroke-width:0.22px;" >Color threshold 0.5</text>
<rect x="469.5" y="183.4" width="4.22" height="3.8" fill="#c8c8c8" />
<rect x="473.42" y="183.4" width="4.22" height="3.8" fill="#c0c7bd" />
<rect x="477.34" y="183.4" width="4.22" height="3.8" fill="#b5c7ae" />
<rect x="481.26" y="183.4" width="4.22" height="3.8" fill="#a8c59a" />
<rect x="485.18" y="183.4" width="4.22" height="3.8" fill="#99c485" />
<rect x="489.1" y="183.4" width="4.22" height="3.8" fill="#89c36f" />
<rect x="493.02" y="183.4" width="4.22" height="3.8" fill="#7cc25c" />
<rect x="496.94" y="183.4" width="4.22" height="3.8" fill="#71c14d" />
<rect x="500.86" y="183.4" width="4.22" height="3.8" fill="#69c042" />
<rect x="504.78" y="183.4" width="4.22" height="3.8" fill="#64c03a" />
<rect x="469.5" y="179.9" width="4.22" height="3.8" fill="#bcbec6" />
<rect x="473.42" y="179.9" width="4.22" height="3.8" fill="#bbc8cb" />
<rect x="477.34" y="179.9" width="4.22" height="3.8" fill="#b2c7b6" />
<rect x="481.26" y="179.9" width="4.22" height="3.8" fill="#a6c69f" />
<rect x="485.18" y="179.9" width="4.22" height="3.8" fill="#98c488" />
<rect x="489.1" y="179.9" width="4.22" height="3.8" fill="#89c372" />
<rect x="493.02" y="179.9" width="4.22" height="3.8" fill="#7bc25e" />
<rect x="496.94" y="179.9" width="4.22" height="3.8" fill="#71c14e" />
<rect x="500.86" y="179.9" width="4.22" height="3.8" fill="#69c043" />
<rect x="504.78" y="179.9" width="4.22" height="3.8" fill="#64c03b" />
<rect x="469.5" y="176.4" width="4.22" height="3.8" fill="#acb0c4" />
<rect x="473.42" y="176.4" width="4.22" height="3.8" fill="#acb6c7" />
<rect x="477.34" y="176.4" width="4.22" height="3.8" fill="#a9c7cf" />
<rect x="481.26" y="176.4" width="4.22" height="3.8" fill="#9ec6b5" />
<rect x="485.18" y="176.4" width="4.22" height="3.8" fill="#92c598" />
<rect x="489.1" y="176.4" width="4.22" height="3.8" fill="#84c37e" />
<rect x="493.02" y="176.4" width="4.22" height="3.8" fill="#78c268" />
<rect x="496.94" y="176.4" width="4.22" height="3.8" fill="#6ec157" />
<rect x="500.86" y="176.4" width="4.22" height="3.8" fill="#66c14b" />
<rect x="504.78" y="176.4" width="4.22" height="3.8" fill="#61c043" />
<rect x="469.5" y="172.9" width="4.22" height="3.8" fill="#999fc1" />
<rect x="473.42" y="172.9" width="4.22" height="3.8" fill="#98a2c3" />
<rect x="477.34" y="172.9" width="4.22" height="3.8" fill="#96b1ca" />
<rect x="481.26" y="172.9" width="4.22" height="3.8" fill="#93c7d5" />
<rect x="485.18" y="172.9" width="4.22" height="3.8" fill="#87c5b8" />
<rect x="489.1" y="172.9" width="4.22" height="3.8" fill="#7ac49a" />
<rect x="493.02" y="172.9" width="4.22" height="3.8" fill="#6fc380" />
<rect x="496.94" y="172.9" width="4.22" height="3.8" fill="#66c26d" />
<rect x="500.86" y="172.9" width="4.22" height="3.8" fill="#5fc15f" />
<rect x="504.78" y="172.9" width="4.22" height="3.8" fill="#5ac156" />
<rect x="469.5" y="169.4" width="4.22" height="3.8" fill="#828bbe" />
<rect x="473.42" y="169.4" width="4.22" height="3.8" fill="#828ebf" />
<rect x="477.34" y="169.4" width="4.22" height="3.8" fill="#8099c4" />
<rect x="481.26" y="169.4" width="4.22" height="3.8" fill="#7daecf" />
<rect x="485.18" y="169.4" width="4.22" height="3.8" fill="#7ac6db" />
<rect x="489.1" y="169.4" width="4.22" height="3.8" fill="#6dc5bf" />
<rect x="493.02" y="169.4" width="4.22" height="3.8" fill="#63c4a4" />
<rect x="496.94" y="169.4" width="4.22" height="3.8" fill="#5ac38f" />
<rect x="500.86" y="169.4" width="4.22" height="3.8" fill="#54c27f" />
<rect x="504.78" y="169.4" width="4.22" height="3.8" fill="#4fc175" />
<rect x="469.5" y="165.9" width="4.22" height="3.8" fill="#6b78ba" />
<rect x="473.42" y="165.9" width="4.22" height="3.8" fill="#6b7abb" />
<rect x="477.34" y="165.9" width="4.22" height="3.8" fill="#6a82bf" />
<rect x="481.26" y="165.9" width="4.22" height="3.8" fill="#6895c9" />
<rect x="485.18" y="165.9" width="4.22" height="3.8" fill="#64aed5" />
<rect x="489.1" y="165.9" width="4.22" height="3.8" fill="#61c5e1" />
<rect x="493.02" y="165.9" width="4.22" height="3.8" fill="#56c4c9" />
<rect x="496.94" y="165.9" width="4.22" height="3.8" fill="#4dc3b4" />
<rect x="500.86" y="165.9" width="4.22" height="3.8" fill="#47c3a4" />
<rect x="504.78" y="165.9" width="4.22" height="3.8" fill="#42c29a" />
<rect x="469.5" y="162.4" width="4.22" height="3.8" fill="#5867b7" />
<rect x="473.42" y="162.4" width="4.22" height="3.8" fill="#5768b8" />
<rect x="477.34" y="162.4" width="4.22" height="3.8" fill="#566fbb" />
<rect x="481.26" y="162.4" width="4.22" height="3.8" fill="#547fc4" />
<rect x="485.18" y="162.4" width="4.22" height="3.8" fill="#5198d0" />
<rect x="489.1" y="162.4" width="4.22" height="3.8" fill="#4eb1dc" />
<rect x="493.02" y="162.4" width="4.22" height="3.8" fill="#4bc5e6" />
<rect x="496.94" y="162.4" width="4.22" height="3.8" fill="#42c4d4" />
<rect x="500.86" y="162.4" width="4.22" height="3.8" fill="#3bc3c5" />
<rect x="504.78" y="162.4" width="4.22" height="3.8" fill="#37c3bb" />
<rect x="469.5" y="158.9" width="4.22" height="3.8" fill="#4859b5" />
<rect x="473.42" y="158.9" width="4.22" height="3.8" fill="#475ab5" />
<rect x="477.34" y="158.9" width="4.22" height="3.8" fill="#4760b8" />
<rect x="481.26" y="158.9" width="4.22" height="3.8" fill="#456fc0" />
<rect x="485.18" y="158.9" width="4.22" height="3.8" fill="#4286cb" />
<rect x="489.1" y="158.9" width="4.22" height="3.8" fill="#3f9fd8" />
<rect x="493.02" y="158.9" width="4.22" height="3.8" fill="#3cb5e3" />
<rect x="496.94" y="158.9" width="4.22" height="3.8" fill="#3ac5eb" />
<rect x="500.86" y="158.9" width="4.22" height="3.8" fill="#33c4dd" />
<rect x="504.78" y="158.9" width="4.22" height="3.8" fill="#2ec3d4" />
<rect x="469.5" y="155.4" width="4.22" height="3.8" fill="#3c4fb3" />
<rect x="473.42" y="155.4" width="4.22" height="3.8" fill="#3c50b4" />
<rect x="477.34" y="155.4" width="4.22" height="3.8" fill="#3b55b6" />
<rect x="481.26" y="155.4" width="4.22" height="3.8" fill="#3963bd" />
<rect x="485.18" y="155.4" width="4.22" height="3.8" fill="#3779c8" />
<rect x="489.1" y="155.4" width="4.22" height="3.8" fill="#3392d5" />
<rect x="493.02" y="155.4" width="4.22" height="3.8" fill="#30a8e0" />
<rect x="496.94" y="155.4" width="4.22" height="3.8" fill="#2eb9e8" />
<rect x="500.86" y="155.4" width="4.22" height="3.8" fill="#2dc4ee" />
<rect x="504.78" y="155.4" width="4.22" height="3.8" fill="#28c4e5" />
<rect x="469.5" y="151.9" width="4.22" height="3.8" fill="#3448b2" />
<rect x="473.42" y="151.9" width="4.22" height="3.8" fill="#3449b2" />
<rect x="477.34" y="151.9" width="4.22" height="3.8" fill="#334eb5" />
<rect x="481.26" y="151.9" width="4.22" height="3.8" fill="#325bbb" />
<rect x="485.18" y="151.9" width="4.22" height="3.8" fill="#2f70c6" />
<rect x="489.1" y="151.9" width="4.22" height="3.8" fill="#2c89d3" />
<rect x="493.02" y="151.9" width="4.22" height="3.8" fill="#29a0de" />
<rect x="496.94" y="151.9" width="4.22" height="3.8" fill="#26b1e6" />
<rect x="500.86" y="151.9" width="4.22" height="3.8" fill="#25bcec" />
<rect x="504.78" y="151.9" width="4.22" height="3.8" fill="#24c4f0" />
<rect x="489.1" y="152.20000000000002" width="19.3" height="17.5" fill="none" stroke="#d03040" stroke-width="0.8"/>
<line x1="469.5" y1="151.9" x2="469.5" y2="187.4" stroke="#222" stroke-width="1" />
<line x1="469.0" y1="186.9" x2="508.7" y2="186.9" stroke="#222" stroke-width="1" />
<line x1="468.0" y1="154.3" x2="469.5" y2="154.3" stroke="#222" stroke-width="0.8" />
<text x="467.3" y="156.70000000000002" font-size="7" text-anchor="end" fill="#222" style="stroke:#222;stroke-width:0.22px;" >10.0</text>
<line x1="468.0" y1="163.0" x2="469.5" y2="163.0" stroke="#222" stroke-width="0.8" />
<text x="467.3" y="165.4" font-size="7" text-anchor="end" fill="#222" style="stroke:#222;stroke-width:0.22px;" >7.5</text>
<line x1="468.0" y1="171.3" x2="469.5" y2="171.3" stroke="#222" stroke-width="0.8" />
<text x="467.3" y="173.70000000000002" font-size="7" text-anchor="end" fill="#222" style="stroke:#222;stroke-width:0.22px;" >5.0</text>
<line x1="468.0" y1="180.6" x2="469.5" y2="180.6" stroke="#222" stroke-width="0.8" />
<text x="467.3" y="183.0" font-size="7" text-anchor="end" fill="#222" style="stroke:#222;stroke-width:0.22px;" >2.5</text>
<line x1="475.4" y1="186.9" x2="475.4" y2="188.4" stroke="#222" stroke-width="0.8" />
<text x="475.4" y="195.5" font-size="7" text-anchor="middle" fill="#222" style="stroke:#222;stroke-width:0.22px;" >2</text>
<line x1="482.75" y1="186.9" x2="482.75" y2="188.4" stroke="#222" stroke-width="0.8" />
<text x="482.75" y="195.5" font-size="7" text-anchor="middle" fill="#222" style="stroke:#222;stroke-width:0.22px;" >4</text>
<line x1="490.09999999999997" y1="186.9" x2="490.09999999999997" y2="188.4" stroke="#222" stroke-width="0.8" />
<text x="490.09999999999997" y="195.5" font-size="7" text-anchor="middle" fill="#222" style="stroke:#222;stroke-width:0.22px;" >6</text>
<line x1="497.45" y1="186.9" x2="497.45" y2="188.4" stroke="#222" stroke-width="0.8" />
<text x="497.45" y="195.5" font-size="7" text-anchor="middle" fill="#222" style="stroke:#222;stroke-width:0.22px;" >8</text>
<line x1="504.79999999999995" y1="186.9" x2="504.79999999999995" y2="188.4" stroke="#222" stroke-width="0.8" />
<text x="504.79999999999995" y="195.5" font-size="7" text-anchor="middle" fill="#222" style="stroke:#222;stroke-width:0.22px;" >10</text>
<text x="490" y="202.1" font-size="7.8" text-anchor="middle" fill="#333" style="stroke:#333;stroke-width:0.22px;font-style:italic;" >lgic1s1</text>
<text x="5.8" y="142.3" font-size="11" text-anchor="start" fill="#111" style="font-weight:bold;" >B</text>
<line x1="18" y1="149" x2="18" y2="231" stroke="#888" stroke-width="1.2" />
<path d="M16.4,150 L18,146.6 L19.6,150 Z" fill="#222"/>
<text x="0" y="0" font-size="7" text-anchor="middle" fill="#333" style="stroke:#333;stroke-width:0.22px;" transform="translate(12.6,189) rotate(-90) scale(0.77,1)" >Lymphoid</text>
<text x="0" y="0" font-size="8.8" text-anchor="middle" fill="#333" style="stroke:#333;stroke-width:0.22px;font-style:italic;" transform="translate(25.2,189.3) rotate(-90)" >lgic1s1</text>
<line x1="36.5" y1="147.3" x2="36.5" y2="231" stroke="#5a5a5a" stroke-width="1.2" />
<line x1="36" y1="230.8" x2="119" y2="230.8" stroke="#5a5a5a" stroke-width="1.2" />
<line x1="34" y1="149.2" x2="36.5" y2="149.2" stroke="#5a5a5a" stroke-width="1" />
<text x="32" y="151.7" font-size="7" text-anchor="end" fill="#333" style="stroke:#333;stroke-width:0.22px;" >4</text>
<line x1="34" y1="164.6" x2="36.5" y2="164.6" stroke="#5a5a5a" stroke-width="1" />
<text x="32" y="167.1" font-size="7" text-anchor="end" fill="#333" style="stroke:#333;stroke-width:0.22px;" >3</text>
<line x1="34" y1="180.1" x2="36.5" y2="180.1" stroke="#5a5a5a" stroke-width="1" />
<text x="32" y="182.6" font-size="7" text-anchor="end" fill="#333" style="stroke:#333;stroke-width:0.22px;" >2</text>
<line x1="34" y1="195.5" x2="36.5" y2="195.5" stroke="#5a5a5a" stroke-width="1" />
<text x="32" y="198.0" font-size="7" text-anchor="end" fill="#333" style="stroke:#333;stroke-width:0.22px;" >1</text>
<line x1="34" y1="210.9" x2="36.5" y2="210.9" stroke="#5a5a5a" stroke-width="1" />
<text x="32" y="213.4" font-size="7" text-anchor="end" fill="#333" style="stroke:#333;stroke-width:0.22px;" >0</text>
<line x1="34" y1="226.3" x2="36.5" y2="226.3" stroke="#5a5a5a" stroke-width="1" />
<text x="32" y="228.8" font-size="7" text-anchor="end" fill="#333" style="stroke:#333;stroke-width:0.22px;" >−1</text>
<line x1="37.3" y1="230.8" x2="37.3" y2="233" stroke="#5a5a5a" stroke-width="1" />
<text x="37.3" y="241.5" font-size="7" text-anchor="middle" fill="#333" style="stroke:#333;stroke-width:0.22px;" >−2.5</text>
<line x1="58.9" y1="230.8" x2="58.9" y2="233" stroke="#5a5a5a" stroke-width="1" />
<text x="58.9" y="241.5" font-size="7" text-anchor="middle" fill="#333" style="stroke:#333;stroke-width:0.22px;" >0</text>
<line x1="80.7" y1="230.8" x2="80.7" y2="233" stroke="#5a5a5a" stroke-width="1" />
<text x="80.7" y="241.5" font-size="7" text-anchor="middle" fill="#333" style="stroke:#333;stroke-width:0.22px;" >2.5</text>
<line x1="102.7" y1="230.8" x2="102.7" y2="233" stroke="#5a5a5a" stroke-width="1" />
<text x="102.7" y="241.5" font-size="7" text-anchor="middle" fill="#333" style="stroke:#333;stroke-width:0.22px;" >5</text>
<text x="77.7" y="249" font-size="7.9" text-anchor="middle" fill="#333" style="stroke:#333;stroke-width:0.22px;font-style:italic;" >cebpba</text>
<line x1="36.6" y1="251.3" x2="211" y2="251.3" stroke="#444" stroke-width="1.2" />
<path d="M212.5,249.5 L216,251.3 L212.5,253.1 Z" fill="#111"/>
<text x="0" y="0" font-size="7" text-anchor="middle" fill="#222" style="stroke:#222;stroke-width:0.22px;" transform="translate(121,260.6) scale(0.76,1)" >Myeloid</text>
<line x1="59.4" y1="146.5" x2="59.4" y2="230" stroke="#d6d6d6" stroke-width="1.7" />
<path d="M60.3,208.8 V148 Q60.3,146.4 62,146.4 H116.5 Q118.3,146.4 118.3,148.2 V206.5 Q118.3,208.8 116,208.8 H60" fill="none" stroke="#999" stroke-width="0.9" stroke-dasharray="2.2,1.6"/>
<circle cx="60.8" cy="135.6" r="1.4" fill="#3399dd"/>
<circle cx="60.8" cy="142.3" r="1.4" fill="#dd2288"/>
<text x="65.1" y="137.1" font-size="7" text-anchor="start" fill="#333" style="stroke:#333;stroke-width:0.22px;" >wt</text>
<text x="65.1" y="144.0" font-size="7" text-anchor="start" fill="#444" style="stroke:#444;stroke-width:0.22px;font-style:italic;" >gata2b</text>
<text x="86.3" y="139.9" font-size="4" text-anchor="start" fill="#555" style="stroke:#555;stroke-width:0.22px;font-style:italic;" >-/-</text>
<text x="94.3" y="137.0" font-size="7" text-anchor="start" fill="#333" style="stroke:#333;stroke-width:0.22px;" >22.8%</text>
<text x="94.1" y="144.0" font-size="7" text-anchor="start" fill="#333" style="stroke:#333;stroke-width:0.22px;" >77.4%</text>
<path stroke="#cc1a78" stroke-width="1.50" stroke-linecap="round" fill="none" d="M87.5 211.1h0M96.0 208.6h0M107.8 209.9h0M81.7 210.6h0M62.4 210.5h0M100.2 210.0h0M87.1 212.2h0M57.3 210.5h0M63.1 209.3h0M56.9 210.2h0M92.4 211.1h0M68.4 210.1h0M52.6 210.1h0M66.7 211.6h0M101.8 210.1h0M93.4 211.4h0M113.2 210.5h0M68.7 208.9h0M42.7 211.4h0M56.3 212.4h0M67.1 209.0h0M49.9 210.3h0M100.2 212.5h0M48.7 211.0h0M86.6 209.5h0M81.8 212.1h0M65.1 210.9h0M92.3 210.7h0M53.8 211.5h0M71.6 210.4h0M85.4 209.6h0M103.2 210.7h0M95.4 209.5h0M49.8 209.4h0M52.9 210.2h0M77.6 211.4h0M77.0 210.1h0M69.5 210.8h0M78.5 211.1h0M99.1 210.9h0M68.4 210.7h0M90.5 209.2h0M68.5 210.3h0M98.2 211.5h0M63.5 209.8h0M60.3 209.6h0M75.8 209.6h0M67.4 209.3h0M95.9 209.5h0M79.8 211.8h0M54.1 211.4h0M92.5 210.1h0M95.3 210.7h0M90.6 209.4h0M87.5 209.6h0M44.0 209.5h0M74.2 210.8h0M88.1 211.8h0M76.4 210.9h0M65.2 210.7h0M56.1 209.7h0M86.7 210.7h0M59.4 211.4h0M62.3 210.5h0M50.4 210.3h0M86.8 210.7h0M81.8 208.6h0M101.8 209.5h0M101.3 210.2h0M85.5 210.8h0M86.4 210.5h0M49.9 210.5h0M86.9 209.3h0M69.4 209.2h0M58.5 211.3h0M85.5 210.4h0M72.3 211.5h0M62.9 210.4h0M50.9 209.8h0M99.1 210.7h0M62.0 210.6h0M61.5 209.9h0M86.4 209.8h0M96.3 209.6h0M97.5 209.7h0M63.7 210.3h0M75.9 210.5h0M44.7 209.4h0M75.3 211.3h0M73.2 209.8h0M93.7 208.6h0M70.1 210.7h0M104.2 210.0h0M92.7 212.0h0M62.9 210.9h0M76.9 210.2h0M78.3 211.1h0M101.3 211.4h0M58.8 210.8h0M93.2 209.3h0M103.5 209.2h0M94.0 208.8h0M63.4 211.2h0M72.2 211.4h0M87.4 211.1h0M47.3 211.0h0M84.0 210.8h0M73.5 210.2h0M85.8 211.3h0M53.0 210.2h0M78.9 209.4h0M61.2 210.1h0M60.6 210.0h0M59.1 210.5h0M95.8 210.2h0M48.2 209.3h0M48.7 210.0h0M106.0 210.2h0M65.6 211.8h0M45.9 210.8h0M58.3 211.7h0M101.9 210.3h0M87.6 210.6h0M86.8 211.3h0M70.2 211.1h0M100.7 209.4h0M104.2 209.6h0M96.0 209.9h0M49.1 210.6h0M106.9 210.7h0M97.5 208.7h0M87.2 210.8h0M76.0 210.8h0M69.3 210.9h0M106.3 210.5h0M53.8 211.2h0M59.2 212.4h0M68.9 210.9h0M92.2 208.5h0M50.6 210.9h0M63.3 210.4h0M56.7 210.0h0M58.8 208.6h0M68.6 211.8h0M76.2 210.4h0M53.9 209.2h0M91.1 210.0h0M113.2 209.8h0M71.9 208.0h0M79.9 209.7h0M48.8 211.3h0M110.3 209.9h0M59.8 210.3h0M60.6 210.7h0M64.3 212.7h0M55.1 211.0h0M71.4 211.1h0M49.9 210.9h0M104.5 211.6h0M77.5 210.6h0M69.5 210.2h0M64.5 208.6h0M102.3 211.0h0M48.4 211.0h0M101.8 210.7h0M59.9 210.8h0M73.3 210.5h0M93.1 210.8h0M56.6 210.2h0M72.7 210.8h0M96.9 211.5h0M97.5 209.7h0M74.3 209.3h0M95.1 208.7h0M61.5 210.2h0M46.8 210.8h0M61.2 210.4h0M97.8 210.8h0M44.0 211.0h0M86.7 211.1h0M73.3 210.4h0M84.7 210.6h0M95.1 210.0h0M93.8 210.4h0M50.6 211.3h0M73.7 210.0h0M98.0 208.3h0M85.5 210.0h0M101.4 212.7h0M77.2 211.3h0M70.7 210.4h0M83.1 211.1h0M96.8 210.1h0M104.0 211.0h0M71.3 211.0h0M44.8 209.6h0M49.2 211.0h0M100.2 210.2h0M91.9 209.4h0M69.5 209.4h0M79.4 210.8h0M65.2 211.3h0M64.8 209.2h0M71.1 210.7h0M92.6 209.0h0M68.5 210.2h0M91.6 210.4h0M48.4 210.8h0M84.4 210.3h0M109.8 209.8h0M94.3 210.5h0M92.2 209.2h0M95.9 210.8h0M107.4 211.5h0M70.7 210.1h0M89.7 210.8h0M70.2 210.1h0M94.2 209.5h0M106.7 210.3h0M87.4 211.1h0M54.2 210.6h0M46.6 209.9h0M95.1 209.6h0M108.0 211.0h0M62.5 211.0h0M44.2 210.4h0M83.1 210.7h0M85.4 211.0h0M92.4 211.4h0M65.2 210.9h0M89.1 210.7h0M103.4 211.8h0M49.4 210.7h0M53.1 210.8h0M49.7 210.4h0M100.7 208.9h0M87.6 210.8h0M46.7 210.7h0M69.3 209.9h0M48.1 209.2h0M81.7 211.3h0M69.3 211.3h0M78.2 210.8h0M97.5 210.4h0M63.6 209.7h0M95.8 210.6h0M69.9 209.2h0M99.6 210.5h0M63.6 211.1h0M45.7 209.7h0M59.4 211.1h0M49.0 210.8h0M70.2 211.2h0M101.2 210.9h0M97.9 211.1h0M75.5 210.6h0M79.7 211.0h0M74.3 212.8h0M48.2 211.7h0M79.1 210.1h0M70.7 209.5h0M88.4 211.0h0M72.2 211.4h0M69.6 208.8h0M97.2 211.4h0M72.8 211.7h0M72.8 209.8h0M90.7 210.6h0M54.4 211.2h0M56.3 210.9h0M85.7 210.7h0M110.4 212.4h0M55.5 210.4h0M69.2 211.9h0M53.1 211.8h0M48.6 210.3h0M89.0 209.8h0M84.5 211.2h0M59.6 210.4h0M95.4 211.6h0M77.1 212.0h0M72.6 210.6h0M86.6 211.4h0M67.2 210.8h0M63.7 209.4h0M69.0 208.9h0M94.1 212.9h0M64.0 209.7h0M110.0 209.2h0M80.6 210.9h0M109.5 209.0h0M52.1 210.0h0M78.1 210.7h0M46.4 211.4h0M67.0 211.2h0M62.1 210.4h0M96.1 211.1h0M70.4 209.5h0M59.9 211.2h0M107.5 209.9h0M52.0 210.4h0M42.7 209.4h0M102.2 210.7h0M85.0 210.3h0M94.6 210.0h0M111.3 210.1h0M48.8 209.3h0M103.6 210.8h0M97.1 210.5h0M97.3 210.5h0M107.8 210.8h0M61.2 211.0h0M57.0 210.3h0M73.0 210.8h0M89.5 211.1h0M92.2 211.3h0M83.8 210.9h0M78.0 211.0h0M90.4 210.8h0M63.4 208.9h0M60.9 211.0h0M87.9 210.1h0M111.8 210.6h0M49.5 209.7h0M103.6 212.7h0M70.0 211.2h0M94.9 209.9h0M49.0 210.9h0M94.3 210.7h0M64.0 210.3h0M49.6 210.5h0M83.2 210.7h0M49.9 212.4h0M76.0 209.7h0M98.1 210.2h0M73.9 210.4h0M82.2 210.0h0M79.6 210.8h0M69.9 211.2h0M101.2 210.1h0M52.2 211.4h0M74.4 210.1h0M83.9 210.2h0M60.7 211.9h0M97.4 210.9h0M92.7 210.9h0M51.7 211.3h0M87.2 211.0h0M53.9 211.4h0M60.4 211.2h0M50.9 209.9h0M88.7 211.5h0M62.6 210.8h0M72.7 210.2h0M89.8 210.5h0M104.3 210.5h0M72.7 210.2h0M95.4 209.8h0M93.9 210.6h0M78.1 210.0h0M99.7 210.6h0M81.1 210.3h0M50.7 212.1h0M59.4 210.2h0M89.5 210.1h0M62.0 210.0h0M89.9 210.5h0M73.7 209.5h0M95.7 209.3h0M74.5 209.7h0M46.5 210.8h0M46.1 210.1h0M97.9 209.6h0M100.6 210.7h0M80.1 210.9h0M87.5 209.1h0M86.8 211.2h0M46.8 209.6h0M49.3 211.0h0M63.9 210.8h0M70.4 212.2h0M92.3 210.0h0M71.4 210.3h0M75.3 210.6h0M92.6 209.9h0M99.9 209.2h0M90.2 211.5h0M74.4 209.6h0M65.9 209.9h0M56.0 209.2h0M103.3 211.5h0M68.5 211.1h0M63.0 211.0h0M49.7 211.2h0M82.1 210.9h0M109.5 209.8h0M53.0 211.6h0M97.3 210.9h0M100.6 211.5h0M81.2 209.9h0M73.1 210.8h0M63.5 209.9h0M47.2 210.7h0M85.4 211.7h0M95.3 209.8h0M98.8 212.0h0M91.5 210.1h0M88.8 210.5h0M88.5 209.5h0M74.3 210.4h0M62.3 211.6h0M59.8 211.1h0M48.6 211.1h0M49.0 210.2h0M111.0 210.2h0M91.8 211.0h0M49.2 209.9h0M75.1 211.6h0M46.2 210.4h0M102.0 211.1h0M67.3 211.1h0M75.0 209.6h0M86.9 210.1h0M74.1 210.7h0M64.3 209.6h0M54.8 209.8h0M95.6 211.6h0M108.1 211.4h0M47.9 210.2h0M53.8 211.7h0M92.6 211.5h0M87.2 209.2h0M54.9 210.0h0M50.1 211.6h0M69.0 212.4h0M70.5 209.8h0M96.6 209.8h0M54.7 210.7h0M60.6 209.4h0M75.2 210.9h0M90.1 209.4h0M78.8 210.5h0M98.8 209.9h0M53.8 211.5h0M62.0 211.1h0M58.1 210.7h0M44.4 211.4h0M64.8 212.8h0M46.8 211.9h0M99.1 210.5h0M54.3 211.0h0M94.6 210.7h0M95.3 211.4h0M70.0 209.9h0M62.6 210.4h0M50.8 211.4h0M60.1 211.4h0M103.1 210.2h0M85.2 209.9h0M88.3 211.0h0M99.7 210.6h0M84.7 210.6h0M58.7 209.9h0M62.6 209.5h0M57.1 211.3h0M93.5 211.3h0M77.6 209.6h0M47.8 209.6h0M76.0 211.7h0M67.3 211.3h0M80.1 210.1h0M86.2 211.5h0M64.8 209.4h0M89.1 210.7h0M74.6 210.6h0M109.8 210.9h0M78.4 211.2h0M53.8 210.6h0M108.4 209.7h0M87.6 211.6h0M58.7 211.2h0M60.8 209.9h0M77.4 209.8h0M76.8 209.3h0M98.2 210.3h0M78.9 210.3h0M66.2 209.7h0M86.8 211.4h0M105.1 210.0h0M59.2 208.5h0M84.5 210.2h0M93.8 210.3h0M59.0 208.9h0M91.7 210.7h0M94.5 207.3h0M73.2 211.7h0M81.4 212.7h0M91.1 210.5h0M107.1 214.2h0M79.6 212.7h0M96.1 211.5h0M76.1 210.0h0M84.6 209.5h0M97.0 207.2h0M98.7 212.9h0M104.3 211.6h0M93.9 209.4h0M79.1 214.2h0M88.1 208.8h0M91.1 208.5h0M108.1 209.0h0M81.1 210.7h0M47.2 212.6h0M77.0 210.3h0M46.8 212.6h0M62.3 215.7h0M63.7 211.3h0M88.1 209.6h0M81.5 212.8h0M65.7 209.6h0M61.1 210.6h0M51.9 210.6h0M53.8 209.7h0M60.5 210.1h0M75.6 213.9h0M51.8 209.5h0M53.5 210.4h0M95.8 212.6h0M94.6 212.2h0M79.8 212.1h0M109.3 210.7h0M92.7 210.7h0M64.3 210.5h0M74.7 215.0h0M53.9 208.9h0M72.2 210.2h0M78.4 209.4h0M64.3 210.9h0M71.9 209.6h0M50.9 211.2h0M85.0 218.8h0M78.6 209.6h0M78.4 208.7h0M68.2 211.0h0M52.0 211.1h0M70.7 214.2h0M66.3 210.8h0M59.4 210.0h0M57.8 213.2h0M63.2 210.5h0M102.7 210.2h0M87.8 213.0h0M99.2 211.4h0M83.2 211.0h0M48.2 212.3h0M78.4 211.7h0M103.1 213.0h0M76.5 210.9h0M106.6 209.9h0M75.9 212.1h0M105.0 213.5h0M48.8 207.8h0M62.5 208.9h0M88.9 208.1h0M46.6 209.9h0M55.3 212.4h0M58.9 209.3h0M61.6 210.5h0M71.2 213.7h0M93.6 210.0h0M57.0 211.6h0M92.8 210.7h0M75.4 208.7h0M91.7 209.8h0M58.5 211.3h0M51.4 216.4h0M71.2 210.2h0M76.5 214.7h0M55.2 214.7h0M47.1 208.5h0M74.3 211.2h0M67.7 214.0h0M63.7 210.0h0M77.2 213.7h0M76.2 209.9h0M96.3 213.6h0M82.9 209.8h0M96.1 210.4h0M71.5 209.7h0M54.4 214.2h0M65.7 211.1h0M60.8 211.1h0M88.3 210.7h0M67.6 208.7h0M103.9 212.0h0M58.5 212.1h0M82.3 210.5h0M86.5 209.9h0M84.3 215.5h0M90.9 213.5h0M63.0 214.1h0M84.8 210.5h0M61.5 209.4h0M65.8 214.1h0M75.1 210.3h0M81.1 210.0h0M49.0 209.7h0M81.3 222.4h0M78.7 227.7h0M47.1 227.8h0M48.1 221.0h0M53.1 219.2h0M74.5 224.6h0M60.6 227.4h0M63.7 221.4h0M66.9 222.2h0M49.4 222.1h0M72.6 224.2h0M71.9 218.9h0M84.8 224.5h0M85.6 224.7h0M61.4 224.6h0M71.8 217.0h0M56.4 217.8h0M48.2 214.0h0M46.1 222.2h0M53.7 227.8h0M70.1 220.1h0M89.5 222.1h0M63.7 221.7h0M76.6 222.5h0M83.1 221.0h0M56.7 223.1h0M57.1 217.7h0M56.7 223.6h0M65.0 214.9h0M64.7 213.5h0M68.9 215.1h0M70.6 216.1h0M64.2 216.2h0M68.8 217.3h0M65.5 213.6h0M67.0 213.5h0M71.2 214.5h0M70.5 214.4h0M66.9 215.6h0M68.6 214.1h0M68.3 215.9h0M65.1 213.2h0M61.6 213.5h0M71.0 214.1h0M61.9 215.9h0M66.5 220.3h0M69.8 214.3h0M64.8 215.0h0M72.8 215.5h0M71.5 219.5h0M68.8 213.5h0M71.8 218.2h0M67.7 213.8h0M72.4 217.3h0M67.7 214.3h0M68.2 214.7h0M60.6 216.1h0M63.3 213.0h0M66.4 216.7h0M68.8 214.8h0M64.1 216.4h0M70.3 214.9h0M67.5 215.7h0M70.7 216.1h0M61.3 217.8h0M70.8 217.2h0M60.1 216.5h0M71.1 215.7h0M79.3 191.0h0M64.9 187.3h0M71.4 203.5h0M63.8 188.0h0M63.8 198.3h0M67.4 188.1h0M62.3 192.5h0M72.7 203.2h0M71.4 182.7h0M71.1 190.9h0M59.2 193.2h0M75.0 196.4h0M86.2 176.9h0M97.7 205.0h0M99.8 202.3h0M60.8 154.0h0M72.9 195.5h0M81.9 164.1h0M63.1 163.8h0M64.2 157.9h0M59.9 160.8h0M58.6 184.7h0M58.5 196.7h0M59.7 199.2h0M59.9 190.9h0M68.4 154.8h0M97.7 156.7h0M98.9 160.9h0M98.9 166.5h0M66.0 164.5h0M66.0 169.4h0M58.7 160.9h0M59.9 167.0h0M85.5 175.5h0M69.6 177.9h0M73.3 182.8h0M63.5 186.5h0M66.0 190.0h0M74.5 190.0h0M77.0 192.6h0M79.4 195.0h0M81.8 193.8h0M92.8 193.8h0M72.0 196.2h0M85.5 197.4h0M63.5 199.9h0M69.6 202.3h0M79.4 203.5h0"/>
<path stroke="#3b9ad8" stroke-width="1.50" stroke-linecap="round" fill="none" d="M69.1 207.2h0M76.3 207.1h0M110.4 207.2h0M103.1 208.0h0M57.3 206.3h0M89.0 208.7h0M66.9 206.5h0M76.1 207.3h0M78.9 209.2h0M90.9 206.6h0M74.0 207.5h0M62.3 207.1h0M56.2 208.1h0M107.5 209.1h0M90.2 207.0h0M87.8 207.7h0M63.3 207.7h0M83.8 206.3h0M80.3 208.8h0M93.1 206.8h0M67.3 208.0h0M87.4 206.7h0M82.2 207.1h0M92.1 209.0h0M75.9 207.7h0M88.0 208.2h0M67.6 206.5h0M111.0 206.1h0M95.6 206.5h0M83.4 207.3h0M67.3 206.2h0M113.3 205.7h0M61.1 208.5h0M75.8 206.3h0M101.7 209.4h0M65.3 208.3h0M77.4 209.5h0M90.2 209.1h0M94.4 206.0h0M80.3 208.3h0M61.8 205.9h0M115.4 209.2h0M93.7 205.8h0M96.9 209.5h0M102.1 208.4h0M78.2 176.7h0M80.6 187.7h0"/>
<path stroke="#b0a8c8" stroke-width="1.50" stroke-linecap="round" fill="none" d="M188.4 226.8h0M185.8 226.1h0M177.2 226.7h0M176.4 226.4h0M182.4 226.1h0M189.4 226.0h0M190.5 226.1h0M187.7 226.6h0M171.1 226.0h0M168.4 225.9h0M192.3 226.4h0M191.9 226.2h0M168.6 226.0h0M178.0 226.1h0M171.0 226.2h0M169.3 227.0h0M173.5 225.7h0M182.7 226.3h0M188.3 226.3h0M191.0 226.3h0M191.3 226.0h0M186.6 226.0h0M189.6 226.2h0M190.1 225.8h0M185.9 226.5h0M190.1 225.8h0M174.5 226.3h0M169.0 226.1h0M190.8 226.1h0M166.8 226.4h0M176.0 226.7h0M180.5 226.2h0M168.2 226.7h0M188.2 225.9h0M173.6 226.3h0M183.1 226.5h0M174.6 226.2h0M185.4 226.3h0M167.8 226.7h0M173.8 226.9h0M175.0 226.7h0M177.6 226.2h0M177.9 226.6h0M185.2 226.5h0M190.5 226.6h0M178.4 226.0h0M188.1 226.4h0M168.2 225.8h0M184.9 225.8h0M182.5 226.4h0M173.7 226.8h0M190.1 226.3h0M221.7 226.4h0M206.6 226.2h0M213.4 226.8h0M193.6 226.4h0M208.7 226.3h0M194.2 226.0h0M218.3 226.3h0M200.3 227.0h0M211.2 225.9h0M203.3 226.5h0M221.3 226.3h0M195.7 226.5h0M219.3 226.7h0M222.5 226.8h0M222.5 226.6h0M216.5 226.4h0M223.1 226.3h0M193.5 226.6h0M194.8 226.1h0M207.8 226.8h0M205.1 226.3h0"/>
<path stroke="#3b9ad8" stroke-width="1.50" stroke-linecap="round" fill="none" d="M157.0 225.9h0M149.1 226.1h0M151.6 226.0h0M152.3 226.1h0M149.0 226.1h0M159.6 226.5h0M155.3 226.5h0M152.3 226.0h0M153.3 226.5h0M151.9 226.0h0M149.0 226.3h0M150.1 226.1h0M149.9 226.2h0M159.1 226.0h0M154.5 225.9h0M148.4 226.3h0M154.5 226.5h0M148.6 226.3h0M148.0 226.6h0M152.1 226.4h0M157.6 226.3h0M150.6 226.3h0M150.1 226.3h0M149.9 226.3h0M151.1 226.1h0M159.8 226.4h0M148.0 226.6h0M150.4 226.6h0M153.8 226.2h0M159.1 226.7h0M154.2 226.5h0M156.0 226.4h0M154.1 226.3h0M147.3 226.5h0M151.9 226.4h0M152.8 226.1h0M148.8 226.3h0M151.7 226.1h0M156.9 226.3h0M155.2 226.4h0M156.5 226.5h0M158.5 226.4h0M153.4 226.2h0M150.4 226.4h0M154.4 226.6h0M159.6 226.2h0M152.0 226.5h0M151.4 226.4h0M147.3 226.7h0M158.6 226.5h0M148.3 226.8h0M148.8 226.6h0M150.6 226.3h0M146.9 226.4h0M152.7 226.3h0M153.1 226.2h0M148.3 226.4h0M158.3 225.9h0M153.7 226.5h0M147.4 226.5h0M157.0 226.2h0M150.3 226.7h0M156.5 226.2h0M153.1 226.3h0M152.3 226.4h0M153.7 226.5h0M155.9 226.2h0M149.2 226.5h0M153.5 226.3h0M149.1 226.7h0M150.4 226.5h0M153.8 226.4h0M149.6 226.6h0M150.7 226.6h0M149.4 226.0h0M156.6 226.5h0M158.7 226.1h0M153.3 226.2h0M147.3 226.1h0M158.9 226.0h0M157.7 226.1h0M150.4 226.0h0M154.1 226.5h0M153.4 226.7h0M148.9 226.6h0M149.4 226.3h0M157.9 226.1h0M158.3 226.1h0M150.8 226.3h0M149.2 226.6h0M155.9 226.2h0M148.2 226.3h0M148.7 225.9h0M157.3 226.1h0M158.0 226.0h0M151.0 226.2h0M151.5 226.4h0M154.9 226.2h0M154.2 226.5h0M157.3 226.4h0M158.5 225.9h0M147.0 226.5h0M158.7 226.1h0M152.5 226.0h0M154.4 226.4h0M149.0 226.2h0M156.7 226.4h0M153.9 226.2h0M153.4 226.2h0M150.3 226.7h0M157.0 226.2h0M159.5 226.4h0M148.5 226.3h0M151.2 226.3h0M146.9 226.6h0M149.9 226.7h0M156.2 226.3h0M146.6 226.3h0M148.1 226.5h0M149.9 226.2h0M147.1 226.2h0M148.9 226.2h0M152.4 226.3h0M154.1 226.1h0M149.0 226.2h0M159.0 226.3h0M159.0 226.1h0M151.9 226.2h0M156.6 226.0h0M152.5 226.2h0M151.9 226.3h0M151.1 226.2h0M149.7 226.4h0M150.7 226.7h0M156.4 226.7h0M152.8 226.4h0M156.5 226.5h0M157.5 226.5h0M150.4 226.5h0M156.9 226.4h0M156.8 226.5h0M158.9 226.4h0M150.4 226.6h0M157.6 226.5h0M152.5 226.2h0M157.8 226.0h0M149.1 226.2h0M157.1 225.9h0M153.5 225.9h0M159.9 226.6h0M157.4 225.9h0M158.3 226.3h0M153.3 226.5h0M148.3 226.5h0M151.0 226.1h0M155.2 226.2h0M157.6 226.5h0M159.4 226.2h0M150.9 226.1h0M159.7 226.6h0M168.3 226.4h0M176.3 225.9h0M180.5 226.8h0M187.1 226.3h0M184.5 226.3h0M170.6 226.2h0M167.2 226.3h0M177.4 226.5h0M175.8 226.6h0M169.3 226.4h0M169.7 226.6h0M175.0 225.8h0M186.0 226.5h0M169.4 225.8h0M179.1 226.3h0M176.2 226.5h0M183.6 225.8h0M171.8 226.6h0M170.0 226.1h0M184.3 226.4h0M170.2 226.3h0M177.2 226.2h0M186.1 226.1h0M179.1 226.1h0M171.0 226.4h0M189.4 226.2h0M176.5 226.4h0M173.1 226.6h0M187.1 225.8h0M174.9 226.8h0M188.4 226.3h0M190.3 226.5h0M189.0 226.6h0M166.3 226.2h0M168.2 226.6h0M187.1 226.1h0M192.6 226.4h0M179.9 226.2h0M173.2 226.6h0M181.0 226.0h0M188.9 226.4h0M167.2 226.0h0M181.2 226.0h0M183.2 226.5h0M181.3 226.3h0M181.5 226.1h0M175.3 225.8h0M223.9 226.1h0M213.6 226.3h0M196.8 226.5h0M196.6 226.0h0M224.1 226.2h0M199.9 226.8h0M195.7 226.7h0M220.9 226.2h0M208.9 225.4h0M207.7 226.3h0M201.9 226.7h0M198.2 225.8h0M217.2 226.8h0M224.2 226.8h0M210.4 226.8h0M213.6 226.6h0M199.3 226.3h0M203.4 226.0h0M210.3 226.2h0M210.9 225.6h0M200.0 226.3h0M208.3 226.1h0M223.8 226.7h0M217.0 226.7h0"/>
<path stroke="#cc1a78" stroke-width="1.50" stroke-linecap="round" fill="none" d="M162.8 226.5h0M161.4 225.8h0M163.6 226.4h0M159.9 226.3h0M165.5 226.0h0M164.9 226.2h0M162.3 226.5h0M164.7 226.5h0M163.8 226.3h0M166.5 226.3h0M159.6 226.2h0M166.0 226.8h0M164.2 225.9h0M164.0 226.6h0M163.3 226.4h0M163.0 225.9h0M160.9 226.3h0M159.7 226.2h0M163.7 226.9h0M160.4 226.5h0M162.5 226.3h0M163.6 226.6h0M160.5 225.5h0M160.1 226.1h0M160.6 226.3h0M159.1 226.4h0M166.2 226.4h0M165.2 226.3h0M163.3 226.5h0M159.9 226.9h0M163.8 226.1h0M160.8 225.9h0M160.1 226.1h0M163.5 226.1h0M164.5 226.8h0M166.3 226.4h0M162.0 226.1h0M165.6 226.2h0M160.7 226.6h0M162.3 226.5h0M163.3 226.5h0M163.0 227.0h0M161.9 226.3h0M165.9 226.2h0M165.3 226.3h0M159.3 226.6h0M164.9 226.7h0M166.3 226.2h0M162.5 226.7h0M165.9 225.9h0M162.4 226.2h0M166.1 226.3h0M159.7 225.9h0M160.3 226.1h0M161.6 226.3h0M162.0 226.3h0M161.9 226.2h0M166.1 225.8h0M165.5 226.3h0M164.2 226.7h0M164.9 226.5h0M163.6 226.5h0M161.4 226.6h0M164.3 226.1h0M159.5 226.9h0M166.2 225.8h0M161.6 226.7h0M159.8 225.6h0M159.6 225.8h0M159.2 225.5h0M165.3 226.1h0M160.1 226.0h0M162.8 226.1h0M165.8 226.3h0M164.5 226.5h0M163.5 226.7h0M166.0 226.9h0M159.4 226.2h0M162.2 226.6h0M159.6 226.7h0M180.0 226.4h0M169.3 226.2h0M173.0 226.2h0M179.7 226.1h0M191.7 225.9h0M166.5 226.2h0M180.1 226.4h0M166.6 226.7h0M172.2 226.4h0M167.0 227.1h0M170.6 225.9h0M166.5 226.3h0M191.2 226.0h0M169.4 226.1h0M170.8 226.4h0M187.0 226.0h0M183.0 226.1h0M172.4 226.3h0M184.5 225.9h0M173.3 226.5h0M182.7 226.2h0"/>
<path stroke="#3b9ad8" stroke-width="1.40" stroke-linecap="round" fill="none" d="M152.2 188.7h0M153.2 182.5h0M151.5 165.8h0M153.3 192.3h0M153.3 166.0h0M151.5 191.1h0M152.2 180.8h0M151.8 194.9h0M152.9 193.1h0M152.2 182.1h0M152.1 180.9h0M152.0 181.0h0M153.3 196.7h0M151.6 190.5h0M153.0 175.2h0M153.2 203.2h0M151.4 188.4h0M152.1 180.9h0M152.5 199.4h0M152.6 200.8h0M151.8 196.5h0M152.1 167.6h0M153.0 186.1h0M151.8 201.0h0M152.3 190.7h0M153.4 174.4h0M152.4 184.7h0M151.9 184.1h0M153.3 191.8h0M151.9 191.1h0M152.6 176.3h0M152.7 176.7h0M152.9 177.2h0M153.0 173.0h0M151.7 174.5h0M151.6 200.1h0M153.4 178.6h0M151.8 200.4h0M153.1 170.5h0M151.9 182.4h0M151.6 168.9h0M152.1 164.6h0M151.6 187.4h0M151.9 202.0h0M153.3 190.5h0M151.9 194.7h0M152.0 199.9h0M152.2 191.5h0M152.9 192.0h0M152.9 175.1h0M151.6 176.3h0M153.3 160.7h0M151.9 173.5h0M152.2 199.9h0M151.7 163.9h0M151.3 175.0h0M152.8 180.3h0M152.7 183.1h0M152.1 178.2h0M151.4 203.7h0M178.0 198.9h0"/>
<path stroke="#cc1a78" stroke-width="1.50" stroke-linecap="round" fill="none" d="M151.7 205.6h0M152.9 212.0h0M155.9 206.8h0M151.6 205.3h0M152.4 205.2h0M154.4 210.8h0M152.5 204.7h0M154.8 210.2h0M152.4 210.1h0M153.0 206.9h0M156.7 204.8h0M153.5 207.0h0M152.5 210.0h0M154.4 213.0h0M156.1 204.5h0M154.7 207.2h0M152.9 206.6h0M152.4 212.8h0M155.4 204.2h0M156.1 206.8h0M154.9 203.8h0M153.4 206.6h0M154.3 213.1h0M152.3 206.9h0M156.8 199.6h0M153.7 204.5h0M155.1 208.2h0M153.9 204.7h0M156.1 203.4h0M152.4 202.3h0M151.9 205.0h0M153.6 207.1h0M153.4 213.5h0M152.2 212.5h0M152.9 204.4h0M153.2 207.3h0M154.1 203.3h0M153.8 210.2h0M153.6 210.8h0M152.5 201.9h0M154.7 205.5h0M153.6 207.0h0M152.4 207.6h0M157.4 210.4h0M153.0 203.5h0M153.5 201.4h0M153.4 204.6h0M157.0 212.0h0M153.0 206.5h0M153.2 203.1h0M153.8 210.8h0M152.3 211.9h0M154.8 205.6h0M156.9 209.3h0M155.8 205.6h0M152.7 211.6h0M154.0 209.5h0M153.3 209.8h0M151.8 208.1h0M153.4 207.9h0M152.7 209.4h0M152.0 207.4h0M152.5 206.8h0M153.7 205.1h0M153.6 209.2h0M152.5 207.0h0M151.9 206.9h0M152.8 211.5h0M152.5 205.4h0M156.9 211.0h0M152.1 208.4h0M151.7 213.0h0M153.8 210.7h0M155.0 205.4h0M152.6 210.2h0M153.0 210.0h0M156.9 201.6h0M152.8 203.7h0M152.8 203.7h0M153.0 211.2h0M151.8 209.1h0M153.9 209.2h0M154.0 207.6h0M154.6 206.1h0M153.5 209.4h0M152.6 203.6h0M154.4 209.2h0M152.2 211.5h0M155.2 209.2h0M153.7 210.5h0M152.6 210.3h0M152.1 207.0h0M153.6 209.4h0M152.1 201.5h0M154.2 202.5h0M153.3 206.6h0M152.4 208.3h0M152.0 205.1h0M152.2 208.5h0M153.1 205.9h0M151.9 211.0h0M151.8 206.2h0M154.4 205.2h0M154.6 205.8h0M153.0 201.7h0M154.3 186.7h0M154.8 194.0h0M157.6 194.2h0M152.9 198.7h0M155.2 197.8h0M157.6 191.7h0M152.9 189.7h0M157.6 200.8h0M156.9 189.4h0M152.8 200.1h0M155.2 192.3h0M152.5 180.7h0M153.9 170.6h0M153.1 190.8h0M152.5 163.2h0M152.3 178.9h0M153.9 174.3h0M153.0 170.7h0M160.9 173.2h0M164.6 196.5h0M170.7 200.0h0M168.2 207.5h0M170.7 208.7h0M172.4 204.3h0M159.9 148.3h0M163.5 149.5h0M153.0 160.6h0M154.2 166.2h0M156.7 169.1h0M155.5 172.8h0M162.0 190.0h0M160.0 185.0h0M166.0 201.0h0M158.0 178.0h0"/>
<text x="132" y="142.7" font-size="11" text-anchor="start" fill="#111" style="font-weight:bold;" >C</text>
<line x1="144.2" y1="145.2" x2="144.2" y2="230.5" stroke="#5a5a5a" stroke-width="1.2" />
<line x1="143.6" y1="230" x2="227.5" y2="230" stroke="#5a5a5a" stroke-width="1.2" />
<line x1="141.7" y1="160.1" x2="144.2" y2="160.1" stroke="#5a5a5a" stroke-width="1" />
<text x="139.7" y="162.6" font-size="7" text-anchor="end" fill="#333" style="stroke:#333;stroke-width:0.22px;" >4</text>
<line x1="141.7" y1="176.6" x2="144.2" y2="176.6" stroke="#5a5a5a" stroke-width="1" />
<text x="139.7" y="179.1" font-size="7" text-anchor="end" fill="#333" style="stroke:#333;stroke-width:0.22px;" >3</text>
<line x1="141.7" y1="193" x2="144.2" y2="193" stroke="#5a5a5a" stroke-width="1" />
<text x="139.7" y="195.5" font-size="7" text-anchor="end" fill="#333" style="stroke:#333;stroke-width:0.22px;" >2</text>
<line x1="141.7" y1="209.5" x2="144.2" y2="209.5" stroke="#5a5a5a" stroke-width="1" />
<text x="139.7" y="212.0" font-size="7" text-anchor="end" fill="#333" style="stroke:#333;stroke-width:0.22px;" >1</text>
<line x1="141.7" y1="226" x2="144.2" y2="226" stroke="#5a5a5a" stroke-width="1" />
<text x="139.7" y="228.5" font-size="7" text-anchor="end" fill="#333" style="stroke:#333;stroke-width:0.22px;" >0</text>
<line x1="151.8" y1="230" x2="151.8" y2="232.2" stroke="#5a5a5a" stroke-width="1" />
<text x="151.8" y="241.2" font-size="7" text-anchor="middle" fill="#333" style="stroke:#333;stroke-width:0.22px;" >0</text>
<line x1="167.43" y1="230" x2="167.43" y2="232.2" stroke="#5a5a5a" stroke-width="1" />
<text x="167.43" y="241.2" font-size="7" text-anchor="middle" fill="#333" style="stroke:#333;stroke-width:0.22px;" >1</text>
<line x1="183.06" y1="230" x2="183.06" y2="232.2" stroke="#5a5a5a" stroke-width="1" />
<text x="183.06" y="241.2" font-size="7" text-anchor="middle" fill="#333" style="stroke:#333;stroke-width:0.22px;" >2</text>
<line x1="198.69" y1="230" x2="198.69" y2="232.2" stroke="#5a5a5a" stroke-width="1" />
<text x="198.69" y="241.2" font-size="7" text-anchor="middle" fill="#333" style="stroke:#333;stroke-width:0.22px;" >3</text>
<line x1="214.32000000000002" y1="230" x2="214.32000000000002" y2="232.2" stroke="#5a5a5a" stroke-width="1" />
<text x="214.32000000000002" y="241.2" font-size="7" text-anchor="middle" fill="#333" style="stroke:#333;stroke-width:0.22px;" >4</text>
<text x="185" y="248.2" font-size="7.9" text-anchor="middle" fill="#333" style="stroke:#333;stroke-width:0.22px;font-style:italic;" >s100a10b</text>
<text x="0" y="0" font-size="8" text-anchor="middle" fill="#333" style="stroke:#333;stroke-width:0.22px;font-style:italic;" transform="translate(132.4,188) rotate(-90)" >Ikzf1</text>
<line x1="151.6" y1="145.5" x2="151.6" y2="229.5" stroke="#c8c8c8" stroke-width="1.2" />
<path d="M153,145.6 H222 Q223.4,145.6 223.4,147 V222 Q223.4,223.4 222,223.4 H155 Q153,223.4 153,221.4 Z" fill="none" stroke="#999" stroke-width="0.9" stroke-dasharray="2.2,1.6"/>
<circle cx="154.2" cy="134.3" r="1.4" fill="#3399dd"/>
<circle cx="154.2" cy="140.6" r="1.4" fill="#dd2288"/>
<text x="157.4" y="136.5" font-size="7" text-anchor="start" fill="#333" style="stroke:#333;stroke-width:0.22px;" >wt</text>
<text x="157.4" y="142.9" font-size="7" text-anchor="start" fill="#444" style="stroke:#444;stroke-width:0.22px;font-style:italic;" >gata2b</text>
<text x="178.6" y="138.8" font-size="4" text-anchor="start" fill="#555" style="stroke:#555;stroke-width:0.22px;font-style:italic;" >-/-</text>
<text x="188.6" y="136.6" font-size="7.2" text-anchor="start" fill="#333" style="stroke:#333;stroke-width:0.22px;" >5.0%</text>
<text x="188.2" y="143.1" font-size="7.3" text-anchor="start" fill="#333" style="stroke:#333;stroke-width:0.22px;" >95.0%</text>
</svg><div id="border"></div></div></body></html>
